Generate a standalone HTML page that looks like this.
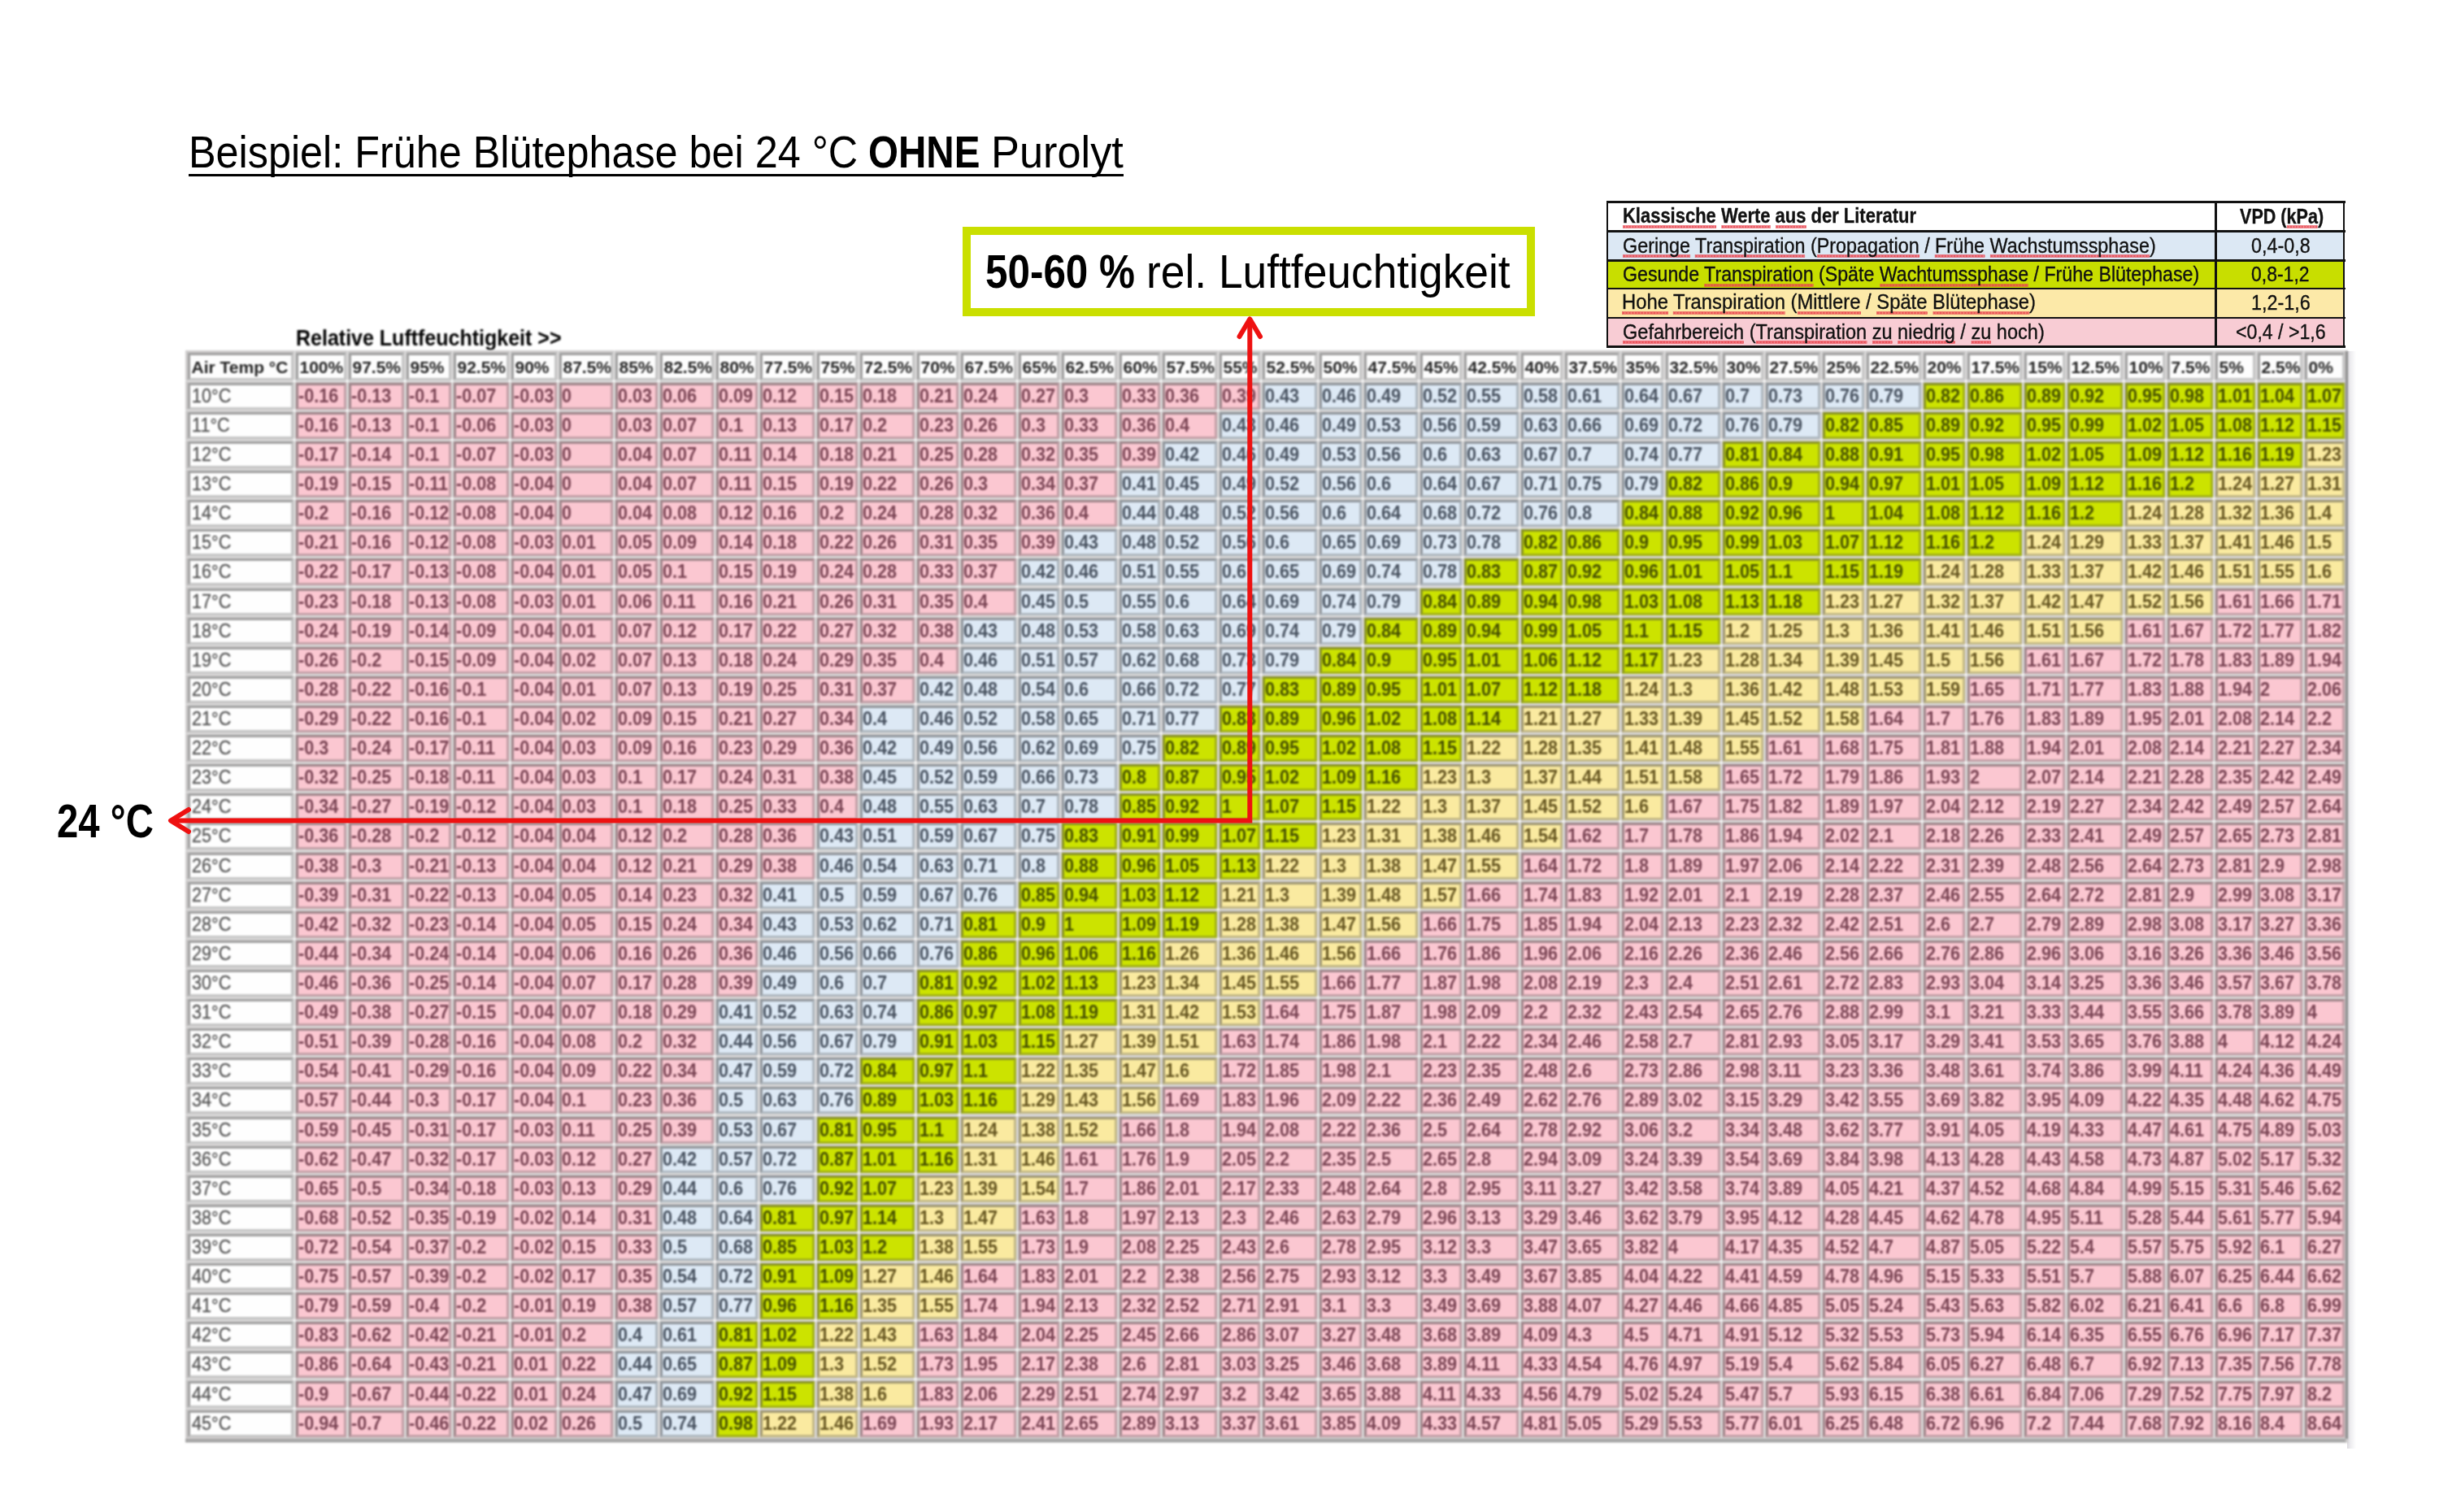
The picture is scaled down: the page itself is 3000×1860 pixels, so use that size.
<!DOCTYPE html>
<html><head><meta charset="utf-8">
<style>
html,body{margin:0;padding:0;background:#fff;}
body{width:3000px;height:1860px;position:relative;overflow:hidden;font-family:"Liberation Sans",sans-serif;}
.abs{position:absolute;white-space:nowrap;}
.t{line-height:1;color:#111;transform-origin:0 0;}
#tul{left:232px;top:213.5px;width:1150px;height:3.5px;background:#000;}
#gbox{left:1184px;top:278.6px;width:684px;height:90.5px;border:10px solid #cadf00;background:#fff;}
#tbl{position:absolute;left:228px;top:431px;width:2660px;height:1343.5px;background:#cfcdcd;filter:blur(1px);}
.c{position:absolute;box-sizing:border-box;border-style:solid;border-width:3.5px 3.5px 3.5px 3.5px;
   border-color:rgba(70,70,70,.5) rgba(70,70,70,.3) rgba(70,70,70,.3) rgba(70,70,70,.5);
   font-size:24px;line-height:26.5px;padding-left:0;white-space:nowrap;overflow:hidden;font-weight:bold;}
.c i{display:inline-block;font-style:normal;transform:scaleX(.9);transform-origin:0 0;margin-left:-0.5px;}
.h{background:#fdfdfd;color:#222;font-weight:bold;font-size:21px;line-height:30.9px;}
.h i{transform:none;margin-left:1.5px;}
.l i{margin-left:1.5px;}
.l{background:#fefefe;color:#555;font-weight:normal;-webkit-text-stroke:0.3px currentColor;}
.p{background:#fbc7d1;color:#7a4454;}
.b{background:#dde9f5;color:#485260;}
.g{background:#cce300;color:#465000;}
.y{background:#faeaa0;color:#665620;}
#cells{position:absolute;left:0;top:0;}
.lg{-webkit-text-stroke:0.35px currentColor;}
.wv{background-image:linear-gradient(45deg,transparent 30%,rgba(232,70,80,.7) 30%,rgba(232,70,80,.7) 65%,transparent 65%),linear-gradient(135deg,transparent 30%,rgba(232,70,80,.7) 30%,rgba(232,70,80,.7) 65%,transparent 65%);background-size:4px 4px;background-repeat:repeat-x;background-position:0 100%;padding-bottom:1.5px;}
</style></head><body>
<div id="tul" class="abs"></div>
<div id="gbox" class="abs"></div>
<div class="abs" style="left:1977px;top:248.6px;width:906px;height:35.7px;background:#ffffff"></div>
<div class="abs" style="left:1977px;top:284.3px;width:906px;height:36.4px;background:#dce8f4"></div>
<div class="abs" style="left:1977px;top:320.7px;width:906px;height:34.1px;background:#c8de00"></div>
<div class="abs" style="left:1977px;top:354.8px;width:906px;height:36.0px;background:#fce9a8"></div>
<div class="abs" style="left:1977px;top:390.8px;width:906px;height:35.7px;background:#f8ccd4"></div>
<div class="abs" style="left:1975.5px;top:247.30px;width:909px;height:2.6px;background:#111"></div>
<div class="abs" style="left:1975.5px;top:283.00px;width:909px;height:2.6px;background:#111"></div>
<div class="abs" style="left:1975.5px;top:319.40px;width:909px;height:2.6px;background:#111"></div>
<div class="abs" style="left:1975.5px;top:353.50px;width:909px;height:2.6px;background:#111"></div>
<div class="abs" style="left:1975.5px;top:389.50px;width:909px;height:2.6px;background:#111"></div>
<div class="abs" style="left:1975.5px;top:425.20px;width:909px;height:2.6px;background:#111"></div>
<div class="abs" style="left:1975.70px;top:247.3px;width:2.6px;height:180.5px;background:#111"></div>
<div class="abs" style="left:2724.00px;top:247.3px;width:2.6px;height:180.5px;background:#111"></div>
<div class="abs" style="left:2881.70px;top:247.3px;width:2.6px;height:180.5px;background:#111"></div>
<div class="abs t lg" style="left:1995.57px;top:253.13px;font-size:25.00px;font-weight:bold;transform:scaleX(0.8785);"><span class="wv">Klassische</span> <span class="wv">Werte</span> <span class="wv">aus</span> der Literatur</div>
<div class="abs t lg" style="left:1995.83px;top:289.83px;font-size:25.00px;transform:scaleX(0.9337);"><span class="wv">Geringe</span> <span class="wv">Transpiration</span> (<span class="wv">Propagation</span> / <span class="wv">Frühe</span> <span class="wv">Wachstumssphase</span>)</div>
<div class="abs t lg" style="left:1995.84px;top:325.33px;font-size:25.00px;transform:scaleX(0.9272);">Gesunde <span class="wv">Transpiration</span> (Späte <span class="wv">Wachtumssphase</span> / Frühe Blütephase)</div>
<div class="abs t lg" style="left:1995.10px;top:359.23px;font-size:25.00px;transform:scaleX(0.9513);"><span class="wv">Hohe</span> <span class="wv">Transpiration</span> (<span class="wv">Mittlere</span> / <span class="wv">Späte</span> <span class="wv">Blütephase</span>)</div>
<div class="abs t lg" style="left:1995.82px;top:395.63px;font-size:25.00px;transform:scaleX(0.9418);"><span class="wv">Gefahrbereich</span> (<span class="wv">Transpiration</span> <span class="wv">zu</span> <span class="wv">niedrig</span> / <span class="wv">zu</span> hoch)</div>
<div class="abs t lg" style="left:2754.59px;top:253.83px;font-size:25.00px;font-weight:bold;transform:scaleX(0.8626);">VPD (<span class="wv">kPa</span>)</div>
<div class="abs t lg" style="left:2769.07px;top:290.03px;font-size:25.00px;transform:scaleX(0.9333);">0,4-0,8</div>
<div class="abs t lg" style="left:2769.08px;top:325.33px;font-size:25.00px;transform:scaleX(0.9192);">0,8-1,2</div>
<div class="abs t lg" style="left:2768.84px;top:359.53px;font-size:25.00px;transform:scaleX(0.9362);">1,2-1,6</div>
<div class="abs t lg" style="left:2750.24px;top:395.93px;font-size:25.00px;transform:scaleX(0.9254);">&lt;0,4 / &gt;1,6</div>
<div class="abs t " style="left:363.87px;top:401.78px;font-size:27.90px;font-weight:bold;transform:scaleX(0.8964);filter:blur(1px);color:#000;">Relative Luftfeuchtigkeit &gt;&gt;</div>
<div class="abs t " style="left:70.24px;top:982.11px;font-size:57.50px;font-weight:bold;transform:scaleX(0.8227);color:#000;">24 °C</div>
<div class="abs t " style="left:231.97px;top:159.30px;font-size:56.10px;transform:scaleX(0.8973);color:#000;">Beispiel: Frühe Blütephase bei 24 °C</div>
<div class="abs t " style="left:1067.80px;top:159.30px;font-size:56.10px;font-weight:bold;transform:scaleX(0.8481);color:#000;">OHNE</div>
<div class="abs t " style="left:1218.81px;top:159.30px;font-size:56.10px;transform:scaleX(0.9327);color:#000;">Purolyt</div>
<div class="abs t " style="left:1212.32px;top:306.47px;font-size:57.56px;font-weight:bold;transform:scaleX(0.8583);color:#000;">50-60 %</div>
<div class="abs t " style="left:1409.73px;top:306.47px;font-size:57.56px;transform:scaleX(0.9267);color:#000;">rel. Luftfeuchtigkeit</div>
<div class="abs" style="left:2887px;top:432px;width:11px;height:1350px;background:linear-gradient(to right,#dcdadf,#eeedf0 40%,#fff)"></div>
<div id="tbl"><div id="cells" style="left:-228px;top:-431px">
<div class="abs" style="left:361.5px;top:431px;width:1px;height:1338px;background:#e4e4e4"></div>
<div class="abs" style="left:426.5px;top:431px;width:1px;height:1338px;background:#e4e4e4"></div>
<div class="abs" style="left:497.5px;top:431px;width:1px;height:1338px;background:#e4e4e4"></div>
<div class="abs" style="left:555.5px;top:431px;width:1px;height:1338px;background:#e4e4e4"></div>
<div class="abs" style="left:626.5px;top:431px;width:1px;height:1338px;background:#e4e4e4"></div>
<div class="abs" style="left:685.5px;top:431px;width:1px;height:1338px;background:#e4e4e4"></div>
<div class="abs" style="left:754.5px;top:431px;width:1px;height:1338px;background:#e4e4e4"></div>
<div class="abs" style="left:809.5px;top:431px;width:1px;height:1338px;background:#e4e4e4"></div>
<div class="abs" style="left:878.5px;top:431px;width:1px;height:1338px;background:#e4e4e4"></div>
<div class="abs" style="left:932.5px;top:431px;width:1px;height:1338px;background:#e4e4e4"></div>
<div class="abs" style="left:1002.5px;top:431px;width:1px;height:1338px;background:#e4e4e4"></div>
<div class="abs" style="left:1055.5px;top:431px;width:1px;height:1338px;background:#e4e4e4"></div>
<div class="abs" style="left:1125.5px;top:431px;width:1px;height:1338px;background:#e4e4e4"></div>
<div class="abs" style="left:1179.5px;top:431px;width:1px;height:1338px;background:#e4e4e4"></div>
<div class="abs" style="left:1250.5px;top:431px;width:1px;height:1338px;background:#e4e4e4"></div>
<div class="abs" style="left:1303.5px;top:431px;width:1px;height:1338px;background:#e4e4e4"></div>
<div class="abs" style="left:1374.5px;top:431px;width:1px;height:1338px;background:#e4e4e4"></div>
<div class="abs" style="left:1427.5px;top:431px;width:1px;height:1338px;background:#e4e4e4"></div>
<div class="abs" style="left:1497.5px;top:431px;width:1px;height:1338px;background:#e4e4e4"></div>
<div class="abs" style="left:1550.5px;top:431px;width:1px;height:1338px;background:#e4e4e4"></div>
<div class="abs" style="left:1620.5px;top:431px;width:1px;height:1338px;background:#e4e4e4"></div>
<div class="abs" style="left:1675.5px;top:431px;width:1px;height:1338px;background:#e4e4e4"></div>
<div class="abs" style="left:1744.5px;top:431px;width:1px;height:1338px;background:#e4e4e4"></div>
<div class="abs" style="left:1798.5px;top:431px;width:1px;height:1338px;background:#e4e4e4"></div>
<div class="abs" style="left:1868.5px;top:431px;width:1px;height:1338px;background:#e4e4e4"></div>
<div class="abs" style="left:1922.5px;top:431px;width:1px;height:1338px;background:#e4e4e4"></div>
<div class="abs" style="left:1992.5px;top:431px;width:1px;height:1338px;background:#e4e4e4"></div>
<div class="abs" style="left:2046.5px;top:431px;width:1px;height:1338px;background:#e4e4e4"></div>
<div class="abs" style="left:2116.5px;top:431px;width:1px;height:1338px;background:#e4e4e4"></div>
<div class="abs" style="left:2169.5px;top:431px;width:1px;height:1338px;background:#e4e4e4"></div>
<div class="abs" style="left:2239.5px;top:431px;width:1px;height:1338px;background:#e4e4e4"></div>
<div class="abs" style="left:2293.5px;top:431px;width:1px;height:1338px;background:#e4e4e4"></div>
<div class="abs" style="left:2363.5px;top:431px;width:1px;height:1338px;background:#e4e4e4"></div>
<div class="abs" style="left:2417.5px;top:431px;width:1px;height:1338px;background:#e4e4e4"></div>
<div class="abs" style="left:2487.5px;top:431px;width:1px;height:1338px;background:#e4e4e4"></div>
<div class="abs" style="left:2540.5px;top:431px;width:1px;height:1338px;background:#e4e4e4"></div>
<div class="abs" style="left:2611.5px;top:431px;width:1px;height:1338px;background:#e4e4e4"></div>
<div class="abs" style="left:2663.5px;top:431px;width:1px;height:1338px;background:#e4e4e4"></div>
<div class="abs" style="left:2722.5px;top:431px;width:1px;height:1338px;background:#e4e4e4"></div>
<div class="abs" style="left:2774.5px;top:431px;width:1px;height:1338px;background:#e4e4e4"></div>
<div class="abs" style="left:2832.5px;top:431px;width:1px;height:1338px;background:#e4e4e4"></div>
<div class="abs" style="left:228px;top:468.3px;width:2657px;height:1px;background:#e4e4e4"></div>
<div class="abs" style="left:228px;top:504.4px;width:2657px;height:1px;background:#e4e4e4"></div>
<div class="abs" style="left:228px;top:540.5px;width:2657px;height:1px;background:#e4e4e4"></div>
<div class="abs" style="left:228px;top:576.6px;width:2657px;height:1px;background:#e4e4e4"></div>
<div class="abs" style="left:228px;top:612.7px;width:2657px;height:1px;background:#e4e4e4"></div>
<div class="abs" style="left:228px;top:648.8px;width:2657px;height:1px;background:#e4e4e4"></div>
<div class="abs" style="left:228px;top:684.9px;width:2657px;height:1px;background:#e4e4e4"></div>
<div class="abs" style="left:228px;top:721.1px;width:2657px;height:1px;background:#e4e4e4"></div>
<div class="abs" style="left:228px;top:757.2px;width:2657px;height:1px;background:#e4e4e4"></div>
<div class="abs" style="left:228px;top:793.3px;width:2657px;height:1px;background:#e4e4e4"></div>
<div class="abs" style="left:228px;top:829.4px;width:2657px;height:1px;background:#e4e4e4"></div>
<div class="abs" style="left:228px;top:865.5px;width:2657px;height:1px;background:#e4e4e4"></div>
<div class="abs" style="left:228px;top:901.6px;width:2657px;height:1px;background:#e4e4e4"></div>
<div class="abs" style="left:228px;top:937.7px;width:2657px;height:1px;background:#e4e4e4"></div>
<div class="abs" style="left:228px;top:973.8px;width:2657px;height:1px;background:#e4e4e4"></div>
<div class="abs" style="left:228px;top:1009.9px;width:2657px;height:1px;background:#e4e4e4"></div>
<div class="abs" style="left:228px;top:1046.0px;width:2657px;height:1px;background:#e4e4e4"></div>
<div class="abs" style="left:228px;top:1082.1px;width:2657px;height:1px;background:#e4e4e4"></div>
<div class="abs" style="left:228px;top:1118.2px;width:2657px;height:1px;background:#e4e4e4"></div>
<div class="abs" style="left:228px;top:1154.4px;width:2657px;height:1px;background:#e4e4e4"></div>
<div class="abs" style="left:228px;top:1190.5px;width:2657px;height:1px;background:#e4e4e4"></div>
<div class="abs" style="left:228px;top:1226.6px;width:2657px;height:1px;background:#e4e4e4"></div>
<div class="abs" style="left:228px;top:1262.7px;width:2657px;height:1px;background:#e4e4e4"></div>
<div class="abs" style="left:228px;top:1298.8px;width:2657px;height:1px;background:#e4e4e4"></div>
<div class="abs" style="left:228px;top:1334.9px;width:2657px;height:1px;background:#e4e4e4"></div>
<div class="abs" style="left:228px;top:1371.0px;width:2657px;height:1px;background:#e4e4e4"></div>
<div class="abs" style="left:228px;top:1407.1px;width:2657px;height:1px;background:#e4e4e4"></div>
<div class="abs" style="left:228px;top:1443.2px;width:2657px;height:1px;background:#e4e4e4"></div>
<div class="abs" style="left:228px;top:1479.3px;width:2657px;height:1px;background:#e4e4e4"></div>
<div class="abs" style="left:228px;top:1515.4px;width:2657px;height:1px;background:#e4e4e4"></div>
<div class="abs" style="left:228px;top:1551.5px;width:2657px;height:1px;background:#e4e4e4"></div>
<div class="abs" style="left:228px;top:1587.6px;width:2657px;height:1px;background:#e4e4e4"></div>
<div class="abs" style="left:228px;top:1623.8px;width:2657px;height:1px;background:#e4e4e4"></div>
<div class="abs" style="left:228px;top:1659.9px;width:2657px;height:1px;background:#e4e4e4"></div>
<div class="abs" style="left:228px;top:1696.0px;width:2657px;height:1px;background:#e4e4e4"></div>
<div class="abs" style="left:228px;top:1732.1px;width:2657px;height:1px;background:#e4e4e4"></div>
<svg class="abs" style="left:0;top:0" width="3000" height="1860"><path fill="#fbfbfb" d="M360.5 467.3h3v3h-3zM360.5 503.4h3v3h-3zM360.5 539.5h3v3h-3zM360.5 575.6h3v3h-3zM360.5 611.7h3v3h-3zM360.5 647.8h3v3h-3zM360.5 683.9h3v3h-3zM360.5 720.1h3v3h-3zM360.5 756.2h3v3h-3zM360.5 792.3h3v3h-3zM360.5 828.4h3v3h-3zM360.5 864.5h3v3h-3zM360.5 900.6h3v3h-3zM360.5 936.7h3v3h-3zM360.5 972.8h3v3h-3zM360.5 1008.9h3v3h-3zM360.5 1045.0h3v3h-3zM360.5 1081.1h3v3h-3zM360.5 1117.2h3v3h-3zM360.5 1153.4h3v3h-3zM360.5 1189.5h3v3h-3zM360.5 1225.6h3v3h-3zM360.5 1261.7h3v3h-3zM360.5 1297.8h3v3h-3zM360.5 1333.9h3v3h-3zM360.5 1370.0h3v3h-3zM360.5 1406.1h3v3h-3zM360.5 1442.2h3v3h-3zM360.5 1478.3h3v3h-3zM360.5 1514.4h3v3h-3zM360.5 1550.5h3v3h-3zM360.5 1586.6h3v3h-3zM360.5 1622.8h3v3h-3zM360.5 1658.9h3v3h-3zM360.5 1695.0h3v3h-3zM360.5 1731.1h3v3h-3zM425.5 467.3h3v3h-3zM425.5 503.4h3v3h-3zM425.5 539.5h3v3h-3zM425.5 575.6h3v3h-3zM425.5 611.7h3v3h-3zM425.5 647.8h3v3h-3zM425.5 683.9h3v3h-3zM425.5 720.1h3v3h-3zM425.5 756.2h3v3h-3zM425.5 792.3h3v3h-3zM425.5 828.4h3v3h-3zM425.5 864.5h3v3h-3zM425.5 900.6h3v3h-3zM425.5 936.7h3v3h-3zM425.5 972.8h3v3h-3zM425.5 1008.9h3v3h-3zM425.5 1045.0h3v3h-3zM425.5 1081.1h3v3h-3zM425.5 1117.2h3v3h-3zM425.5 1153.4h3v3h-3zM425.5 1189.5h3v3h-3zM425.5 1225.6h3v3h-3zM425.5 1261.7h3v3h-3zM425.5 1297.8h3v3h-3zM425.5 1333.9h3v3h-3zM425.5 1370.0h3v3h-3zM425.5 1406.1h3v3h-3zM425.5 1442.2h3v3h-3zM425.5 1478.3h3v3h-3zM425.5 1514.4h3v3h-3zM425.5 1550.5h3v3h-3zM425.5 1586.6h3v3h-3zM425.5 1622.8h3v3h-3zM425.5 1658.9h3v3h-3zM425.5 1695.0h3v3h-3zM425.5 1731.1h3v3h-3zM496.5 467.3h3v3h-3zM496.5 503.4h3v3h-3zM496.5 539.5h3v3h-3zM496.5 575.6h3v3h-3zM496.5 611.7h3v3h-3zM496.5 647.8h3v3h-3zM496.5 683.9h3v3h-3zM496.5 720.1h3v3h-3zM496.5 756.2h3v3h-3zM496.5 792.3h3v3h-3zM496.5 828.4h3v3h-3zM496.5 864.5h3v3h-3zM496.5 900.6h3v3h-3zM496.5 936.7h3v3h-3zM496.5 972.8h3v3h-3zM496.5 1008.9h3v3h-3zM496.5 1045.0h3v3h-3zM496.5 1081.1h3v3h-3zM496.5 1117.2h3v3h-3zM496.5 1153.4h3v3h-3zM496.5 1189.5h3v3h-3zM496.5 1225.6h3v3h-3zM496.5 1261.7h3v3h-3zM496.5 1297.8h3v3h-3zM496.5 1333.9h3v3h-3zM496.5 1370.0h3v3h-3zM496.5 1406.1h3v3h-3zM496.5 1442.2h3v3h-3zM496.5 1478.3h3v3h-3zM496.5 1514.4h3v3h-3zM496.5 1550.5h3v3h-3zM496.5 1586.6h3v3h-3zM496.5 1622.8h3v3h-3zM496.5 1658.9h3v3h-3zM496.5 1695.0h3v3h-3zM496.5 1731.1h3v3h-3zM554.5 467.3h3v3h-3zM554.5 503.4h3v3h-3zM554.5 539.5h3v3h-3zM554.5 575.6h3v3h-3zM554.5 611.7h3v3h-3zM554.5 647.8h3v3h-3zM554.5 683.9h3v3h-3zM554.5 720.1h3v3h-3zM554.5 756.2h3v3h-3zM554.5 792.3h3v3h-3zM554.5 828.4h3v3h-3zM554.5 864.5h3v3h-3zM554.5 900.6h3v3h-3zM554.5 936.7h3v3h-3zM554.5 972.8h3v3h-3zM554.5 1008.9h3v3h-3zM554.5 1045.0h3v3h-3zM554.5 1081.1h3v3h-3zM554.5 1117.2h3v3h-3zM554.5 1153.4h3v3h-3zM554.5 1189.5h3v3h-3zM554.5 1225.6h3v3h-3zM554.5 1261.7h3v3h-3zM554.5 1297.8h3v3h-3zM554.5 1333.9h3v3h-3zM554.5 1370.0h3v3h-3zM554.5 1406.1h3v3h-3zM554.5 1442.2h3v3h-3zM554.5 1478.3h3v3h-3zM554.5 1514.4h3v3h-3zM554.5 1550.5h3v3h-3zM554.5 1586.6h3v3h-3zM554.5 1622.8h3v3h-3zM554.5 1658.9h3v3h-3zM554.5 1695.0h3v3h-3zM554.5 1731.1h3v3h-3zM625.5 467.3h3v3h-3zM625.5 503.4h3v3h-3zM625.5 539.5h3v3h-3zM625.5 575.6h3v3h-3zM625.5 611.7h3v3h-3zM625.5 647.8h3v3h-3zM625.5 683.9h3v3h-3zM625.5 720.1h3v3h-3zM625.5 756.2h3v3h-3zM625.5 792.3h3v3h-3zM625.5 828.4h3v3h-3zM625.5 864.5h3v3h-3zM625.5 900.6h3v3h-3zM625.5 936.7h3v3h-3zM625.5 972.8h3v3h-3zM625.5 1008.9h3v3h-3zM625.5 1045.0h3v3h-3zM625.5 1081.1h3v3h-3zM625.5 1117.2h3v3h-3zM625.5 1153.4h3v3h-3zM625.5 1189.5h3v3h-3zM625.5 1225.6h3v3h-3zM625.5 1261.7h3v3h-3zM625.5 1297.8h3v3h-3zM625.5 1333.9h3v3h-3zM625.5 1370.0h3v3h-3zM625.5 1406.1h3v3h-3zM625.5 1442.2h3v3h-3zM625.5 1478.3h3v3h-3zM625.5 1514.4h3v3h-3zM625.5 1550.5h3v3h-3zM625.5 1586.6h3v3h-3zM625.5 1622.8h3v3h-3zM625.5 1658.9h3v3h-3zM625.5 1695.0h3v3h-3zM625.5 1731.1h3v3h-3zM684.5 467.3h3v3h-3zM684.5 503.4h3v3h-3zM684.5 539.5h3v3h-3zM684.5 575.6h3v3h-3zM684.5 611.7h3v3h-3zM684.5 647.8h3v3h-3zM684.5 683.9h3v3h-3zM684.5 720.1h3v3h-3zM684.5 756.2h3v3h-3zM684.5 792.3h3v3h-3zM684.5 828.4h3v3h-3zM684.5 864.5h3v3h-3zM684.5 900.6h3v3h-3zM684.5 936.7h3v3h-3zM684.5 972.8h3v3h-3zM684.5 1008.9h3v3h-3zM684.5 1045.0h3v3h-3zM684.5 1081.1h3v3h-3zM684.5 1117.2h3v3h-3zM684.5 1153.4h3v3h-3zM684.5 1189.5h3v3h-3zM684.5 1225.6h3v3h-3zM684.5 1261.7h3v3h-3zM684.5 1297.8h3v3h-3zM684.5 1333.9h3v3h-3zM684.5 1370.0h3v3h-3zM684.5 1406.1h3v3h-3zM684.5 1442.2h3v3h-3zM684.5 1478.3h3v3h-3zM684.5 1514.4h3v3h-3zM684.5 1550.5h3v3h-3zM684.5 1586.6h3v3h-3zM684.5 1622.8h3v3h-3zM684.5 1658.9h3v3h-3zM684.5 1695.0h3v3h-3zM684.5 1731.1h3v3h-3zM753.5 467.3h3v3h-3zM753.5 503.4h3v3h-3zM753.5 539.5h3v3h-3zM753.5 575.6h3v3h-3zM753.5 611.7h3v3h-3zM753.5 647.8h3v3h-3zM753.5 683.9h3v3h-3zM753.5 720.1h3v3h-3zM753.5 756.2h3v3h-3zM753.5 792.3h3v3h-3zM753.5 828.4h3v3h-3zM753.5 864.5h3v3h-3zM753.5 900.6h3v3h-3zM753.5 936.7h3v3h-3zM753.5 972.8h3v3h-3zM753.5 1008.9h3v3h-3zM753.5 1045.0h3v3h-3zM753.5 1081.1h3v3h-3zM753.5 1117.2h3v3h-3zM753.5 1153.4h3v3h-3zM753.5 1189.5h3v3h-3zM753.5 1225.6h3v3h-3zM753.5 1261.7h3v3h-3zM753.5 1297.8h3v3h-3zM753.5 1333.9h3v3h-3zM753.5 1370.0h3v3h-3zM753.5 1406.1h3v3h-3zM753.5 1442.2h3v3h-3zM753.5 1478.3h3v3h-3zM753.5 1514.4h3v3h-3zM753.5 1550.5h3v3h-3zM753.5 1586.6h3v3h-3zM753.5 1622.8h3v3h-3zM753.5 1658.9h3v3h-3zM753.5 1695.0h3v3h-3zM753.5 1731.1h3v3h-3zM808.5 467.3h3v3h-3zM808.5 503.4h3v3h-3zM808.5 539.5h3v3h-3zM808.5 575.6h3v3h-3zM808.5 611.7h3v3h-3zM808.5 647.8h3v3h-3zM808.5 683.9h3v3h-3zM808.5 720.1h3v3h-3zM808.5 756.2h3v3h-3zM808.5 792.3h3v3h-3zM808.5 828.4h3v3h-3zM808.5 864.5h3v3h-3zM808.5 900.6h3v3h-3zM808.5 936.7h3v3h-3zM808.5 972.8h3v3h-3zM808.5 1008.9h3v3h-3zM808.5 1045.0h3v3h-3zM808.5 1081.1h3v3h-3zM808.5 1117.2h3v3h-3zM808.5 1153.4h3v3h-3zM808.5 1189.5h3v3h-3zM808.5 1225.6h3v3h-3zM808.5 1261.7h3v3h-3zM808.5 1297.8h3v3h-3zM808.5 1333.9h3v3h-3zM808.5 1370.0h3v3h-3zM808.5 1406.1h3v3h-3zM808.5 1442.2h3v3h-3zM808.5 1478.3h3v3h-3zM808.5 1514.4h3v3h-3zM808.5 1550.5h3v3h-3zM808.5 1586.6h3v3h-3zM808.5 1622.8h3v3h-3zM808.5 1658.9h3v3h-3zM808.5 1695.0h3v3h-3zM808.5 1731.1h3v3h-3zM877.5 467.3h3v3h-3zM877.5 503.4h3v3h-3zM877.5 539.5h3v3h-3zM877.5 575.6h3v3h-3zM877.5 611.7h3v3h-3zM877.5 647.8h3v3h-3zM877.5 683.9h3v3h-3zM877.5 720.1h3v3h-3zM877.5 756.2h3v3h-3zM877.5 792.3h3v3h-3zM877.5 828.4h3v3h-3zM877.5 864.5h3v3h-3zM877.5 900.6h3v3h-3zM877.5 936.7h3v3h-3zM877.5 972.8h3v3h-3zM877.5 1008.9h3v3h-3zM877.5 1045.0h3v3h-3zM877.5 1081.1h3v3h-3zM877.5 1117.2h3v3h-3zM877.5 1153.4h3v3h-3zM877.5 1189.5h3v3h-3zM877.5 1225.6h3v3h-3zM877.5 1261.7h3v3h-3zM877.5 1297.8h3v3h-3zM877.5 1333.9h3v3h-3zM877.5 1370.0h3v3h-3zM877.5 1406.1h3v3h-3zM877.5 1442.2h3v3h-3zM877.5 1478.3h3v3h-3zM877.5 1514.4h3v3h-3zM877.5 1550.5h3v3h-3zM877.5 1586.6h3v3h-3zM877.5 1622.8h3v3h-3zM877.5 1658.9h3v3h-3zM877.5 1695.0h3v3h-3zM877.5 1731.1h3v3h-3zM931.5 467.3h3v3h-3zM931.5 503.4h3v3h-3zM931.5 539.5h3v3h-3zM931.5 575.6h3v3h-3zM931.5 611.7h3v3h-3zM931.5 647.8h3v3h-3zM931.5 683.9h3v3h-3zM931.5 720.1h3v3h-3zM931.5 756.2h3v3h-3zM931.5 792.3h3v3h-3zM931.5 828.4h3v3h-3zM931.5 864.5h3v3h-3zM931.5 900.6h3v3h-3zM931.5 936.7h3v3h-3zM931.5 972.8h3v3h-3zM931.5 1008.9h3v3h-3zM931.5 1045.0h3v3h-3zM931.5 1081.1h3v3h-3zM931.5 1117.2h3v3h-3zM931.5 1153.4h3v3h-3zM931.5 1189.5h3v3h-3zM931.5 1225.6h3v3h-3zM931.5 1261.7h3v3h-3zM931.5 1297.8h3v3h-3zM931.5 1333.9h3v3h-3zM931.5 1370.0h3v3h-3zM931.5 1406.1h3v3h-3zM931.5 1442.2h3v3h-3zM931.5 1478.3h3v3h-3zM931.5 1514.4h3v3h-3zM931.5 1550.5h3v3h-3zM931.5 1586.6h3v3h-3zM931.5 1622.8h3v3h-3zM931.5 1658.9h3v3h-3zM931.5 1695.0h3v3h-3zM931.5 1731.1h3v3h-3zM1001.5 467.3h3v3h-3zM1001.5 503.4h3v3h-3zM1001.5 539.5h3v3h-3zM1001.5 575.6h3v3h-3zM1001.5 611.7h3v3h-3zM1001.5 647.8h3v3h-3zM1001.5 683.9h3v3h-3zM1001.5 720.1h3v3h-3zM1001.5 756.2h3v3h-3zM1001.5 792.3h3v3h-3zM1001.5 828.4h3v3h-3zM1001.5 864.5h3v3h-3zM1001.5 900.6h3v3h-3zM1001.5 936.7h3v3h-3zM1001.5 972.8h3v3h-3zM1001.5 1008.9h3v3h-3zM1001.5 1045.0h3v3h-3zM1001.5 1081.1h3v3h-3zM1001.5 1117.2h3v3h-3zM1001.5 1153.4h3v3h-3zM1001.5 1189.5h3v3h-3zM1001.5 1225.6h3v3h-3zM1001.5 1261.7h3v3h-3zM1001.5 1297.8h3v3h-3zM1001.5 1333.9h3v3h-3zM1001.5 1370.0h3v3h-3zM1001.5 1406.1h3v3h-3zM1001.5 1442.2h3v3h-3zM1001.5 1478.3h3v3h-3zM1001.5 1514.4h3v3h-3zM1001.5 1550.5h3v3h-3zM1001.5 1586.6h3v3h-3zM1001.5 1622.8h3v3h-3zM1001.5 1658.9h3v3h-3zM1001.5 1695.0h3v3h-3zM1001.5 1731.1h3v3h-3zM1054.5 467.3h3v3h-3zM1054.5 503.4h3v3h-3zM1054.5 539.5h3v3h-3zM1054.5 575.6h3v3h-3zM1054.5 611.7h3v3h-3zM1054.5 647.8h3v3h-3zM1054.5 683.9h3v3h-3zM1054.5 720.1h3v3h-3zM1054.5 756.2h3v3h-3zM1054.5 792.3h3v3h-3zM1054.5 828.4h3v3h-3zM1054.5 864.5h3v3h-3zM1054.5 900.6h3v3h-3zM1054.5 936.7h3v3h-3zM1054.5 972.8h3v3h-3zM1054.5 1008.9h3v3h-3zM1054.5 1045.0h3v3h-3zM1054.5 1081.1h3v3h-3zM1054.5 1117.2h3v3h-3zM1054.5 1153.4h3v3h-3zM1054.5 1189.5h3v3h-3zM1054.5 1225.6h3v3h-3zM1054.5 1261.7h3v3h-3zM1054.5 1297.8h3v3h-3zM1054.5 1333.9h3v3h-3zM1054.5 1370.0h3v3h-3zM1054.5 1406.1h3v3h-3zM1054.5 1442.2h3v3h-3zM1054.5 1478.3h3v3h-3zM1054.5 1514.4h3v3h-3zM1054.5 1550.5h3v3h-3zM1054.5 1586.6h3v3h-3zM1054.5 1622.8h3v3h-3zM1054.5 1658.9h3v3h-3zM1054.5 1695.0h3v3h-3zM1054.5 1731.1h3v3h-3zM1124.5 467.3h3v3h-3zM1124.5 503.4h3v3h-3zM1124.5 539.5h3v3h-3zM1124.5 575.6h3v3h-3zM1124.5 611.7h3v3h-3zM1124.5 647.8h3v3h-3zM1124.5 683.9h3v3h-3zM1124.5 720.1h3v3h-3zM1124.5 756.2h3v3h-3zM1124.5 792.3h3v3h-3zM1124.5 828.4h3v3h-3zM1124.5 864.5h3v3h-3zM1124.5 900.6h3v3h-3zM1124.5 936.7h3v3h-3zM1124.5 972.8h3v3h-3zM1124.5 1008.9h3v3h-3zM1124.5 1045.0h3v3h-3zM1124.5 1081.1h3v3h-3zM1124.5 1117.2h3v3h-3zM1124.5 1153.4h3v3h-3zM1124.5 1189.5h3v3h-3zM1124.5 1225.6h3v3h-3zM1124.5 1261.7h3v3h-3zM1124.5 1297.8h3v3h-3zM1124.5 1333.9h3v3h-3zM1124.5 1370.0h3v3h-3zM1124.5 1406.1h3v3h-3zM1124.5 1442.2h3v3h-3zM1124.5 1478.3h3v3h-3zM1124.5 1514.4h3v3h-3zM1124.5 1550.5h3v3h-3zM1124.5 1586.6h3v3h-3zM1124.5 1622.8h3v3h-3zM1124.5 1658.9h3v3h-3zM1124.5 1695.0h3v3h-3zM1124.5 1731.1h3v3h-3zM1178.5 467.3h3v3h-3zM1178.5 503.4h3v3h-3zM1178.5 539.5h3v3h-3zM1178.5 575.6h3v3h-3zM1178.5 611.7h3v3h-3zM1178.5 647.8h3v3h-3zM1178.5 683.9h3v3h-3zM1178.5 720.1h3v3h-3zM1178.5 756.2h3v3h-3zM1178.5 792.3h3v3h-3zM1178.5 828.4h3v3h-3zM1178.5 864.5h3v3h-3zM1178.5 900.6h3v3h-3zM1178.5 936.7h3v3h-3zM1178.5 972.8h3v3h-3zM1178.5 1008.9h3v3h-3zM1178.5 1045.0h3v3h-3zM1178.5 1081.1h3v3h-3zM1178.5 1117.2h3v3h-3zM1178.5 1153.4h3v3h-3zM1178.5 1189.5h3v3h-3zM1178.5 1225.6h3v3h-3zM1178.5 1261.7h3v3h-3zM1178.5 1297.8h3v3h-3zM1178.5 1333.9h3v3h-3zM1178.5 1370.0h3v3h-3zM1178.5 1406.1h3v3h-3zM1178.5 1442.2h3v3h-3zM1178.5 1478.3h3v3h-3zM1178.5 1514.4h3v3h-3zM1178.5 1550.5h3v3h-3zM1178.5 1586.6h3v3h-3zM1178.5 1622.8h3v3h-3zM1178.5 1658.9h3v3h-3zM1178.5 1695.0h3v3h-3zM1178.5 1731.1h3v3h-3zM1249.5 467.3h3v3h-3zM1249.5 503.4h3v3h-3zM1249.5 539.5h3v3h-3zM1249.5 575.6h3v3h-3zM1249.5 611.7h3v3h-3zM1249.5 647.8h3v3h-3zM1249.5 683.9h3v3h-3zM1249.5 720.1h3v3h-3zM1249.5 756.2h3v3h-3zM1249.5 792.3h3v3h-3zM1249.5 828.4h3v3h-3zM1249.5 864.5h3v3h-3zM1249.5 900.6h3v3h-3zM1249.5 936.7h3v3h-3zM1249.5 972.8h3v3h-3zM1249.5 1008.9h3v3h-3zM1249.5 1045.0h3v3h-3zM1249.5 1081.1h3v3h-3zM1249.5 1117.2h3v3h-3zM1249.5 1153.4h3v3h-3zM1249.5 1189.5h3v3h-3zM1249.5 1225.6h3v3h-3zM1249.5 1261.7h3v3h-3zM1249.5 1297.8h3v3h-3zM1249.5 1333.9h3v3h-3zM1249.5 1370.0h3v3h-3zM1249.5 1406.1h3v3h-3zM1249.5 1442.2h3v3h-3zM1249.5 1478.3h3v3h-3zM1249.5 1514.4h3v3h-3zM1249.5 1550.5h3v3h-3zM1249.5 1586.6h3v3h-3zM1249.5 1622.8h3v3h-3zM1249.5 1658.9h3v3h-3zM1249.5 1695.0h3v3h-3zM1249.5 1731.1h3v3h-3zM1302.5 467.3h3v3h-3zM1302.5 503.4h3v3h-3zM1302.5 539.5h3v3h-3zM1302.5 575.6h3v3h-3zM1302.5 611.7h3v3h-3zM1302.5 647.8h3v3h-3zM1302.5 683.9h3v3h-3zM1302.5 720.1h3v3h-3zM1302.5 756.2h3v3h-3zM1302.5 792.3h3v3h-3zM1302.5 828.4h3v3h-3zM1302.5 864.5h3v3h-3zM1302.5 900.6h3v3h-3zM1302.5 936.7h3v3h-3zM1302.5 972.8h3v3h-3zM1302.5 1008.9h3v3h-3zM1302.5 1045.0h3v3h-3zM1302.5 1081.1h3v3h-3zM1302.5 1117.2h3v3h-3zM1302.5 1153.4h3v3h-3zM1302.5 1189.5h3v3h-3zM1302.5 1225.6h3v3h-3zM1302.5 1261.7h3v3h-3zM1302.5 1297.8h3v3h-3zM1302.5 1333.9h3v3h-3zM1302.5 1370.0h3v3h-3zM1302.5 1406.1h3v3h-3zM1302.5 1442.2h3v3h-3zM1302.5 1478.3h3v3h-3zM1302.5 1514.4h3v3h-3zM1302.5 1550.5h3v3h-3zM1302.5 1586.6h3v3h-3zM1302.5 1622.8h3v3h-3zM1302.5 1658.9h3v3h-3zM1302.5 1695.0h3v3h-3zM1302.5 1731.1h3v3h-3zM1373.5 467.3h3v3h-3zM1373.5 503.4h3v3h-3zM1373.5 539.5h3v3h-3zM1373.5 575.6h3v3h-3zM1373.5 611.7h3v3h-3zM1373.5 647.8h3v3h-3zM1373.5 683.9h3v3h-3zM1373.5 720.1h3v3h-3zM1373.5 756.2h3v3h-3zM1373.5 792.3h3v3h-3zM1373.5 828.4h3v3h-3zM1373.5 864.5h3v3h-3zM1373.5 900.6h3v3h-3zM1373.5 936.7h3v3h-3zM1373.5 972.8h3v3h-3zM1373.5 1008.9h3v3h-3zM1373.5 1045.0h3v3h-3zM1373.5 1081.1h3v3h-3zM1373.5 1117.2h3v3h-3zM1373.5 1153.4h3v3h-3zM1373.5 1189.5h3v3h-3zM1373.5 1225.6h3v3h-3zM1373.5 1261.7h3v3h-3zM1373.5 1297.8h3v3h-3zM1373.5 1333.9h3v3h-3zM1373.5 1370.0h3v3h-3zM1373.5 1406.1h3v3h-3zM1373.5 1442.2h3v3h-3zM1373.5 1478.3h3v3h-3zM1373.5 1514.4h3v3h-3zM1373.5 1550.5h3v3h-3zM1373.5 1586.6h3v3h-3zM1373.5 1622.8h3v3h-3zM1373.5 1658.9h3v3h-3zM1373.5 1695.0h3v3h-3zM1373.5 1731.1h3v3h-3zM1426.5 467.3h3v3h-3zM1426.5 503.4h3v3h-3zM1426.5 539.5h3v3h-3zM1426.5 575.6h3v3h-3zM1426.5 611.7h3v3h-3zM1426.5 647.8h3v3h-3zM1426.5 683.9h3v3h-3zM1426.5 720.1h3v3h-3zM1426.5 756.2h3v3h-3zM1426.5 792.3h3v3h-3zM1426.5 828.4h3v3h-3zM1426.5 864.5h3v3h-3zM1426.5 900.6h3v3h-3zM1426.5 936.7h3v3h-3zM1426.5 972.8h3v3h-3zM1426.5 1008.9h3v3h-3zM1426.5 1045.0h3v3h-3zM1426.5 1081.1h3v3h-3zM1426.5 1117.2h3v3h-3zM1426.5 1153.4h3v3h-3zM1426.5 1189.5h3v3h-3zM1426.5 1225.6h3v3h-3zM1426.5 1261.7h3v3h-3zM1426.5 1297.8h3v3h-3zM1426.5 1333.9h3v3h-3zM1426.5 1370.0h3v3h-3zM1426.5 1406.1h3v3h-3zM1426.5 1442.2h3v3h-3zM1426.5 1478.3h3v3h-3zM1426.5 1514.4h3v3h-3zM1426.5 1550.5h3v3h-3zM1426.5 1586.6h3v3h-3zM1426.5 1622.8h3v3h-3zM1426.5 1658.9h3v3h-3zM1426.5 1695.0h3v3h-3zM1426.5 1731.1h3v3h-3zM1496.5 467.3h3v3h-3zM1496.5 503.4h3v3h-3zM1496.5 539.5h3v3h-3zM1496.5 575.6h3v3h-3zM1496.5 611.7h3v3h-3zM1496.5 647.8h3v3h-3zM1496.5 683.9h3v3h-3zM1496.5 720.1h3v3h-3zM1496.5 756.2h3v3h-3zM1496.5 792.3h3v3h-3zM1496.5 828.4h3v3h-3zM1496.5 864.5h3v3h-3zM1496.5 900.6h3v3h-3zM1496.5 936.7h3v3h-3zM1496.5 972.8h3v3h-3zM1496.5 1008.9h3v3h-3zM1496.5 1045.0h3v3h-3zM1496.5 1081.1h3v3h-3zM1496.5 1117.2h3v3h-3zM1496.5 1153.4h3v3h-3zM1496.5 1189.5h3v3h-3zM1496.5 1225.6h3v3h-3zM1496.5 1261.7h3v3h-3zM1496.5 1297.8h3v3h-3zM1496.5 1333.9h3v3h-3zM1496.5 1370.0h3v3h-3zM1496.5 1406.1h3v3h-3zM1496.5 1442.2h3v3h-3zM1496.5 1478.3h3v3h-3zM1496.5 1514.4h3v3h-3zM1496.5 1550.5h3v3h-3zM1496.5 1586.6h3v3h-3zM1496.5 1622.8h3v3h-3zM1496.5 1658.9h3v3h-3zM1496.5 1695.0h3v3h-3zM1496.5 1731.1h3v3h-3zM1549.5 467.3h3v3h-3zM1549.5 503.4h3v3h-3zM1549.5 539.5h3v3h-3zM1549.5 575.6h3v3h-3zM1549.5 611.7h3v3h-3zM1549.5 647.8h3v3h-3zM1549.5 683.9h3v3h-3zM1549.5 720.1h3v3h-3zM1549.5 756.2h3v3h-3zM1549.5 792.3h3v3h-3zM1549.5 828.4h3v3h-3zM1549.5 864.5h3v3h-3zM1549.5 900.6h3v3h-3zM1549.5 936.7h3v3h-3zM1549.5 972.8h3v3h-3zM1549.5 1008.9h3v3h-3zM1549.5 1045.0h3v3h-3zM1549.5 1081.1h3v3h-3zM1549.5 1117.2h3v3h-3zM1549.5 1153.4h3v3h-3zM1549.5 1189.5h3v3h-3zM1549.5 1225.6h3v3h-3zM1549.5 1261.7h3v3h-3zM1549.5 1297.8h3v3h-3zM1549.5 1333.9h3v3h-3zM1549.5 1370.0h3v3h-3zM1549.5 1406.1h3v3h-3zM1549.5 1442.2h3v3h-3zM1549.5 1478.3h3v3h-3zM1549.5 1514.4h3v3h-3zM1549.5 1550.5h3v3h-3zM1549.5 1586.6h3v3h-3zM1549.5 1622.8h3v3h-3zM1549.5 1658.9h3v3h-3zM1549.5 1695.0h3v3h-3zM1549.5 1731.1h3v3h-3zM1619.5 467.3h3v3h-3zM1619.5 503.4h3v3h-3zM1619.5 539.5h3v3h-3zM1619.5 575.6h3v3h-3zM1619.5 611.7h3v3h-3zM1619.5 647.8h3v3h-3zM1619.5 683.9h3v3h-3zM1619.5 720.1h3v3h-3zM1619.5 756.2h3v3h-3zM1619.5 792.3h3v3h-3zM1619.5 828.4h3v3h-3zM1619.5 864.5h3v3h-3zM1619.5 900.6h3v3h-3zM1619.5 936.7h3v3h-3zM1619.5 972.8h3v3h-3zM1619.5 1008.9h3v3h-3zM1619.5 1045.0h3v3h-3zM1619.5 1081.1h3v3h-3zM1619.5 1117.2h3v3h-3zM1619.5 1153.4h3v3h-3zM1619.5 1189.5h3v3h-3zM1619.5 1225.6h3v3h-3zM1619.5 1261.7h3v3h-3zM1619.5 1297.8h3v3h-3zM1619.5 1333.9h3v3h-3zM1619.5 1370.0h3v3h-3zM1619.5 1406.1h3v3h-3zM1619.5 1442.2h3v3h-3zM1619.5 1478.3h3v3h-3zM1619.5 1514.4h3v3h-3zM1619.5 1550.5h3v3h-3zM1619.5 1586.6h3v3h-3zM1619.5 1622.8h3v3h-3zM1619.5 1658.9h3v3h-3zM1619.5 1695.0h3v3h-3zM1619.5 1731.1h3v3h-3zM1674.5 467.3h3v3h-3zM1674.5 503.4h3v3h-3zM1674.5 539.5h3v3h-3zM1674.5 575.6h3v3h-3zM1674.5 611.7h3v3h-3zM1674.5 647.8h3v3h-3zM1674.5 683.9h3v3h-3zM1674.5 720.1h3v3h-3zM1674.5 756.2h3v3h-3zM1674.5 792.3h3v3h-3zM1674.5 828.4h3v3h-3zM1674.5 864.5h3v3h-3zM1674.5 900.6h3v3h-3zM1674.5 936.7h3v3h-3zM1674.5 972.8h3v3h-3zM1674.5 1008.9h3v3h-3zM1674.5 1045.0h3v3h-3zM1674.5 1081.1h3v3h-3zM1674.5 1117.2h3v3h-3zM1674.5 1153.4h3v3h-3zM1674.5 1189.5h3v3h-3zM1674.5 1225.6h3v3h-3zM1674.5 1261.7h3v3h-3zM1674.5 1297.8h3v3h-3zM1674.5 1333.9h3v3h-3zM1674.5 1370.0h3v3h-3zM1674.5 1406.1h3v3h-3zM1674.5 1442.2h3v3h-3zM1674.5 1478.3h3v3h-3zM1674.5 1514.4h3v3h-3zM1674.5 1550.5h3v3h-3zM1674.5 1586.6h3v3h-3zM1674.5 1622.8h3v3h-3zM1674.5 1658.9h3v3h-3zM1674.5 1695.0h3v3h-3zM1674.5 1731.1h3v3h-3zM1743.5 467.3h3v3h-3zM1743.5 503.4h3v3h-3zM1743.5 539.5h3v3h-3zM1743.5 575.6h3v3h-3zM1743.5 611.7h3v3h-3zM1743.5 647.8h3v3h-3zM1743.5 683.9h3v3h-3zM1743.5 720.1h3v3h-3zM1743.5 756.2h3v3h-3zM1743.5 792.3h3v3h-3zM1743.5 828.4h3v3h-3zM1743.5 864.5h3v3h-3zM1743.5 900.6h3v3h-3zM1743.5 936.7h3v3h-3zM1743.5 972.8h3v3h-3zM1743.5 1008.9h3v3h-3zM1743.5 1045.0h3v3h-3zM1743.5 1081.1h3v3h-3zM1743.5 1117.2h3v3h-3zM1743.5 1153.4h3v3h-3zM1743.5 1189.5h3v3h-3zM1743.5 1225.6h3v3h-3zM1743.5 1261.7h3v3h-3zM1743.5 1297.8h3v3h-3zM1743.5 1333.9h3v3h-3zM1743.5 1370.0h3v3h-3zM1743.5 1406.1h3v3h-3zM1743.5 1442.2h3v3h-3zM1743.5 1478.3h3v3h-3zM1743.5 1514.4h3v3h-3zM1743.5 1550.5h3v3h-3zM1743.5 1586.6h3v3h-3zM1743.5 1622.8h3v3h-3zM1743.5 1658.9h3v3h-3zM1743.5 1695.0h3v3h-3zM1743.5 1731.1h3v3h-3zM1797.5 467.3h3v3h-3zM1797.5 503.4h3v3h-3zM1797.5 539.5h3v3h-3zM1797.5 575.6h3v3h-3zM1797.5 611.7h3v3h-3zM1797.5 647.8h3v3h-3zM1797.5 683.9h3v3h-3zM1797.5 720.1h3v3h-3zM1797.5 756.2h3v3h-3zM1797.5 792.3h3v3h-3zM1797.5 828.4h3v3h-3zM1797.5 864.5h3v3h-3zM1797.5 900.6h3v3h-3zM1797.5 936.7h3v3h-3zM1797.5 972.8h3v3h-3zM1797.5 1008.9h3v3h-3zM1797.5 1045.0h3v3h-3zM1797.5 1081.1h3v3h-3zM1797.5 1117.2h3v3h-3zM1797.5 1153.4h3v3h-3zM1797.5 1189.5h3v3h-3zM1797.5 1225.6h3v3h-3zM1797.5 1261.7h3v3h-3zM1797.5 1297.8h3v3h-3zM1797.5 1333.9h3v3h-3zM1797.5 1370.0h3v3h-3zM1797.5 1406.1h3v3h-3zM1797.5 1442.2h3v3h-3zM1797.5 1478.3h3v3h-3zM1797.5 1514.4h3v3h-3zM1797.5 1550.5h3v3h-3zM1797.5 1586.6h3v3h-3zM1797.5 1622.8h3v3h-3zM1797.5 1658.9h3v3h-3zM1797.5 1695.0h3v3h-3zM1797.5 1731.1h3v3h-3zM1867.5 467.3h3v3h-3zM1867.5 503.4h3v3h-3zM1867.5 539.5h3v3h-3zM1867.5 575.6h3v3h-3zM1867.5 611.7h3v3h-3zM1867.5 647.8h3v3h-3zM1867.5 683.9h3v3h-3zM1867.5 720.1h3v3h-3zM1867.5 756.2h3v3h-3zM1867.5 792.3h3v3h-3zM1867.5 828.4h3v3h-3zM1867.5 864.5h3v3h-3zM1867.5 900.6h3v3h-3zM1867.5 936.7h3v3h-3zM1867.5 972.8h3v3h-3zM1867.5 1008.9h3v3h-3zM1867.5 1045.0h3v3h-3zM1867.5 1081.1h3v3h-3zM1867.5 1117.2h3v3h-3zM1867.5 1153.4h3v3h-3zM1867.5 1189.5h3v3h-3zM1867.5 1225.6h3v3h-3zM1867.5 1261.7h3v3h-3zM1867.5 1297.8h3v3h-3zM1867.5 1333.9h3v3h-3zM1867.5 1370.0h3v3h-3zM1867.5 1406.1h3v3h-3zM1867.5 1442.2h3v3h-3zM1867.5 1478.3h3v3h-3zM1867.5 1514.4h3v3h-3zM1867.5 1550.5h3v3h-3zM1867.5 1586.6h3v3h-3zM1867.5 1622.8h3v3h-3zM1867.5 1658.9h3v3h-3zM1867.5 1695.0h3v3h-3zM1867.5 1731.1h3v3h-3zM1921.5 467.3h3v3h-3zM1921.5 503.4h3v3h-3zM1921.5 539.5h3v3h-3zM1921.5 575.6h3v3h-3zM1921.5 611.7h3v3h-3zM1921.5 647.8h3v3h-3zM1921.5 683.9h3v3h-3zM1921.5 720.1h3v3h-3zM1921.5 756.2h3v3h-3zM1921.5 792.3h3v3h-3zM1921.5 828.4h3v3h-3zM1921.5 864.5h3v3h-3zM1921.5 900.6h3v3h-3zM1921.5 936.7h3v3h-3zM1921.5 972.8h3v3h-3zM1921.5 1008.9h3v3h-3zM1921.5 1045.0h3v3h-3zM1921.5 1081.1h3v3h-3zM1921.5 1117.2h3v3h-3zM1921.5 1153.4h3v3h-3zM1921.5 1189.5h3v3h-3zM1921.5 1225.6h3v3h-3zM1921.5 1261.7h3v3h-3zM1921.5 1297.8h3v3h-3zM1921.5 1333.9h3v3h-3zM1921.5 1370.0h3v3h-3zM1921.5 1406.1h3v3h-3zM1921.5 1442.2h3v3h-3zM1921.5 1478.3h3v3h-3zM1921.5 1514.4h3v3h-3zM1921.5 1550.5h3v3h-3zM1921.5 1586.6h3v3h-3zM1921.5 1622.8h3v3h-3zM1921.5 1658.9h3v3h-3zM1921.5 1695.0h3v3h-3zM1921.5 1731.1h3v3h-3zM1991.5 467.3h3v3h-3zM1991.5 503.4h3v3h-3zM1991.5 539.5h3v3h-3zM1991.5 575.6h3v3h-3zM1991.5 611.7h3v3h-3zM1991.5 647.8h3v3h-3zM1991.5 683.9h3v3h-3zM1991.5 720.1h3v3h-3zM1991.5 756.2h3v3h-3zM1991.5 792.3h3v3h-3zM1991.5 828.4h3v3h-3zM1991.5 864.5h3v3h-3zM1991.5 900.6h3v3h-3zM1991.5 936.7h3v3h-3zM1991.5 972.8h3v3h-3zM1991.5 1008.9h3v3h-3zM1991.5 1045.0h3v3h-3zM1991.5 1081.1h3v3h-3zM1991.5 1117.2h3v3h-3zM1991.5 1153.4h3v3h-3zM1991.5 1189.5h3v3h-3zM1991.5 1225.6h3v3h-3zM1991.5 1261.7h3v3h-3zM1991.5 1297.8h3v3h-3zM1991.5 1333.9h3v3h-3zM1991.5 1370.0h3v3h-3zM1991.5 1406.1h3v3h-3zM1991.5 1442.2h3v3h-3zM1991.5 1478.3h3v3h-3zM1991.5 1514.4h3v3h-3zM1991.5 1550.5h3v3h-3zM1991.5 1586.6h3v3h-3zM1991.5 1622.8h3v3h-3zM1991.5 1658.9h3v3h-3zM1991.5 1695.0h3v3h-3zM1991.5 1731.1h3v3h-3zM2045.5 467.3h3v3h-3zM2045.5 503.4h3v3h-3zM2045.5 539.5h3v3h-3zM2045.5 575.6h3v3h-3zM2045.5 611.7h3v3h-3zM2045.5 647.8h3v3h-3zM2045.5 683.9h3v3h-3zM2045.5 720.1h3v3h-3zM2045.5 756.2h3v3h-3zM2045.5 792.3h3v3h-3zM2045.5 828.4h3v3h-3zM2045.5 864.5h3v3h-3zM2045.5 900.6h3v3h-3zM2045.5 936.7h3v3h-3zM2045.5 972.8h3v3h-3zM2045.5 1008.9h3v3h-3zM2045.5 1045.0h3v3h-3zM2045.5 1081.1h3v3h-3zM2045.5 1117.2h3v3h-3zM2045.5 1153.4h3v3h-3zM2045.5 1189.5h3v3h-3zM2045.5 1225.6h3v3h-3zM2045.5 1261.7h3v3h-3zM2045.5 1297.8h3v3h-3zM2045.5 1333.9h3v3h-3zM2045.5 1370.0h3v3h-3zM2045.5 1406.1h3v3h-3zM2045.5 1442.2h3v3h-3zM2045.5 1478.3h3v3h-3zM2045.5 1514.4h3v3h-3zM2045.5 1550.5h3v3h-3zM2045.5 1586.6h3v3h-3zM2045.5 1622.8h3v3h-3zM2045.5 1658.9h3v3h-3zM2045.5 1695.0h3v3h-3zM2045.5 1731.1h3v3h-3zM2115.5 467.3h3v3h-3zM2115.5 503.4h3v3h-3zM2115.5 539.5h3v3h-3zM2115.5 575.6h3v3h-3zM2115.5 611.7h3v3h-3zM2115.5 647.8h3v3h-3zM2115.5 683.9h3v3h-3zM2115.5 720.1h3v3h-3zM2115.5 756.2h3v3h-3zM2115.5 792.3h3v3h-3zM2115.5 828.4h3v3h-3zM2115.5 864.5h3v3h-3zM2115.5 900.6h3v3h-3zM2115.5 936.7h3v3h-3zM2115.5 972.8h3v3h-3zM2115.5 1008.9h3v3h-3zM2115.5 1045.0h3v3h-3zM2115.5 1081.1h3v3h-3zM2115.5 1117.2h3v3h-3zM2115.5 1153.4h3v3h-3zM2115.5 1189.5h3v3h-3zM2115.5 1225.6h3v3h-3zM2115.5 1261.7h3v3h-3zM2115.5 1297.8h3v3h-3zM2115.5 1333.9h3v3h-3zM2115.5 1370.0h3v3h-3zM2115.5 1406.1h3v3h-3zM2115.5 1442.2h3v3h-3zM2115.5 1478.3h3v3h-3zM2115.5 1514.4h3v3h-3zM2115.5 1550.5h3v3h-3zM2115.5 1586.6h3v3h-3zM2115.5 1622.8h3v3h-3zM2115.5 1658.9h3v3h-3zM2115.5 1695.0h3v3h-3zM2115.5 1731.1h3v3h-3zM2168.5 467.3h3v3h-3zM2168.5 503.4h3v3h-3zM2168.5 539.5h3v3h-3zM2168.5 575.6h3v3h-3zM2168.5 611.7h3v3h-3zM2168.5 647.8h3v3h-3zM2168.5 683.9h3v3h-3zM2168.5 720.1h3v3h-3zM2168.5 756.2h3v3h-3zM2168.5 792.3h3v3h-3zM2168.5 828.4h3v3h-3zM2168.5 864.5h3v3h-3zM2168.5 900.6h3v3h-3zM2168.5 936.7h3v3h-3zM2168.5 972.8h3v3h-3zM2168.5 1008.9h3v3h-3zM2168.5 1045.0h3v3h-3zM2168.5 1081.1h3v3h-3zM2168.5 1117.2h3v3h-3zM2168.5 1153.4h3v3h-3zM2168.5 1189.5h3v3h-3zM2168.5 1225.6h3v3h-3zM2168.5 1261.7h3v3h-3zM2168.5 1297.8h3v3h-3zM2168.5 1333.9h3v3h-3zM2168.5 1370.0h3v3h-3zM2168.5 1406.1h3v3h-3zM2168.5 1442.2h3v3h-3zM2168.5 1478.3h3v3h-3zM2168.5 1514.4h3v3h-3zM2168.5 1550.5h3v3h-3zM2168.5 1586.6h3v3h-3zM2168.5 1622.8h3v3h-3zM2168.5 1658.9h3v3h-3zM2168.5 1695.0h3v3h-3zM2168.5 1731.1h3v3h-3zM2238.5 467.3h3v3h-3zM2238.5 503.4h3v3h-3zM2238.5 539.5h3v3h-3zM2238.5 575.6h3v3h-3zM2238.5 611.7h3v3h-3zM2238.5 647.8h3v3h-3zM2238.5 683.9h3v3h-3zM2238.5 720.1h3v3h-3zM2238.5 756.2h3v3h-3zM2238.5 792.3h3v3h-3zM2238.5 828.4h3v3h-3zM2238.5 864.5h3v3h-3zM2238.5 900.6h3v3h-3zM2238.5 936.7h3v3h-3zM2238.5 972.8h3v3h-3zM2238.5 1008.9h3v3h-3zM2238.5 1045.0h3v3h-3zM2238.5 1081.1h3v3h-3zM2238.5 1117.2h3v3h-3zM2238.5 1153.4h3v3h-3zM2238.5 1189.5h3v3h-3zM2238.5 1225.6h3v3h-3zM2238.5 1261.7h3v3h-3zM2238.5 1297.8h3v3h-3zM2238.5 1333.9h3v3h-3zM2238.5 1370.0h3v3h-3zM2238.5 1406.1h3v3h-3zM2238.5 1442.2h3v3h-3zM2238.5 1478.3h3v3h-3zM2238.5 1514.4h3v3h-3zM2238.5 1550.5h3v3h-3zM2238.5 1586.6h3v3h-3zM2238.5 1622.8h3v3h-3zM2238.5 1658.9h3v3h-3zM2238.5 1695.0h3v3h-3zM2238.5 1731.1h3v3h-3zM2292.5 467.3h3v3h-3zM2292.5 503.4h3v3h-3zM2292.5 539.5h3v3h-3zM2292.5 575.6h3v3h-3zM2292.5 611.7h3v3h-3zM2292.5 647.8h3v3h-3zM2292.5 683.9h3v3h-3zM2292.5 720.1h3v3h-3zM2292.5 756.2h3v3h-3zM2292.5 792.3h3v3h-3zM2292.5 828.4h3v3h-3zM2292.5 864.5h3v3h-3zM2292.5 900.6h3v3h-3zM2292.5 936.7h3v3h-3zM2292.5 972.8h3v3h-3zM2292.5 1008.9h3v3h-3zM2292.5 1045.0h3v3h-3zM2292.5 1081.1h3v3h-3zM2292.5 1117.2h3v3h-3zM2292.5 1153.4h3v3h-3zM2292.5 1189.5h3v3h-3zM2292.5 1225.6h3v3h-3zM2292.5 1261.7h3v3h-3zM2292.5 1297.8h3v3h-3zM2292.5 1333.9h3v3h-3zM2292.5 1370.0h3v3h-3zM2292.5 1406.1h3v3h-3zM2292.5 1442.2h3v3h-3zM2292.5 1478.3h3v3h-3zM2292.5 1514.4h3v3h-3zM2292.5 1550.5h3v3h-3zM2292.5 1586.6h3v3h-3zM2292.5 1622.8h3v3h-3zM2292.5 1658.9h3v3h-3zM2292.5 1695.0h3v3h-3zM2292.5 1731.1h3v3h-3zM2362.5 467.3h3v3h-3zM2362.5 503.4h3v3h-3zM2362.5 539.5h3v3h-3zM2362.5 575.6h3v3h-3zM2362.5 611.7h3v3h-3zM2362.5 647.8h3v3h-3zM2362.5 683.9h3v3h-3zM2362.5 720.1h3v3h-3zM2362.5 756.2h3v3h-3zM2362.5 792.3h3v3h-3zM2362.5 828.4h3v3h-3zM2362.5 864.5h3v3h-3zM2362.5 900.6h3v3h-3zM2362.5 936.7h3v3h-3zM2362.5 972.8h3v3h-3zM2362.5 1008.9h3v3h-3zM2362.5 1045.0h3v3h-3zM2362.5 1081.1h3v3h-3zM2362.5 1117.2h3v3h-3zM2362.5 1153.4h3v3h-3zM2362.5 1189.5h3v3h-3zM2362.5 1225.6h3v3h-3zM2362.5 1261.7h3v3h-3zM2362.5 1297.8h3v3h-3zM2362.5 1333.9h3v3h-3zM2362.5 1370.0h3v3h-3zM2362.5 1406.1h3v3h-3zM2362.5 1442.2h3v3h-3zM2362.5 1478.3h3v3h-3zM2362.5 1514.4h3v3h-3zM2362.5 1550.5h3v3h-3zM2362.5 1586.6h3v3h-3zM2362.5 1622.8h3v3h-3zM2362.5 1658.9h3v3h-3zM2362.5 1695.0h3v3h-3zM2362.5 1731.1h3v3h-3zM2416.5 467.3h3v3h-3zM2416.5 503.4h3v3h-3zM2416.5 539.5h3v3h-3zM2416.5 575.6h3v3h-3zM2416.5 611.7h3v3h-3zM2416.5 647.8h3v3h-3zM2416.5 683.9h3v3h-3zM2416.5 720.1h3v3h-3zM2416.5 756.2h3v3h-3zM2416.5 792.3h3v3h-3zM2416.5 828.4h3v3h-3zM2416.5 864.5h3v3h-3zM2416.5 900.6h3v3h-3zM2416.5 936.7h3v3h-3zM2416.5 972.8h3v3h-3zM2416.5 1008.9h3v3h-3zM2416.5 1045.0h3v3h-3zM2416.5 1081.1h3v3h-3zM2416.5 1117.2h3v3h-3zM2416.5 1153.4h3v3h-3zM2416.5 1189.5h3v3h-3zM2416.5 1225.6h3v3h-3zM2416.5 1261.7h3v3h-3zM2416.5 1297.8h3v3h-3zM2416.5 1333.9h3v3h-3zM2416.5 1370.0h3v3h-3zM2416.5 1406.1h3v3h-3zM2416.5 1442.2h3v3h-3zM2416.5 1478.3h3v3h-3zM2416.5 1514.4h3v3h-3zM2416.5 1550.5h3v3h-3zM2416.5 1586.6h3v3h-3zM2416.5 1622.8h3v3h-3zM2416.5 1658.9h3v3h-3zM2416.5 1695.0h3v3h-3zM2416.5 1731.1h3v3h-3zM2486.5 467.3h3v3h-3zM2486.5 503.4h3v3h-3zM2486.5 539.5h3v3h-3zM2486.5 575.6h3v3h-3zM2486.5 611.7h3v3h-3zM2486.5 647.8h3v3h-3zM2486.5 683.9h3v3h-3zM2486.5 720.1h3v3h-3zM2486.5 756.2h3v3h-3zM2486.5 792.3h3v3h-3zM2486.5 828.4h3v3h-3zM2486.5 864.5h3v3h-3zM2486.5 900.6h3v3h-3zM2486.5 936.7h3v3h-3zM2486.5 972.8h3v3h-3zM2486.5 1008.9h3v3h-3zM2486.5 1045.0h3v3h-3zM2486.5 1081.1h3v3h-3zM2486.5 1117.2h3v3h-3zM2486.5 1153.4h3v3h-3zM2486.5 1189.5h3v3h-3zM2486.5 1225.6h3v3h-3zM2486.5 1261.7h3v3h-3zM2486.5 1297.8h3v3h-3zM2486.5 1333.9h3v3h-3zM2486.5 1370.0h3v3h-3zM2486.5 1406.1h3v3h-3zM2486.5 1442.2h3v3h-3zM2486.5 1478.3h3v3h-3zM2486.5 1514.4h3v3h-3zM2486.5 1550.5h3v3h-3zM2486.5 1586.6h3v3h-3zM2486.5 1622.8h3v3h-3zM2486.5 1658.9h3v3h-3zM2486.5 1695.0h3v3h-3zM2486.5 1731.1h3v3h-3zM2539.5 467.3h3v3h-3zM2539.5 503.4h3v3h-3zM2539.5 539.5h3v3h-3zM2539.5 575.6h3v3h-3zM2539.5 611.7h3v3h-3zM2539.5 647.8h3v3h-3zM2539.5 683.9h3v3h-3zM2539.5 720.1h3v3h-3zM2539.5 756.2h3v3h-3zM2539.5 792.3h3v3h-3zM2539.5 828.4h3v3h-3zM2539.5 864.5h3v3h-3zM2539.5 900.6h3v3h-3zM2539.5 936.7h3v3h-3zM2539.5 972.8h3v3h-3zM2539.5 1008.9h3v3h-3zM2539.5 1045.0h3v3h-3zM2539.5 1081.1h3v3h-3zM2539.5 1117.2h3v3h-3zM2539.5 1153.4h3v3h-3zM2539.5 1189.5h3v3h-3zM2539.5 1225.6h3v3h-3zM2539.5 1261.7h3v3h-3zM2539.5 1297.8h3v3h-3zM2539.5 1333.9h3v3h-3zM2539.5 1370.0h3v3h-3zM2539.5 1406.1h3v3h-3zM2539.5 1442.2h3v3h-3zM2539.5 1478.3h3v3h-3zM2539.5 1514.4h3v3h-3zM2539.5 1550.5h3v3h-3zM2539.5 1586.6h3v3h-3zM2539.5 1622.8h3v3h-3zM2539.5 1658.9h3v3h-3zM2539.5 1695.0h3v3h-3zM2539.5 1731.1h3v3h-3zM2610.5 467.3h3v3h-3zM2610.5 503.4h3v3h-3zM2610.5 539.5h3v3h-3zM2610.5 575.6h3v3h-3zM2610.5 611.7h3v3h-3zM2610.5 647.8h3v3h-3zM2610.5 683.9h3v3h-3zM2610.5 720.1h3v3h-3zM2610.5 756.2h3v3h-3zM2610.5 792.3h3v3h-3zM2610.5 828.4h3v3h-3zM2610.5 864.5h3v3h-3zM2610.5 900.6h3v3h-3zM2610.5 936.7h3v3h-3zM2610.5 972.8h3v3h-3zM2610.5 1008.9h3v3h-3zM2610.5 1045.0h3v3h-3zM2610.5 1081.1h3v3h-3zM2610.5 1117.2h3v3h-3zM2610.5 1153.4h3v3h-3zM2610.5 1189.5h3v3h-3zM2610.5 1225.6h3v3h-3zM2610.5 1261.7h3v3h-3zM2610.5 1297.8h3v3h-3zM2610.5 1333.9h3v3h-3zM2610.5 1370.0h3v3h-3zM2610.5 1406.1h3v3h-3zM2610.5 1442.2h3v3h-3zM2610.5 1478.3h3v3h-3zM2610.5 1514.4h3v3h-3zM2610.5 1550.5h3v3h-3zM2610.5 1586.6h3v3h-3zM2610.5 1622.8h3v3h-3zM2610.5 1658.9h3v3h-3zM2610.5 1695.0h3v3h-3zM2610.5 1731.1h3v3h-3zM2662.5 467.3h3v3h-3zM2662.5 503.4h3v3h-3zM2662.5 539.5h3v3h-3zM2662.5 575.6h3v3h-3zM2662.5 611.7h3v3h-3zM2662.5 647.8h3v3h-3zM2662.5 683.9h3v3h-3zM2662.5 720.1h3v3h-3zM2662.5 756.2h3v3h-3zM2662.5 792.3h3v3h-3zM2662.5 828.4h3v3h-3zM2662.5 864.5h3v3h-3zM2662.5 900.6h3v3h-3zM2662.5 936.7h3v3h-3zM2662.5 972.8h3v3h-3zM2662.5 1008.9h3v3h-3zM2662.5 1045.0h3v3h-3zM2662.5 1081.1h3v3h-3zM2662.5 1117.2h3v3h-3zM2662.5 1153.4h3v3h-3zM2662.5 1189.5h3v3h-3zM2662.5 1225.6h3v3h-3zM2662.5 1261.7h3v3h-3zM2662.5 1297.8h3v3h-3zM2662.5 1333.9h3v3h-3zM2662.5 1370.0h3v3h-3zM2662.5 1406.1h3v3h-3zM2662.5 1442.2h3v3h-3zM2662.5 1478.3h3v3h-3zM2662.5 1514.4h3v3h-3zM2662.5 1550.5h3v3h-3zM2662.5 1586.6h3v3h-3zM2662.5 1622.8h3v3h-3zM2662.5 1658.9h3v3h-3zM2662.5 1695.0h3v3h-3zM2662.5 1731.1h3v3h-3zM2721.5 467.3h3v3h-3zM2721.5 503.4h3v3h-3zM2721.5 539.5h3v3h-3zM2721.5 575.6h3v3h-3zM2721.5 611.7h3v3h-3zM2721.5 647.8h3v3h-3zM2721.5 683.9h3v3h-3zM2721.5 720.1h3v3h-3zM2721.5 756.2h3v3h-3zM2721.5 792.3h3v3h-3zM2721.5 828.4h3v3h-3zM2721.5 864.5h3v3h-3zM2721.5 900.6h3v3h-3zM2721.5 936.7h3v3h-3zM2721.5 972.8h3v3h-3zM2721.5 1008.9h3v3h-3zM2721.5 1045.0h3v3h-3zM2721.5 1081.1h3v3h-3zM2721.5 1117.2h3v3h-3zM2721.5 1153.4h3v3h-3zM2721.5 1189.5h3v3h-3zM2721.5 1225.6h3v3h-3zM2721.5 1261.7h3v3h-3zM2721.5 1297.8h3v3h-3zM2721.5 1333.9h3v3h-3zM2721.5 1370.0h3v3h-3zM2721.5 1406.1h3v3h-3zM2721.5 1442.2h3v3h-3zM2721.5 1478.3h3v3h-3zM2721.5 1514.4h3v3h-3zM2721.5 1550.5h3v3h-3zM2721.5 1586.6h3v3h-3zM2721.5 1622.8h3v3h-3zM2721.5 1658.9h3v3h-3zM2721.5 1695.0h3v3h-3zM2721.5 1731.1h3v3h-3zM2773.5 467.3h3v3h-3zM2773.5 503.4h3v3h-3zM2773.5 539.5h3v3h-3zM2773.5 575.6h3v3h-3zM2773.5 611.7h3v3h-3zM2773.5 647.8h3v3h-3zM2773.5 683.9h3v3h-3zM2773.5 720.1h3v3h-3zM2773.5 756.2h3v3h-3zM2773.5 792.3h3v3h-3zM2773.5 828.4h3v3h-3zM2773.5 864.5h3v3h-3zM2773.5 900.6h3v3h-3zM2773.5 936.7h3v3h-3zM2773.5 972.8h3v3h-3zM2773.5 1008.9h3v3h-3zM2773.5 1045.0h3v3h-3zM2773.5 1081.1h3v3h-3zM2773.5 1117.2h3v3h-3zM2773.5 1153.4h3v3h-3zM2773.5 1189.5h3v3h-3zM2773.5 1225.6h3v3h-3zM2773.5 1261.7h3v3h-3zM2773.5 1297.8h3v3h-3zM2773.5 1333.9h3v3h-3zM2773.5 1370.0h3v3h-3zM2773.5 1406.1h3v3h-3zM2773.5 1442.2h3v3h-3zM2773.5 1478.3h3v3h-3zM2773.5 1514.4h3v3h-3zM2773.5 1550.5h3v3h-3zM2773.5 1586.6h3v3h-3zM2773.5 1622.8h3v3h-3zM2773.5 1658.9h3v3h-3zM2773.5 1695.0h3v3h-3zM2773.5 1731.1h3v3h-3zM2831.5 467.3h3v3h-3zM2831.5 503.4h3v3h-3zM2831.5 539.5h3v3h-3zM2831.5 575.6h3v3h-3zM2831.5 611.7h3v3h-3zM2831.5 647.8h3v3h-3zM2831.5 683.9h3v3h-3zM2831.5 720.1h3v3h-3zM2831.5 756.2h3v3h-3zM2831.5 792.3h3v3h-3zM2831.5 828.4h3v3h-3zM2831.5 864.5h3v3h-3zM2831.5 900.6h3v3h-3zM2831.5 936.7h3v3h-3zM2831.5 972.8h3v3h-3zM2831.5 1008.9h3v3h-3zM2831.5 1045.0h3v3h-3zM2831.5 1081.1h3v3h-3zM2831.5 1117.2h3v3h-3zM2831.5 1153.4h3v3h-3zM2831.5 1189.5h3v3h-3zM2831.5 1225.6h3v3h-3zM2831.5 1261.7h3v3h-3zM2831.5 1297.8h3v3h-3zM2831.5 1333.9h3v3h-3zM2831.5 1370.0h3v3h-3zM2831.5 1406.1h3v3h-3zM2831.5 1442.2h3v3h-3zM2831.5 1478.3h3v3h-3zM2831.5 1514.4h3v3h-3zM2831.5 1550.5h3v3h-3zM2831.5 1586.6h3v3h-3zM2831.5 1622.8h3v3h-3zM2831.5 1658.9h3v3h-3zM2831.5 1695.0h3v3h-3zM2831.5 1731.1h3v3h-3z"/></svg>
<div class="c h" style="left:231.0px;top:433.5px;width:130.0px;height:34.3px"><i>Air Temp °C</i></div>
<div class="c h" style="left:364.0px;top:433.5px;width:62.0px;height:34.3px"><i>100%</i></div>
<div class="c h" style="left:429.0px;top:433.5px;width:68.0px;height:34.3px"><i>97.5%</i></div>
<div class="c h" style="left:500.0px;top:433.5px;width:55.0px;height:34.3px"><i>95%</i></div>
<div class="c h" style="left:558.0px;top:433.5px;width:68.0px;height:34.3px"><i>92.5%</i></div>
<div class="c h" style="left:629.0px;top:433.5px;width:56.0px;height:34.3px"><i>90%</i></div>
<div class="c h" style="left:688.0px;top:433.5px;width:66.0px;height:34.3px"><i>87.5%</i></div>
<div class="c h" style="left:757.0px;top:433.5px;width:52.0px;height:34.3px"><i>85%</i></div>
<div class="c h" style="left:812.0px;top:433.5px;width:66.0px;height:34.3px"><i>82.5%</i></div>
<div class="c h" style="left:881.0px;top:433.5px;width:51.0px;height:34.3px"><i>80%</i></div>
<div class="c h" style="left:935.0px;top:433.5px;width:67.0px;height:34.3px"><i>77.5%</i></div>
<div class="c h" style="left:1005.0px;top:433.5px;width:50.0px;height:34.3px"><i>75%</i></div>
<div class="c h" style="left:1058.0px;top:433.5px;width:67.0px;height:34.3px"><i>72.5%</i></div>
<div class="c h" style="left:1128.0px;top:433.5px;width:51.0px;height:34.3px"><i>70%</i></div>
<div class="c h" style="left:1182.0px;top:433.5px;width:68.0px;height:34.3px"><i>67.5%</i></div>
<div class="c h" style="left:1253.0px;top:433.5px;width:50.0px;height:34.3px"><i>65%</i></div>
<div class="c h" style="left:1306.0px;top:433.5px;width:68.0px;height:34.3px"><i>62.5%</i></div>
<div class="c h" style="left:1377.0px;top:433.5px;width:50.0px;height:34.3px"><i>60%</i></div>
<div class="c h" style="left:1430.0px;top:433.5px;width:67.0px;height:34.3px"><i>57.5%</i></div>
<div class="c h" style="left:1500.0px;top:433.5px;width:50.0px;height:34.3px"><i>55%</i></div>
<div class="c h" style="left:1553.0px;top:433.5px;width:67.0px;height:34.3px"><i>52.5%</i></div>
<div class="c h" style="left:1623.0px;top:433.5px;width:52.0px;height:34.3px"><i>50%</i></div>
<div class="c h" style="left:1678.0px;top:433.5px;width:66.0px;height:34.3px"><i>47.5%</i></div>
<div class="c h" style="left:1747.0px;top:433.5px;width:51.0px;height:34.3px"><i>45%</i></div>
<div class="c h" style="left:1801.0px;top:433.5px;width:67.0px;height:34.3px"><i>42.5%</i></div>
<div class="c h" style="left:1871.0px;top:433.5px;width:51.0px;height:34.3px"><i>40%</i></div>
<div class="c h" style="left:1925.0px;top:433.5px;width:67.0px;height:34.3px"><i>37.5%</i></div>
<div class="c h" style="left:1995.0px;top:433.5px;width:51.0px;height:34.3px"><i>35%</i></div>
<div class="c h" style="left:2049.0px;top:433.5px;width:67.0px;height:34.3px"><i>32.5%</i></div>
<div class="c h" style="left:2119.0px;top:433.5px;width:50.0px;height:34.3px"><i>30%</i></div>
<div class="c h" style="left:2172.0px;top:433.5px;width:67.0px;height:34.3px"><i>27.5%</i></div>
<div class="c h" style="left:2242.0px;top:433.5px;width:51.0px;height:34.3px"><i>25%</i></div>
<div class="c h" style="left:2296.0px;top:433.5px;width:67.0px;height:34.3px"><i>22.5%</i></div>
<div class="c h" style="left:2366.0px;top:433.5px;width:51.0px;height:34.3px"><i>20%</i></div>
<div class="c h" style="left:2420.0px;top:433.5px;width:67.0px;height:34.3px"><i>17.5%</i></div>
<div class="c h" style="left:2490.0px;top:433.5px;width:50.0px;height:34.3px"><i>15%</i></div>
<div class="c h" style="left:2543.0px;top:433.5px;width:68.0px;height:34.3px"><i>12.5%</i></div>
<div class="c h" style="left:2614.0px;top:433.5px;width:49.0px;height:34.3px"><i>10%</i></div>
<div class="c h" style="left:2666.0px;top:433.5px;width:56.0px;height:34.3px"><i>7.5%</i></div>
<div class="c h" style="left:2725.0px;top:433.5px;width:49.0px;height:34.3px"><i>5%</i></div>
<div class="c h" style="left:2777.0px;top:433.5px;width:55.0px;height:34.3px"><i>2.5%</i></div>
<div class="c h" style="left:2835.0px;top:433.5px;width:49.0px;height:34.3px"><i>0%</i></div>
<div class="c l" style="left:231.0px;top:470.8px;width:130.0px;height:33.1px"><i>10°C</i></div>
<div class="c p" style="left:364.0px;top:470.8px;width:62.0px;height:33.1px"><i>-0.16</i></div>
<div class="c p" style="left:429.0px;top:470.8px;width:68.0px;height:33.1px"><i>-0.13</i></div>
<div class="c p" style="left:500.0px;top:470.8px;width:55.0px;height:33.1px"><i>-0.1</i></div>
<div class="c p" style="left:558.0px;top:470.8px;width:68.0px;height:33.1px"><i>-0.07</i></div>
<div class="c p" style="left:629.0px;top:470.8px;width:56.0px;height:33.1px"><i>-0.03</i></div>
<div class="c p" style="left:688.0px;top:470.8px;width:66.0px;height:33.1px"><i>0</i></div>
<div class="c p" style="left:757.0px;top:470.8px;width:52.0px;height:33.1px"><i>0.03</i></div>
<div class="c p" style="left:812.0px;top:470.8px;width:66.0px;height:33.1px"><i>0.06</i></div>
<div class="c p" style="left:881.0px;top:470.8px;width:51.0px;height:33.1px"><i>0.09</i></div>
<div class="c p" style="left:935.0px;top:470.8px;width:67.0px;height:33.1px"><i>0.12</i></div>
<div class="c p" style="left:1005.0px;top:470.8px;width:50.0px;height:33.1px"><i>0.15</i></div>
<div class="c p" style="left:1058.0px;top:470.8px;width:67.0px;height:33.1px"><i>0.18</i></div>
<div class="c p" style="left:1128.0px;top:470.8px;width:51.0px;height:33.1px"><i>0.21</i></div>
<div class="c p" style="left:1182.0px;top:470.8px;width:68.0px;height:33.1px"><i>0.24</i></div>
<div class="c p" style="left:1253.0px;top:470.8px;width:50.0px;height:33.1px"><i>0.27</i></div>
<div class="c p" style="left:1306.0px;top:470.8px;width:68.0px;height:33.1px"><i>0.3</i></div>
<div class="c p" style="left:1377.0px;top:470.8px;width:50.0px;height:33.1px"><i>0.33</i></div>
<div class="c p" style="left:1430.0px;top:470.8px;width:67.0px;height:33.1px"><i>0.36</i></div>
<div class="c p" style="left:1500.0px;top:470.8px;width:50.0px;height:33.1px"><i>0.39</i></div>
<div class="c b" style="left:1553.0px;top:470.8px;width:67.0px;height:33.1px"><i>0.43</i></div>
<div class="c b" style="left:1623.0px;top:470.8px;width:52.0px;height:33.1px"><i>0.46</i></div>
<div class="c b" style="left:1678.0px;top:470.8px;width:66.0px;height:33.1px"><i>0.49</i></div>
<div class="c b" style="left:1747.0px;top:470.8px;width:51.0px;height:33.1px"><i>0.52</i></div>
<div class="c b" style="left:1801.0px;top:470.8px;width:67.0px;height:33.1px"><i>0.55</i></div>
<div class="c b" style="left:1871.0px;top:470.8px;width:51.0px;height:33.1px"><i>0.58</i></div>
<div class="c b" style="left:1925.0px;top:470.8px;width:67.0px;height:33.1px"><i>0.61</i></div>
<div class="c b" style="left:1995.0px;top:470.8px;width:51.0px;height:33.1px"><i>0.64</i></div>
<div class="c b" style="left:2049.0px;top:470.8px;width:67.0px;height:33.1px"><i>0.67</i></div>
<div class="c b" style="left:2119.0px;top:470.8px;width:50.0px;height:33.1px"><i>0.7</i></div>
<div class="c b" style="left:2172.0px;top:470.8px;width:67.0px;height:33.1px"><i>0.73</i></div>
<div class="c b" style="left:2242.0px;top:470.8px;width:51.0px;height:33.1px"><i>0.76</i></div>
<div class="c b" style="left:2296.0px;top:470.8px;width:67.0px;height:33.1px"><i>0.79</i></div>
<div class="c g" style="left:2366.0px;top:470.8px;width:51.0px;height:33.1px"><i>0.82</i></div>
<div class="c g" style="left:2420.0px;top:470.8px;width:67.0px;height:33.1px"><i>0.86</i></div>
<div class="c g" style="left:2490.0px;top:470.8px;width:50.0px;height:33.1px"><i>0.89</i></div>
<div class="c g" style="left:2543.0px;top:470.8px;width:68.0px;height:33.1px"><i>0.92</i></div>
<div class="c g" style="left:2614.0px;top:470.8px;width:49.0px;height:33.1px"><i>0.95</i></div>
<div class="c g" style="left:2666.0px;top:470.8px;width:56.0px;height:33.1px"><i>0.98</i></div>
<div class="c g" style="left:2725.0px;top:470.8px;width:49.0px;height:33.1px"><i>1.01</i></div>
<div class="c g" style="left:2777.0px;top:470.8px;width:55.0px;height:33.1px"><i>1.04</i></div>
<div class="c g" style="left:2835.0px;top:470.8px;width:49.0px;height:33.1px"><i>1.07</i></div>
<div class="c l" style="left:231.0px;top:506.9px;width:130.0px;height:33.1px"><i>11°C</i></div>
<div class="c p" style="left:364.0px;top:506.9px;width:62.0px;height:33.1px"><i>-0.16</i></div>
<div class="c p" style="left:429.0px;top:506.9px;width:68.0px;height:33.1px"><i>-0.13</i></div>
<div class="c p" style="left:500.0px;top:506.9px;width:55.0px;height:33.1px"><i>-0.1</i></div>
<div class="c p" style="left:558.0px;top:506.9px;width:68.0px;height:33.1px"><i>-0.06</i></div>
<div class="c p" style="left:629.0px;top:506.9px;width:56.0px;height:33.1px"><i>-0.03</i></div>
<div class="c p" style="left:688.0px;top:506.9px;width:66.0px;height:33.1px"><i>0</i></div>
<div class="c p" style="left:757.0px;top:506.9px;width:52.0px;height:33.1px"><i>0.03</i></div>
<div class="c p" style="left:812.0px;top:506.9px;width:66.0px;height:33.1px"><i>0.07</i></div>
<div class="c p" style="left:881.0px;top:506.9px;width:51.0px;height:33.1px"><i>0.1</i></div>
<div class="c p" style="left:935.0px;top:506.9px;width:67.0px;height:33.1px"><i>0.13</i></div>
<div class="c p" style="left:1005.0px;top:506.9px;width:50.0px;height:33.1px"><i>0.17</i></div>
<div class="c p" style="left:1058.0px;top:506.9px;width:67.0px;height:33.1px"><i>0.2</i></div>
<div class="c p" style="left:1128.0px;top:506.9px;width:51.0px;height:33.1px"><i>0.23</i></div>
<div class="c p" style="left:1182.0px;top:506.9px;width:68.0px;height:33.1px"><i>0.26</i></div>
<div class="c p" style="left:1253.0px;top:506.9px;width:50.0px;height:33.1px"><i>0.3</i></div>
<div class="c p" style="left:1306.0px;top:506.9px;width:68.0px;height:33.1px"><i>0.33</i></div>
<div class="c p" style="left:1377.0px;top:506.9px;width:50.0px;height:33.1px"><i>0.36</i></div>
<div class="c p" style="left:1430.0px;top:506.9px;width:67.0px;height:33.1px"><i>0.4</i></div>
<div class="c b" style="left:1500.0px;top:506.9px;width:50.0px;height:33.1px"><i>0.43</i></div>
<div class="c b" style="left:1553.0px;top:506.9px;width:67.0px;height:33.1px"><i>0.46</i></div>
<div class="c b" style="left:1623.0px;top:506.9px;width:52.0px;height:33.1px"><i>0.49</i></div>
<div class="c b" style="left:1678.0px;top:506.9px;width:66.0px;height:33.1px"><i>0.53</i></div>
<div class="c b" style="left:1747.0px;top:506.9px;width:51.0px;height:33.1px"><i>0.56</i></div>
<div class="c b" style="left:1801.0px;top:506.9px;width:67.0px;height:33.1px"><i>0.59</i></div>
<div class="c b" style="left:1871.0px;top:506.9px;width:51.0px;height:33.1px"><i>0.63</i></div>
<div class="c b" style="left:1925.0px;top:506.9px;width:67.0px;height:33.1px"><i>0.66</i></div>
<div class="c b" style="left:1995.0px;top:506.9px;width:51.0px;height:33.1px"><i>0.69</i></div>
<div class="c b" style="left:2049.0px;top:506.9px;width:67.0px;height:33.1px"><i>0.72</i></div>
<div class="c b" style="left:2119.0px;top:506.9px;width:50.0px;height:33.1px"><i>0.76</i></div>
<div class="c b" style="left:2172.0px;top:506.9px;width:67.0px;height:33.1px"><i>0.79</i></div>
<div class="c g" style="left:2242.0px;top:506.9px;width:51.0px;height:33.1px"><i>0.82</i></div>
<div class="c g" style="left:2296.0px;top:506.9px;width:67.0px;height:33.1px"><i>0.85</i></div>
<div class="c g" style="left:2366.0px;top:506.9px;width:51.0px;height:33.1px"><i>0.89</i></div>
<div class="c g" style="left:2420.0px;top:506.9px;width:67.0px;height:33.1px"><i>0.92</i></div>
<div class="c g" style="left:2490.0px;top:506.9px;width:50.0px;height:33.1px"><i>0.95</i></div>
<div class="c g" style="left:2543.0px;top:506.9px;width:68.0px;height:33.1px"><i>0.99</i></div>
<div class="c g" style="left:2614.0px;top:506.9px;width:49.0px;height:33.1px"><i>1.02</i></div>
<div class="c g" style="left:2666.0px;top:506.9px;width:56.0px;height:33.1px"><i>1.05</i></div>
<div class="c g" style="left:2725.0px;top:506.9px;width:49.0px;height:33.1px"><i>1.08</i></div>
<div class="c g" style="left:2777.0px;top:506.9px;width:55.0px;height:33.1px"><i>1.12</i></div>
<div class="c g" style="left:2835.0px;top:506.9px;width:49.0px;height:33.1px"><i>1.15</i></div>
<div class="c l" style="left:231.0px;top:543.0px;width:130.0px;height:33.1px"><i>12°C</i></div>
<div class="c p" style="left:364.0px;top:543.0px;width:62.0px;height:33.1px"><i>-0.17</i></div>
<div class="c p" style="left:429.0px;top:543.0px;width:68.0px;height:33.1px"><i>-0.14</i></div>
<div class="c p" style="left:500.0px;top:543.0px;width:55.0px;height:33.1px"><i>-0.1</i></div>
<div class="c p" style="left:558.0px;top:543.0px;width:68.0px;height:33.1px"><i>-0.07</i></div>
<div class="c p" style="left:629.0px;top:543.0px;width:56.0px;height:33.1px"><i>-0.03</i></div>
<div class="c p" style="left:688.0px;top:543.0px;width:66.0px;height:33.1px"><i>0</i></div>
<div class="c p" style="left:757.0px;top:543.0px;width:52.0px;height:33.1px"><i>0.04</i></div>
<div class="c p" style="left:812.0px;top:543.0px;width:66.0px;height:33.1px"><i>0.07</i></div>
<div class="c p" style="left:881.0px;top:543.0px;width:51.0px;height:33.1px"><i>0.11</i></div>
<div class="c p" style="left:935.0px;top:543.0px;width:67.0px;height:33.1px"><i>0.14</i></div>
<div class="c p" style="left:1005.0px;top:543.0px;width:50.0px;height:33.1px"><i>0.18</i></div>
<div class="c p" style="left:1058.0px;top:543.0px;width:67.0px;height:33.1px"><i>0.21</i></div>
<div class="c p" style="left:1128.0px;top:543.0px;width:51.0px;height:33.1px"><i>0.25</i></div>
<div class="c p" style="left:1182.0px;top:543.0px;width:68.0px;height:33.1px"><i>0.28</i></div>
<div class="c p" style="left:1253.0px;top:543.0px;width:50.0px;height:33.1px"><i>0.32</i></div>
<div class="c p" style="left:1306.0px;top:543.0px;width:68.0px;height:33.1px"><i>0.35</i></div>
<div class="c p" style="left:1377.0px;top:543.0px;width:50.0px;height:33.1px"><i>0.39</i></div>
<div class="c b" style="left:1430.0px;top:543.0px;width:67.0px;height:33.1px"><i>0.42</i></div>
<div class="c b" style="left:1500.0px;top:543.0px;width:50.0px;height:33.1px"><i>0.46</i></div>
<div class="c b" style="left:1553.0px;top:543.0px;width:67.0px;height:33.1px"><i>0.49</i></div>
<div class="c b" style="left:1623.0px;top:543.0px;width:52.0px;height:33.1px"><i>0.53</i></div>
<div class="c b" style="left:1678.0px;top:543.0px;width:66.0px;height:33.1px"><i>0.56</i></div>
<div class="c b" style="left:1747.0px;top:543.0px;width:51.0px;height:33.1px"><i>0.6</i></div>
<div class="c b" style="left:1801.0px;top:543.0px;width:67.0px;height:33.1px"><i>0.63</i></div>
<div class="c b" style="left:1871.0px;top:543.0px;width:51.0px;height:33.1px"><i>0.67</i></div>
<div class="c b" style="left:1925.0px;top:543.0px;width:67.0px;height:33.1px"><i>0.7</i></div>
<div class="c b" style="left:1995.0px;top:543.0px;width:51.0px;height:33.1px"><i>0.74</i></div>
<div class="c b" style="left:2049.0px;top:543.0px;width:67.0px;height:33.1px"><i>0.77</i></div>
<div class="c g" style="left:2119.0px;top:543.0px;width:50.0px;height:33.1px"><i>0.81</i></div>
<div class="c g" style="left:2172.0px;top:543.0px;width:67.0px;height:33.1px"><i>0.84</i></div>
<div class="c g" style="left:2242.0px;top:543.0px;width:51.0px;height:33.1px"><i>0.88</i></div>
<div class="c g" style="left:2296.0px;top:543.0px;width:67.0px;height:33.1px"><i>0.91</i></div>
<div class="c g" style="left:2366.0px;top:543.0px;width:51.0px;height:33.1px"><i>0.95</i></div>
<div class="c g" style="left:2420.0px;top:543.0px;width:67.0px;height:33.1px"><i>0.98</i></div>
<div class="c g" style="left:2490.0px;top:543.0px;width:50.0px;height:33.1px"><i>1.02</i></div>
<div class="c g" style="left:2543.0px;top:543.0px;width:68.0px;height:33.1px"><i>1.05</i></div>
<div class="c g" style="left:2614.0px;top:543.0px;width:49.0px;height:33.1px"><i>1.09</i></div>
<div class="c g" style="left:2666.0px;top:543.0px;width:56.0px;height:33.1px"><i>1.12</i></div>
<div class="c g" style="left:2725.0px;top:543.0px;width:49.0px;height:33.1px"><i>1.16</i></div>
<div class="c g" style="left:2777.0px;top:543.0px;width:55.0px;height:33.1px"><i>1.19</i></div>
<div class="c y" style="left:2835.0px;top:543.0px;width:49.0px;height:33.1px"><i>1.23</i></div>
<div class="c l" style="left:231.0px;top:579.1px;width:130.0px;height:33.1px"><i>13°C</i></div>
<div class="c p" style="left:364.0px;top:579.1px;width:62.0px;height:33.1px"><i>-0.19</i></div>
<div class="c p" style="left:429.0px;top:579.1px;width:68.0px;height:33.1px"><i>-0.15</i></div>
<div class="c p" style="left:500.0px;top:579.1px;width:55.0px;height:33.1px"><i>-0.11</i></div>
<div class="c p" style="left:558.0px;top:579.1px;width:68.0px;height:33.1px"><i>-0.08</i></div>
<div class="c p" style="left:629.0px;top:579.1px;width:56.0px;height:33.1px"><i>-0.04</i></div>
<div class="c p" style="left:688.0px;top:579.1px;width:66.0px;height:33.1px"><i>0</i></div>
<div class="c p" style="left:757.0px;top:579.1px;width:52.0px;height:33.1px"><i>0.04</i></div>
<div class="c p" style="left:812.0px;top:579.1px;width:66.0px;height:33.1px"><i>0.07</i></div>
<div class="c p" style="left:881.0px;top:579.1px;width:51.0px;height:33.1px"><i>0.11</i></div>
<div class="c p" style="left:935.0px;top:579.1px;width:67.0px;height:33.1px"><i>0.15</i></div>
<div class="c p" style="left:1005.0px;top:579.1px;width:50.0px;height:33.1px"><i>0.19</i></div>
<div class="c p" style="left:1058.0px;top:579.1px;width:67.0px;height:33.1px"><i>0.22</i></div>
<div class="c p" style="left:1128.0px;top:579.1px;width:51.0px;height:33.1px"><i>0.26</i></div>
<div class="c p" style="left:1182.0px;top:579.1px;width:68.0px;height:33.1px"><i>0.3</i></div>
<div class="c p" style="left:1253.0px;top:579.1px;width:50.0px;height:33.1px"><i>0.34</i></div>
<div class="c p" style="left:1306.0px;top:579.1px;width:68.0px;height:33.1px"><i>0.37</i></div>
<div class="c b" style="left:1377.0px;top:579.1px;width:50.0px;height:33.1px"><i>0.41</i></div>
<div class="c b" style="left:1430.0px;top:579.1px;width:67.0px;height:33.1px"><i>0.45</i></div>
<div class="c b" style="left:1500.0px;top:579.1px;width:50.0px;height:33.1px"><i>0.49</i></div>
<div class="c b" style="left:1553.0px;top:579.1px;width:67.0px;height:33.1px"><i>0.52</i></div>
<div class="c b" style="left:1623.0px;top:579.1px;width:52.0px;height:33.1px"><i>0.56</i></div>
<div class="c b" style="left:1678.0px;top:579.1px;width:66.0px;height:33.1px"><i>0.6</i></div>
<div class="c b" style="left:1747.0px;top:579.1px;width:51.0px;height:33.1px"><i>0.64</i></div>
<div class="c b" style="left:1801.0px;top:579.1px;width:67.0px;height:33.1px"><i>0.67</i></div>
<div class="c b" style="left:1871.0px;top:579.1px;width:51.0px;height:33.1px"><i>0.71</i></div>
<div class="c b" style="left:1925.0px;top:579.1px;width:67.0px;height:33.1px"><i>0.75</i></div>
<div class="c b" style="left:1995.0px;top:579.1px;width:51.0px;height:33.1px"><i>0.79</i></div>
<div class="c g" style="left:2049.0px;top:579.1px;width:67.0px;height:33.1px"><i>0.82</i></div>
<div class="c g" style="left:2119.0px;top:579.1px;width:50.0px;height:33.1px"><i>0.86</i></div>
<div class="c g" style="left:2172.0px;top:579.1px;width:67.0px;height:33.1px"><i>0.9</i></div>
<div class="c g" style="left:2242.0px;top:579.1px;width:51.0px;height:33.1px"><i>0.94</i></div>
<div class="c g" style="left:2296.0px;top:579.1px;width:67.0px;height:33.1px"><i>0.97</i></div>
<div class="c g" style="left:2366.0px;top:579.1px;width:51.0px;height:33.1px"><i>1.01</i></div>
<div class="c g" style="left:2420.0px;top:579.1px;width:67.0px;height:33.1px"><i>1.05</i></div>
<div class="c g" style="left:2490.0px;top:579.1px;width:50.0px;height:33.1px"><i>1.09</i></div>
<div class="c g" style="left:2543.0px;top:579.1px;width:68.0px;height:33.1px"><i>1.12</i></div>
<div class="c g" style="left:2614.0px;top:579.1px;width:49.0px;height:33.1px"><i>1.16</i></div>
<div class="c g" style="left:2666.0px;top:579.1px;width:56.0px;height:33.1px"><i>1.2</i></div>
<div class="c y" style="left:2725.0px;top:579.1px;width:49.0px;height:33.1px"><i>1.24</i></div>
<div class="c y" style="left:2777.0px;top:579.1px;width:55.0px;height:33.1px"><i>1.27</i></div>
<div class="c y" style="left:2835.0px;top:579.1px;width:49.0px;height:33.1px"><i>1.31</i></div>
<div class="c l" style="left:231.0px;top:615.2px;width:130.0px;height:33.1px"><i>14°C</i></div>
<div class="c p" style="left:364.0px;top:615.2px;width:62.0px;height:33.1px"><i>-0.2</i></div>
<div class="c p" style="left:429.0px;top:615.2px;width:68.0px;height:33.1px"><i>-0.16</i></div>
<div class="c p" style="left:500.0px;top:615.2px;width:55.0px;height:33.1px"><i>-0.12</i></div>
<div class="c p" style="left:558.0px;top:615.2px;width:68.0px;height:33.1px"><i>-0.08</i></div>
<div class="c p" style="left:629.0px;top:615.2px;width:56.0px;height:33.1px"><i>-0.04</i></div>
<div class="c p" style="left:688.0px;top:615.2px;width:66.0px;height:33.1px"><i>0</i></div>
<div class="c p" style="left:757.0px;top:615.2px;width:52.0px;height:33.1px"><i>0.04</i></div>
<div class="c p" style="left:812.0px;top:615.2px;width:66.0px;height:33.1px"><i>0.08</i></div>
<div class="c p" style="left:881.0px;top:615.2px;width:51.0px;height:33.1px"><i>0.12</i></div>
<div class="c p" style="left:935.0px;top:615.2px;width:67.0px;height:33.1px"><i>0.16</i></div>
<div class="c p" style="left:1005.0px;top:615.2px;width:50.0px;height:33.1px"><i>0.2</i></div>
<div class="c p" style="left:1058.0px;top:615.2px;width:67.0px;height:33.1px"><i>0.24</i></div>
<div class="c p" style="left:1128.0px;top:615.2px;width:51.0px;height:33.1px"><i>0.28</i></div>
<div class="c p" style="left:1182.0px;top:615.2px;width:68.0px;height:33.1px"><i>0.32</i></div>
<div class="c p" style="left:1253.0px;top:615.2px;width:50.0px;height:33.1px"><i>0.36</i></div>
<div class="c p" style="left:1306.0px;top:615.2px;width:68.0px;height:33.1px"><i>0.4</i></div>
<div class="c b" style="left:1377.0px;top:615.2px;width:50.0px;height:33.1px"><i>0.44</i></div>
<div class="c b" style="left:1430.0px;top:615.2px;width:67.0px;height:33.1px"><i>0.48</i></div>
<div class="c b" style="left:1500.0px;top:615.2px;width:50.0px;height:33.1px"><i>0.52</i></div>
<div class="c b" style="left:1553.0px;top:615.2px;width:67.0px;height:33.1px"><i>0.56</i></div>
<div class="c b" style="left:1623.0px;top:615.2px;width:52.0px;height:33.1px"><i>0.6</i></div>
<div class="c b" style="left:1678.0px;top:615.2px;width:66.0px;height:33.1px"><i>0.64</i></div>
<div class="c b" style="left:1747.0px;top:615.2px;width:51.0px;height:33.1px"><i>0.68</i></div>
<div class="c b" style="left:1801.0px;top:615.2px;width:67.0px;height:33.1px"><i>0.72</i></div>
<div class="c b" style="left:1871.0px;top:615.2px;width:51.0px;height:33.1px"><i>0.76</i></div>
<div class="c b" style="left:1925.0px;top:615.2px;width:67.0px;height:33.1px"><i>0.8</i></div>
<div class="c g" style="left:1995.0px;top:615.2px;width:51.0px;height:33.1px"><i>0.84</i></div>
<div class="c g" style="left:2049.0px;top:615.2px;width:67.0px;height:33.1px"><i>0.88</i></div>
<div class="c g" style="left:2119.0px;top:615.2px;width:50.0px;height:33.1px"><i>0.92</i></div>
<div class="c g" style="left:2172.0px;top:615.2px;width:67.0px;height:33.1px"><i>0.96</i></div>
<div class="c g" style="left:2242.0px;top:615.2px;width:51.0px;height:33.1px"><i>1</i></div>
<div class="c g" style="left:2296.0px;top:615.2px;width:67.0px;height:33.1px"><i>1.04</i></div>
<div class="c g" style="left:2366.0px;top:615.2px;width:51.0px;height:33.1px"><i>1.08</i></div>
<div class="c g" style="left:2420.0px;top:615.2px;width:67.0px;height:33.1px"><i>1.12</i></div>
<div class="c g" style="left:2490.0px;top:615.2px;width:50.0px;height:33.1px"><i>1.16</i></div>
<div class="c g" style="left:2543.0px;top:615.2px;width:68.0px;height:33.1px"><i>1.2</i></div>
<div class="c y" style="left:2614.0px;top:615.2px;width:49.0px;height:33.1px"><i>1.24</i></div>
<div class="c y" style="left:2666.0px;top:615.2px;width:56.0px;height:33.1px"><i>1.28</i></div>
<div class="c y" style="left:2725.0px;top:615.2px;width:49.0px;height:33.1px"><i>1.32</i></div>
<div class="c y" style="left:2777.0px;top:615.2px;width:55.0px;height:33.1px"><i>1.36</i></div>
<div class="c y" style="left:2835.0px;top:615.2px;width:49.0px;height:33.1px"><i>1.4</i></div>
<div class="c l" style="left:231.0px;top:651.3px;width:130.0px;height:33.1px"><i>15°C</i></div>
<div class="c p" style="left:364.0px;top:651.3px;width:62.0px;height:33.1px"><i>-0.21</i></div>
<div class="c p" style="left:429.0px;top:651.3px;width:68.0px;height:33.1px"><i>-0.16</i></div>
<div class="c p" style="left:500.0px;top:651.3px;width:55.0px;height:33.1px"><i>-0.12</i></div>
<div class="c p" style="left:558.0px;top:651.3px;width:68.0px;height:33.1px"><i>-0.08</i></div>
<div class="c p" style="left:629.0px;top:651.3px;width:56.0px;height:33.1px"><i>-0.03</i></div>
<div class="c p" style="left:688.0px;top:651.3px;width:66.0px;height:33.1px"><i>0.01</i></div>
<div class="c p" style="left:757.0px;top:651.3px;width:52.0px;height:33.1px"><i>0.05</i></div>
<div class="c p" style="left:812.0px;top:651.3px;width:66.0px;height:33.1px"><i>0.09</i></div>
<div class="c p" style="left:881.0px;top:651.3px;width:51.0px;height:33.1px"><i>0.14</i></div>
<div class="c p" style="left:935.0px;top:651.3px;width:67.0px;height:33.1px"><i>0.18</i></div>
<div class="c p" style="left:1005.0px;top:651.3px;width:50.0px;height:33.1px"><i>0.22</i></div>
<div class="c p" style="left:1058.0px;top:651.3px;width:67.0px;height:33.1px"><i>0.26</i></div>
<div class="c p" style="left:1128.0px;top:651.3px;width:51.0px;height:33.1px"><i>0.31</i></div>
<div class="c p" style="left:1182.0px;top:651.3px;width:68.0px;height:33.1px"><i>0.35</i></div>
<div class="c p" style="left:1253.0px;top:651.3px;width:50.0px;height:33.1px"><i>0.39</i></div>
<div class="c b" style="left:1306.0px;top:651.3px;width:68.0px;height:33.1px"><i>0.43</i></div>
<div class="c b" style="left:1377.0px;top:651.3px;width:50.0px;height:33.1px"><i>0.48</i></div>
<div class="c b" style="left:1430.0px;top:651.3px;width:67.0px;height:33.1px"><i>0.52</i></div>
<div class="c b" style="left:1500.0px;top:651.3px;width:50.0px;height:33.1px"><i>0.56</i></div>
<div class="c b" style="left:1553.0px;top:651.3px;width:67.0px;height:33.1px"><i>0.6</i></div>
<div class="c b" style="left:1623.0px;top:651.3px;width:52.0px;height:33.1px"><i>0.65</i></div>
<div class="c b" style="left:1678.0px;top:651.3px;width:66.0px;height:33.1px"><i>0.69</i></div>
<div class="c b" style="left:1747.0px;top:651.3px;width:51.0px;height:33.1px"><i>0.73</i></div>
<div class="c b" style="left:1801.0px;top:651.3px;width:67.0px;height:33.1px"><i>0.78</i></div>
<div class="c g" style="left:1871.0px;top:651.3px;width:51.0px;height:33.1px"><i>0.82</i></div>
<div class="c g" style="left:1925.0px;top:651.3px;width:67.0px;height:33.1px"><i>0.86</i></div>
<div class="c g" style="left:1995.0px;top:651.3px;width:51.0px;height:33.1px"><i>0.9</i></div>
<div class="c g" style="left:2049.0px;top:651.3px;width:67.0px;height:33.1px"><i>0.95</i></div>
<div class="c g" style="left:2119.0px;top:651.3px;width:50.0px;height:33.1px"><i>0.99</i></div>
<div class="c g" style="left:2172.0px;top:651.3px;width:67.0px;height:33.1px"><i>1.03</i></div>
<div class="c g" style="left:2242.0px;top:651.3px;width:51.0px;height:33.1px"><i>1.07</i></div>
<div class="c g" style="left:2296.0px;top:651.3px;width:67.0px;height:33.1px"><i>1.12</i></div>
<div class="c g" style="left:2366.0px;top:651.3px;width:51.0px;height:33.1px"><i>1.16</i></div>
<div class="c g" style="left:2420.0px;top:651.3px;width:67.0px;height:33.1px"><i>1.2</i></div>
<div class="c y" style="left:2490.0px;top:651.3px;width:50.0px;height:33.1px"><i>1.24</i></div>
<div class="c y" style="left:2543.0px;top:651.3px;width:68.0px;height:33.1px"><i>1.29</i></div>
<div class="c y" style="left:2614.0px;top:651.3px;width:49.0px;height:33.1px"><i>1.33</i></div>
<div class="c y" style="left:2666.0px;top:651.3px;width:56.0px;height:33.1px"><i>1.37</i></div>
<div class="c y" style="left:2725.0px;top:651.3px;width:49.0px;height:33.1px"><i>1.41</i></div>
<div class="c y" style="left:2777.0px;top:651.3px;width:55.0px;height:33.1px"><i>1.46</i></div>
<div class="c y" style="left:2835.0px;top:651.3px;width:49.0px;height:33.1px"><i>1.5</i></div>
<div class="c l" style="left:231.0px;top:687.4px;width:130.0px;height:33.1px"><i>16°C</i></div>
<div class="c p" style="left:364.0px;top:687.4px;width:62.0px;height:33.1px"><i>-0.22</i></div>
<div class="c p" style="left:429.0px;top:687.4px;width:68.0px;height:33.1px"><i>-0.17</i></div>
<div class="c p" style="left:500.0px;top:687.4px;width:55.0px;height:33.1px"><i>-0.13</i></div>
<div class="c p" style="left:558.0px;top:687.4px;width:68.0px;height:33.1px"><i>-0.08</i></div>
<div class="c p" style="left:629.0px;top:687.4px;width:56.0px;height:33.1px"><i>-0.04</i></div>
<div class="c p" style="left:688.0px;top:687.4px;width:66.0px;height:33.1px"><i>0.01</i></div>
<div class="c p" style="left:757.0px;top:687.4px;width:52.0px;height:33.1px"><i>0.05</i></div>
<div class="c p" style="left:812.0px;top:687.4px;width:66.0px;height:33.1px"><i>0.1</i></div>
<div class="c p" style="left:881.0px;top:687.4px;width:51.0px;height:33.1px"><i>0.15</i></div>
<div class="c p" style="left:935.0px;top:687.4px;width:67.0px;height:33.1px"><i>0.19</i></div>
<div class="c p" style="left:1005.0px;top:687.4px;width:50.0px;height:33.1px"><i>0.24</i></div>
<div class="c p" style="left:1058.0px;top:687.4px;width:67.0px;height:33.1px"><i>0.28</i></div>
<div class="c p" style="left:1128.0px;top:687.4px;width:51.0px;height:33.1px"><i>0.33</i></div>
<div class="c p" style="left:1182.0px;top:687.4px;width:68.0px;height:33.1px"><i>0.37</i></div>
<div class="c b" style="left:1253.0px;top:687.4px;width:50.0px;height:33.1px"><i>0.42</i></div>
<div class="c b" style="left:1306.0px;top:687.4px;width:68.0px;height:33.1px"><i>0.46</i></div>
<div class="c b" style="left:1377.0px;top:687.4px;width:50.0px;height:33.1px"><i>0.51</i></div>
<div class="c b" style="left:1430.0px;top:687.4px;width:67.0px;height:33.1px"><i>0.55</i></div>
<div class="c b" style="left:1500.0px;top:687.4px;width:50.0px;height:33.1px"><i>0.6</i></div>
<div class="c b" style="left:1553.0px;top:687.4px;width:67.0px;height:33.1px"><i>0.65</i></div>
<div class="c b" style="left:1623.0px;top:687.4px;width:52.0px;height:33.1px"><i>0.69</i></div>
<div class="c b" style="left:1678.0px;top:687.4px;width:66.0px;height:33.1px"><i>0.74</i></div>
<div class="c b" style="left:1747.0px;top:687.4px;width:51.0px;height:33.1px"><i>0.78</i></div>
<div class="c g" style="left:1801.0px;top:687.4px;width:67.0px;height:33.1px"><i>0.83</i></div>
<div class="c g" style="left:1871.0px;top:687.4px;width:51.0px;height:33.1px"><i>0.87</i></div>
<div class="c g" style="left:1925.0px;top:687.4px;width:67.0px;height:33.1px"><i>0.92</i></div>
<div class="c g" style="left:1995.0px;top:687.4px;width:51.0px;height:33.1px"><i>0.96</i></div>
<div class="c g" style="left:2049.0px;top:687.4px;width:67.0px;height:33.1px"><i>1.01</i></div>
<div class="c g" style="left:2119.0px;top:687.4px;width:50.0px;height:33.1px"><i>1.05</i></div>
<div class="c g" style="left:2172.0px;top:687.4px;width:67.0px;height:33.1px"><i>1.1</i></div>
<div class="c g" style="left:2242.0px;top:687.4px;width:51.0px;height:33.1px"><i>1.15</i></div>
<div class="c g" style="left:2296.0px;top:687.4px;width:67.0px;height:33.1px"><i>1.19</i></div>
<div class="c y" style="left:2366.0px;top:687.4px;width:51.0px;height:33.1px"><i>1.24</i></div>
<div class="c y" style="left:2420.0px;top:687.4px;width:67.0px;height:33.1px"><i>1.28</i></div>
<div class="c y" style="left:2490.0px;top:687.4px;width:50.0px;height:33.1px"><i>1.33</i></div>
<div class="c y" style="left:2543.0px;top:687.4px;width:68.0px;height:33.1px"><i>1.37</i></div>
<div class="c y" style="left:2614.0px;top:687.4px;width:49.0px;height:33.1px"><i>1.42</i></div>
<div class="c y" style="left:2666.0px;top:687.4px;width:56.0px;height:33.1px"><i>1.46</i></div>
<div class="c y" style="left:2725.0px;top:687.4px;width:49.0px;height:33.1px"><i>1.51</i></div>
<div class="c y" style="left:2777.0px;top:687.4px;width:55.0px;height:33.1px"><i>1.55</i></div>
<div class="c y" style="left:2835.0px;top:687.4px;width:49.0px;height:33.1px"><i>1.6</i></div>
<div class="c l" style="left:231.0px;top:723.6px;width:130.0px;height:33.1px"><i>17°C</i></div>
<div class="c p" style="left:364.0px;top:723.6px;width:62.0px;height:33.1px"><i>-0.23</i></div>
<div class="c p" style="left:429.0px;top:723.6px;width:68.0px;height:33.1px"><i>-0.18</i></div>
<div class="c p" style="left:500.0px;top:723.6px;width:55.0px;height:33.1px"><i>-0.13</i></div>
<div class="c p" style="left:558.0px;top:723.6px;width:68.0px;height:33.1px"><i>-0.08</i></div>
<div class="c p" style="left:629.0px;top:723.6px;width:56.0px;height:33.1px"><i>-0.03</i></div>
<div class="c p" style="left:688.0px;top:723.6px;width:66.0px;height:33.1px"><i>0.01</i></div>
<div class="c p" style="left:757.0px;top:723.6px;width:52.0px;height:33.1px"><i>0.06</i></div>
<div class="c p" style="left:812.0px;top:723.6px;width:66.0px;height:33.1px"><i>0.11</i></div>
<div class="c p" style="left:881.0px;top:723.6px;width:51.0px;height:33.1px"><i>0.16</i></div>
<div class="c p" style="left:935.0px;top:723.6px;width:67.0px;height:33.1px"><i>0.21</i></div>
<div class="c p" style="left:1005.0px;top:723.6px;width:50.0px;height:33.1px"><i>0.26</i></div>
<div class="c p" style="left:1058.0px;top:723.6px;width:67.0px;height:33.1px"><i>0.31</i></div>
<div class="c p" style="left:1128.0px;top:723.6px;width:51.0px;height:33.1px"><i>0.35</i></div>
<div class="c p" style="left:1182.0px;top:723.6px;width:68.0px;height:33.1px"><i>0.4</i></div>
<div class="c b" style="left:1253.0px;top:723.6px;width:50.0px;height:33.1px"><i>0.45</i></div>
<div class="c b" style="left:1306.0px;top:723.6px;width:68.0px;height:33.1px"><i>0.5</i></div>
<div class="c b" style="left:1377.0px;top:723.6px;width:50.0px;height:33.1px"><i>0.55</i></div>
<div class="c b" style="left:1430.0px;top:723.6px;width:67.0px;height:33.1px"><i>0.6</i></div>
<div class="c b" style="left:1500.0px;top:723.6px;width:50.0px;height:33.1px"><i>0.64</i></div>
<div class="c b" style="left:1553.0px;top:723.6px;width:67.0px;height:33.1px"><i>0.69</i></div>
<div class="c b" style="left:1623.0px;top:723.6px;width:52.0px;height:33.1px"><i>0.74</i></div>
<div class="c b" style="left:1678.0px;top:723.6px;width:66.0px;height:33.1px"><i>0.79</i></div>
<div class="c g" style="left:1747.0px;top:723.6px;width:51.0px;height:33.1px"><i>0.84</i></div>
<div class="c g" style="left:1801.0px;top:723.6px;width:67.0px;height:33.1px"><i>0.89</i></div>
<div class="c g" style="left:1871.0px;top:723.6px;width:51.0px;height:33.1px"><i>0.94</i></div>
<div class="c g" style="left:1925.0px;top:723.6px;width:67.0px;height:33.1px"><i>0.98</i></div>
<div class="c g" style="left:1995.0px;top:723.6px;width:51.0px;height:33.1px"><i>1.03</i></div>
<div class="c g" style="left:2049.0px;top:723.6px;width:67.0px;height:33.1px"><i>1.08</i></div>
<div class="c g" style="left:2119.0px;top:723.6px;width:50.0px;height:33.1px"><i>1.13</i></div>
<div class="c g" style="left:2172.0px;top:723.6px;width:67.0px;height:33.1px"><i>1.18</i></div>
<div class="c y" style="left:2242.0px;top:723.6px;width:51.0px;height:33.1px"><i>1.23</i></div>
<div class="c y" style="left:2296.0px;top:723.6px;width:67.0px;height:33.1px"><i>1.27</i></div>
<div class="c y" style="left:2366.0px;top:723.6px;width:51.0px;height:33.1px"><i>1.32</i></div>
<div class="c y" style="left:2420.0px;top:723.6px;width:67.0px;height:33.1px"><i>1.37</i></div>
<div class="c y" style="left:2490.0px;top:723.6px;width:50.0px;height:33.1px"><i>1.42</i></div>
<div class="c y" style="left:2543.0px;top:723.6px;width:68.0px;height:33.1px"><i>1.47</i></div>
<div class="c y" style="left:2614.0px;top:723.6px;width:49.0px;height:33.1px"><i>1.52</i></div>
<div class="c y" style="left:2666.0px;top:723.6px;width:56.0px;height:33.1px"><i>1.56</i></div>
<div class="c p" style="left:2725.0px;top:723.6px;width:49.0px;height:33.1px"><i>1.61</i></div>
<div class="c p" style="left:2777.0px;top:723.6px;width:55.0px;height:33.1px"><i>1.66</i></div>
<div class="c p" style="left:2835.0px;top:723.6px;width:49.0px;height:33.1px"><i>1.71</i></div>
<div class="c l" style="left:231.0px;top:759.7px;width:130.0px;height:33.1px"><i>18°C</i></div>
<div class="c p" style="left:364.0px;top:759.7px;width:62.0px;height:33.1px"><i>-0.24</i></div>
<div class="c p" style="left:429.0px;top:759.7px;width:68.0px;height:33.1px"><i>-0.19</i></div>
<div class="c p" style="left:500.0px;top:759.7px;width:55.0px;height:33.1px"><i>-0.14</i></div>
<div class="c p" style="left:558.0px;top:759.7px;width:68.0px;height:33.1px"><i>-0.09</i></div>
<div class="c p" style="left:629.0px;top:759.7px;width:56.0px;height:33.1px"><i>-0.04</i></div>
<div class="c p" style="left:688.0px;top:759.7px;width:66.0px;height:33.1px"><i>0.01</i></div>
<div class="c p" style="left:757.0px;top:759.7px;width:52.0px;height:33.1px"><i>0.07</i></div>
<div class="c p" style="left:812.0px;top:759.7px;width:66.0px;height:33.1px"><i>0.12</i></div>
<div class="c p" style="left:881.0px;top:759.7px;width:51.0px;height:33.1px"><i>0.17</i></div>
<div class="c p" style="left:935.0px;top:759.7px;width:67.0px;height:33.1px"><i>0.22</i></div>
<div class="c p" style="left:1005.0px;top:759.7px;width:50.0px;height:33.1px"><i>0.27</i></div>
<div class="c p" style="left:1058.0px;top:759.7px;width:67.0px;height:33.1px"><i>0.32</i></div>
<div class="c p" style="left:1128.0px;top:759.7px;width:51.0px;height:33.1px"><i>0.38</i></div>
<div class="c b" style="left:1182.0px;top:759.7px;width:68.0px;height:33.1px"><i>0.43</i></div>
<div class="c b" style="left:1253.0px;top:759.7px;width:50.0px;height:33.1px"><i>0.48</i></div>
<div class="c b" style="left:1306.0px;top:759.7px;width:68.0px;height:33.1px"><i>0.53</i></div>
<div class="c b" style="left:1377.0px;top:759.7px;width:50.0px;height:33.1px"><i>0.58</i></div>
<div class="c b" style="left:1430.0px;top:759.7px;width:67.0px;height:33.1px"><i>0.63</i></div>
<div class="c b" style="left:1500.0px;top:759.7px;width:50.0px;height:33.1px"><i>0.69</i></div>
<div class="c b" style="left:1553.0px;top:759.7px;width:67.0px;height:33.1px"><i>0.74</i></div>
<div class="c b" style="left:1623.0px;top:759.7px;width:52.0px;height:33.1px"><i>0.79</i></div>
<div class="c g" style="left:1678.0px;top:759.7px;width:66.0px;height:33.1px"><i>0.84</i></div>
<div class="c g" style="left:1747.0px;top:759.7px;width:51.0px;height:33.1px"><i>0.89</i></div>
<div class="c g" style="left:1801.0px;top:759.7px;width:67.0px;height:33.1px"><i>0.94</i></div>
<div class="c g" style="left:1871.0px;top:759.7px;width:51.0px;height:33.1px"><i>0.99</i></div>
<div class="c g" style="left:1925.0px;top:759.7px;width:67.0px;height:33.1px"><i>1.05</i></div>
<div class="c g" style="left:1995.0px;top:759.7px;width:51.0px;height:33.1px"><i>1.1</i></div>
<div class="c g" style="left:2049.0px;top:759.7px;width:67.0px;height:33.1px"><i>1.15</i></div>
<div class="c y" style="left:2119.0px;top:759.7px;width:50.0px;height:33.1px"><i>1.2</i></div>
<div class="c y" style="left:2172.0px;top:759.7px;width:67.0px;height:33.1px"><i>1.25</i></div>
<div class="c y" style="left:2242.0px;top:759.7px;width:51.0px;height:33.1px"><i>1.3</i></div>
<div class="c y" style="left:2296.0px;top:759.7px;width:67.0px;height:33.1px"><i>1.36</i></div>
<div class="c y" style="left:2366.0px;top:759.7px;width:51.0px;height:33.1px"><i>1.41</i></div>
<div class="c y" style="left:2420.0px;top:759.7px;width:67.0px;height:33.1px"><i>1.46</i></div>
<div class="c y" style="left:2490.0px;top:759.7px;width:50.0px;height:33.1px"><i>1.51</i></div>
<div class="c y" style="left:2543.0px;top:759.7px;width:68.0px;height:33.1px"><i>1.56</i></div>
<div class="c p" style="left:2614.0px;top:759.7px;width:49.0px;height:33.1px"><i>1.61</i></div>
<div class="c p" style="left:2666.0px;top:759.7px;width:56.0px;height:33.1px"><i>1.67</i></div>
<div class="c p" style="left:2725.0px;top:759.7px;width:49.0px;height:33.1px"><i>1.72</i></div>
<div class="c p" style="left:2777.0px;top:759.7px;width:55.0px;height:33.1px"><i>1.77</i></div>
<div class="c p" style="left:2835.0px;top:759.7px;width:49.0px;height:33.1px"><i>1.82</i></div>
<div class="c l" style="left:231.0px;top:795.8px;width:130.0px;height:33.1px"><i>19°C</i></div>
<div class="c p" style="left:364.0px;top:795.8px;width:62.0px;height:33.1px"><i>-0.26</i></div>
<div class="c p" style="left:429.0px;top:795.8px;width:68.0px;height:33.1px"><i>-0.2</i></div>
<div class="c p" style="left:500.0px;top:795.8px;width:55.0px;height:33.1px"><i>-0.15</i></div>
<div class="c p" style="left:558.0px;top:795.8px;width:68.0px;height:33.1px"><i>-0.09</i></div>
<div class="c p" style="left:629.0px;top:795.8px;width:56.0px;height:33.1px"><i>-0.04</i></div>
<div class="c p" style="left:688.0px;top:795.8px;width:66.0px;height:33.1px"><i>0.02</i></div>
<div class="c p" style="left:757.0px;top:795.8px;width:52.0px;height:33.1px"><i>0.07</i></div>
<div class="c p" style="left:812.0px;top:795.8px;width:66.0px;height:33.1px"><i>0.13</i></div>
<div class="c p" style="left:881.0px;top:795.8px;width:51.0px;height:33.1px"><i>0.18</i></div>
<div class="c p" style="left:935.0px;top:795.8px;width:67.0px;height:33.1px"><i>0.24</i></div>
<div class="c p" style="left:1005.0px;top:795.8px;width:50.0px;height:33.1px"><i>0.29</i></div>
<div class="c p" style="left:1058.0px;top:795.8px;width:67.0px;height:33.1px"><i>0.35</i></div>
<div class="c p" style="left:1128.0px;top:795.8px;width:51.0px;height:33.1px"><i>0.4</i></div>
<div class="c b" style="left:1182.0px;top:795.8px;width:68.0px;height:33.1px"><i>0.46</i></div>
<div class="c b" style="left:1253.0px;top:795.8px;width:50.0px;height:33.1px"><i>0.51</i></div>
<div class="c b" style="left:1306.0px;top:795.8px;width:68.0px;height:33.1px"><i>0.57</i></div>
<div class="c b" style="left:1377.0px;top:795.8px;width:50.0px;height:33.1px"><i>0.62</i></div>
<div class="c b" style="left:1430.0px;top:795.8px;width:67.0px;height:33.1px"><i>0.68</i></div>
<div class="c b" style="left:1500.0px;top:795.8px;width:50.0px;height:33.1px"><i>0.73</i></div>
<div class="c b" style="left:1553.0px;top:795.8px;width:67.0px;height:33.1px"><i>0.79</i></div>
<div class="c g" style="left:1623.0px;top:795.8px;width:52.0px;height:33.1px"><i>0.84</i></div>
<div class="c g" style="left:1678.0px;top:795.8px;width:66.0px;height:33.1px"><i>0.9</i></div>
<div class="c g" style="left:1747.0px;top:795.8px;width:51.0px;height:33.1px"><i>0.95</i></div>
<div class="c g" style="left:1801.0px;top:795.8px;width:67.0px;height:33.1px"><i>1.01</i></div>
<div class="c g" style="left:1871.0px;top:795.8px;width:51.0px;height:33.1px"><i>1.06</i></div>
<div class="c g" style="left:1925.0px;top:795.8px;width:67.0px;height:33.1px"><i>1.12</i></div>
<div class="c g" style="left:1995.0px;top:795.8px;width:51.0px;height:33.1px"><i>1.17</i></div>
<div class="c y" style="left:2049.0px;top:795.8px;width:67.0px;height:33.1px"><i>1.23</i></div>
<div class="c y" style="left:2119.0px;top:795.8px;width:50.0px;height:33.1px"><i>1.28</i></div>
<div class="c y" style="left:2172.0px;top:795.8px;width:67.0px;height:33.1px"><i>1.34</i></div>
<div class="c y" style="left:2242.0px;top:795.8px;width:51.0px;height:33.1px"><i>1.39</i></div>
<div class="c y" style="left:2296.0px;top:795.8px;width:67.0px;height:33.1px"><i>1.45</i></div>
<div class="c y" style="left:2366.0px;top:795.8px;width:51.0px;height:33.1px"><i>1.5</i></div>
<div class="c y" style="left:2420.0px;top:795.8px;width:67.0px;height:33.1px"><i>1.56</i></div>
<div class="c p" style="left:2490.0px;top:795.8px;width:50.0px;height:33.1px"><i>1.61</i></div>
<div class="c p" style="left:2543.0px;top:795.8px;width:68.0px;height:33.1px"><i>1.67</i></div>
<div class="c p" style="left:2614.0px;top:795.8px;width:49.0px;height:33.1px"><i>1.72</i></div>
<div class="c p" style="left:2666.0px;top:795.8px;width:56.0px;height:33.1px"><i>1.78</i></div>
<div class="c p" style="left:2725.0px;top:795.8px;width:49.0px;height:33.1px"><i>1.83</i></div>
<div class="c p" style="left:2777.0px;top:795.8px;width:55.0px;height:33.1px"><i>1.89</i></div>
<div class="c p" style="left:2835.0px;top:795.8px;width:49.0px;height:33.1px"><i>1.94</i></div>
<div class="c l" style="left:231.0px;top:831.9px;width:130.0px;height:33.1px"><i>20°C</i></div>
<div class="c p" style="left:364.0px;top:831.9px;width:62.0px;height:33.1px"><i>-0.28</i></div>
<div class="c p" style="left:429.0px;top:831.9px;width:68.0px;height:33.1px"><i>-0.22</i></div>
<div class="c p" style="left:500.0px;top:831.9px;width:55.0px;height:33.1px"><i>-0.16</i></div>
<div class="c p" style="left:558.0px;top:831.9px;width:68.0px;height:33.1px"><i>-0.1</i></div>
<div class="c p" style="left:629.0px;top:831.9px;width:56.0px;height:33.1px"><i>-0.04</i></div>
<div class="c p" style="left:688.0px;top:831.9px;width:66.0px;height:33.1px"><i>0.01</i></div>
<div class="c p" style="left:757.0px;top:831.9px;width:52.0px;height:33.1px"><i>0.07</i></div>
<div class="c p" style="left:812.0px;top:831.9px;width:66.0px;height:33.1px"><i>0.13</i></div>
<div class="c p" style="left:881.0px;top:831.9px;width:51.0px;height:33.1px"><i>0.19</i></div>
<div class="c p" style="left:935.0px;top:831.9px;width:67.0px;height:33.1px"><i>0.25</i></div>
<div class="c p" style="left:1005.0px;top:831.9px;width:50.0px;height:33.1px"><i>0.31</i></div>
<div class="c p" style="left:1058.0px;top:831.9px;width:67.0px;height:33.1px"><i>0.37</i></div>
<div class="c b" style="left:1128.0px;top:831.9px;width:51.0px;height:33.1px"><i>0.42</i></div>
<div class="c b" style="left:1182.0px;top:831.9px;width:68.0px;height:33.1px"><i>0.48</i></div>
<div class="c b" style="left:1253.0px;top:831.9px;width:50.0px;height:33.1px"><i>0.54</i></div>
<div class="c b" style="left:1306.0px;top:831.9px;width:68.0px;height:33.1px"><i>0.6</i></div>
<div class="c b" style="left:1377.0px;top:831.9px;width:50.0px;height:33.1px"><i>0.66</i></div>
<div class="c b" style="left:1430.0px;top:831.9px;width:67.0px;height:33.1px"><i>0.72</i></div>
<div class="c b" style="left:1500.0px;top:831.9px;width:50.0px;height:33.1px"><i>0.77</i></div>
<div class="c g" style="left:1553.0px;top:831.9px;width:67.0px;height:33.1px"><i>0.83</i></div>
<div class="c g" style="left:1623.0px;top:831.9px;width:52.0px;height:33.1px"><i>0.89</i></div>
<div class="c g" style="left:1678.0px;top:831.9px;width:66.0px;height:33.1px"><i>0.95</i></div>
<div class="c g" style="left:1747.0px;top:831.9px;width:51.0px;height:33.1px"><i>1.01</i></div>
<div class="c g" style="left:1801.0px;top:831.9px;width:67.0px;height:33.1px"><i>1.07</i></div>
<div class="c g" style="left:1871.0px;top:831.9px;width:51.0px;height:33.1px"><i>1.12</i></div>
<div class="c g" style="left:1925.0px;top:831.9px;width:67.0px;height:33.1px"><i>1.18</i></div>
<div class="c y" style="left:1995.0px;top:831.9px;width:51.0px;height:33.1px"><i>1.24</i></div>
<div class="c y" style="left:2049.0px;top:831.9px;width:67.0px;height:33.1px"><i>1.3</i></div>
<div class="c y" style="left:2119.0px;top:831.9px;width:50.0px;height:33.1px"><i>1.36</i></div>
<div class="c y" style="left:2172.0px;top:831.9px;width:67.0px;height:33.1px"><i>1.42</i></div>
<div class="c y" style="left:2242.0px;top:831.9px;width:51.0px;height:33.1px"><i>1.48</i></div>
<div class="c y" style="left:2296.0px;top:831.9px;width:67.0px;height:33.1px"><i>1.53</i></div>
<div class="c y" style="left:2366.0px;top:831.9px;width:51.0px;height:33.1px"><i>1.59</i></div>
<div class="c p" style="left:2420.0px;top:831.9px;width:67.0px;height:33.1px"><i>1.65</i></div>
<div class="c p" style="left:2490.0px;top:831.9px;width:50.0px;height:33.1px"><i>1.71</i></div>
<div class="c p" style="left:2543.0px;top:831.9px;width:68.0px;height:33.1px"><i>1.77</i></div>
<div class="c p" style="left:2614.0px;top:831.9px;width:49.0px;height:33.1px"><i>1.83</i></div>
<div class="c p" style="left:2666.0px;top:831.9px;width:56.0px;height:33.1px"><i>1.88</i></div>
<div class="c p" style="left:2725.0px;top:831.9px;width:49.0px;height:33.1px"><i>1.94</i></div>
<div class="c p" style="left:2777.0px;top:831.9px;width:55.0px;height:33.1px"><i>2</i></div>
<div class="c p" style="left:2835.0px;top:831.9px;width:49.0px;height:33.1px"><i>2.06</i></div>
<div class="c l" style="left:231.0px;top:868.0px;width:130.0px;height:33.1px"><i>21°C</i></div>
<div class="c p" style="left:364.0px;top:868.0px;width:62.0px;height:33.1px"><i>-0.29</i></div>
<div class="c p" style="left:429.0px;top:868.0px;width:68.0px;height:33.1px"><i>-0.22</i></div>
<div class="c p" style="left:500.0px;top:868.0px;width:55.0px;height:33.1px"><i>-0.16</i></div>
<div class="c p" style="left:558.0px;top:868.0px;width:68.0px;height:33.1px"><i>-0.1</i></div>
<div class="c p" style="left:629.0px;top:868.0px;width:56.0px;height:33.1px"><i>-0.04</i></div>
<div class="c p" style="left:688.0px;top:868.0px;width:66.0px;height:33.1px"><i>0.02</i></div>
<div class="c p" style="left:757.0px;top:868.0px;width:52.0px;height:33.1px"><i>0.09</i></div>
<div class="c p" style="left:812.0px;top:868.0px;width:66.0px;height:33.1px"><i>0.15</i></div>
<div class="c p" style="left:881.0px;top:868.0px;width:51.0px;height:33.1px"><i>0.21</i></div>
<div class="c p" style="left:935.0px;top:868.0px;width:67.0px;height:33.1px"><i>0.27</i></div>
<div class="c p" style="left:1005.0px;top:868.0px;width:50.0px;height:33.1px"><i>0.34</i></div>
<div class="c b" style="left:1058.0px;top:868.0px;width:67.0px;height:33.1px"><i>0.4</i></div>
<div class="c b" style="left:1128.0px;top:868.0px;width:51.0px;height:33.1px"><i>0.46</i></div>
<div class="c b" style="left:1182.0px;top:868.0px;width:68.0px;height:33.1px"><i>0.52</i></div>
<div class="c b" style="left:1253.0px;top:868.0px;width:50.0px;height:33.1px"><i>0.58</i></div>
<div class="c b" style="left:1306.0px;top:868.0px;width:68.0px;height:33.1px"><i>0.65</i></div>
<div class="c b" style="left:1377.0px;top:868.0px;width:50.0px;height:33.1px"><i>0.71</i></div>
<div class="c b" style="left:1430.0px;top:868.0px;width:67.0px;height:33.1px"><i>0.77</i></div>
<div class="c g" style="left:1500.0px;top:868.0px;width:50.0px;height:33.1px"><i>0.83</i></div>
<div class="c g" style="left:1553.0px;top:868.0px;width:67.0px;height:33.1px"><i>0.89</i></div>
<div class="c g" style="left:1623.0px;top:868.0px;width:52.0px;height:33.1px"><i>0.96</i></div>
<div class="c g" style="left:1678.0px;top:868.0px;width:66.0px;height:33.1px"><i>1.02</i></div>
<div class="c g" style="left:1747.0px;top:868.0px;width:51.0px;height:33.1px"><i>1.08</i></div>
<div class="c g" style="left:1801.0px;top:868.0px;width:67.0px;height:33.1px"><i>1.14</i></div>
<div class="c y" style="left:1871.0px;top:868.0px;width:51.0px;height:33.1px"><i>1.21</i></div>
<div class="c y" style="left:1925.0px;top:868.0px;width:67.0px;height:33.1px"><i>1.27</i></div>
<div class="c y" style="left:1995.0px;top:868.0px;width:51.0px;height:33.1px"><i>1.33</i></div>
<div class="c y" style="left:2049.0px;top:868.0px;width:67.0px;height:33.1px"><i>1.39</i></div>
<div class="c y" style="left:2119.0px;top:868.0px;width:50.0px;height:33.1px"><i>1.45</i></div>
<div class="c y" style="left:2172.0px;top:868.0px;width:67.0px;height:33.1px"><i>1.52</i></div>
<div class="c y" style="left:2242.0px;top:868.0px;width:51.0px;height:33.1px"><i>1.58</i></div>
<div class="c p" style="left:2296.0px;top:868.0px;width:67.0px;height:33.1px"><i>1.64</i></div>
<div class="c p" style="left:2366.0px;top:868.0px;width:51.0px;height:33.1px"><i>1.7</i></div>
<div class="c p" style="left:2420.0px;top:868.0px;width:67.0px;height:33.1px"><i>1.76</i></div>
<div class="c p" style="left:2490.0px;top:868.0px;width:50.0px;height:33.1px"><i>1.83</i></div>
<div class="c p" style="left:2543.0px;top:868.0px;width:68.0px;height:33.1px"><i>1.89</i></div>
<div class="c p" style="left:2614.0px;top:868.0px;width:49.0px;height:33.1px"><i>1.95</i></div>
<div class="c p" style="left:2666.0px;top:868.0px;width:56.0px;height:33.1px"><i>2.01</i></div>
<div class="c p" style="left:2725.0px;top:868.0px;width:49.0px;height:33.1px"><i>2.08</i></div>
<div class="c p" style="left:2777.0px;top:868.0px;width:55.0px;height:33.1px"><i>2.14</i></div>
<div class="c p" style="left:2835.0px;top:868.0px;width:49.0px;height:33.1px"><i>2.2</i></div>
<div class="c l" style="left:231.0px;top:904.1px;width:130.0px;height:33.1px"><i>22°C</i></div>
<div class="c p" style="left:364.0px;top:904.1px;width:62.0px;height:33.1px"><i>-0.3</i></div>
<div class="c p" style="left:429.0px;top:904.1px;width:68.0px;height:33.1px"><i>-0.24</i></div>
<div class="c p" style="left:500.0px;top:904.1px;width:55.0px;height:33.1px"><i>-0.17</i></div>
<div class="c p" style="left:558.0px;top:904.1px;width:68.0px;height:33.1px"><i>-0.11</i></div>
<div class="c p" style="left:629.0px;top:904.1px;width:56.0px;height:33.1px"><i>-0.04</i></div>
<div class="c p" style="left:688.0px;top:904.1px;width:66.0px;height:33.1px"><i>0.03</i></div>
<div class="c p" style="left:757.0px;top:904.1px;width:52.0px;height:33.1px"><i>0.09</i></div>
<div class="c p" style="left:812.0px;top:904.1px;width:66.0px;height:33.1px"><i>0.16</i></div>
<div class="c p" style="left:881.0px;top:904.1px;width:51.0px;height:33.1px"><i>0.23</i></div>
<div class="c p" style="left:935.0px;top:904.1px;width:67.0px;height:33.1px"><i>0.29</i></div>
<div class="c p" style="left:1005.0px;top:904.1px;width:50.0px;height:33.1px"><i>0.36</i></div>
<div class="c b" style="left:1058.0px;top:904.1px;width:67.0px;height:33.1px"><i>0.42</i></div>
<div class="c b" style="left:1128.0px;top:904.1px;width:51.0px;height:33.1px"><i>0.49</i></div>
<div class="c b" style="left:1182.0px;top:904.1px;width:68.0px;height:33.1px"><i>0.56</i></div>
<div class="c b" style="left:1253.0px;top:904.1px;width:50.0px;height:33.1px"><i>0.62</i></div>
<div class="c b" style="left:1306.0px;top:904.1px;width:68.0px;height:33.1px"><i>0.69</i></div>
<div class="c b" style="left:1377.0px;top:904.1px;width:50.0px;height:33.1px"><i>0.75</i></div>
<div class="c g" style="left:1430.0px;top:904.1px;width:67.0px;height:33.1px"><i>0.82</i></div>
<div class="c g" style="left:1500.0px;top:904.1px;width:50.0px;height:33.1px"><i>0.89</i></div>
<div class="c g" style="left:1553.0px;top:904.1px;width:67.0px;height:33.1px"><i>0.95</i></div>
<div class="c g" style="left:1623.0px;top:904.1px;width:52.0px;height:33.1px"><i>1.02</i></div>
<div class="c g" style="left:1678.0px;top:904.1px;width:66.0px;height:33.1px"><i>1.08</i></div>
<div class="c g" style="left:1747.0px;top:904.1px;width:51.0px;height:33.1px"><i>1.15</i></div>
<div class="c y" style="left:1801.0px;top:904.1px;width:67.0px;height:33.1px"><i>1.22</i></div>
<div class="c y" style="left:1871.0px;top:904.1px;width:51.0px;height:33.1px"><i>1.28</i></div>
<div class="c y" style="left:1925.0px;top:904.1px;width:67.0px;height:33.1px"><i>1.35</i></div>
<div class="c y" style="left:1995.0px;top:904.1px;width:51.0px;height:33.1px"><i>1.41</i></div>
<div class="c y" style="left:2049.0px;top:904.1px;width:67.0px;height:33.1px"><i>1.48</i></div>
<div class="c y" style="left:2119.0px;top:904.1px;width:50.0px;height:33.1px"><i>1.55</i></div>
<div class="c p" style="left:2172.0px;top:904.1px;width:67.0px;height:33.1px"><i>1.61</i></div>
<div class="c p" style="left:2242.0px;top:904.1px;width:51.0px;height:33.1px"><i>1.68</i></div>
<div class="c p" style="left:2296.0px;top:904.1px;width:67.0px;height:33.1px"><i>1.75</i></div>
<div class="c p" style="left:2366.0px;top:904.1px;width:51.0px;height:33.1px"><i>1.81</i></div>
<div class="c p" style="left:2420.0px;top:904.1px;width:67.0px;height:33.1px"><i>1.88</i></div>
<div class="c p" style="left:2490.0px;top:904.1px;width:50.0px;height:33.1px"><i>1.94</i></div>
<div class="c p" style="left:2543.0px;top:904.1px;width:68.0px;height:33.1px"><i>2.01</i></div>
<div class="c p" style="left:2614.0px;top:904.1px;width:49.0px;height:33.1px"><i>2.08</i></div>
<div class="c p" style="left:2666.0px;top:904.1px;width:56.0px;height:33.1px"><i>2.14</i></div>
<div class="c p" style="left:2725.0px;top:904.1px;width:49.0px;height:33.1px"><i>2.21</i></div>
<div class="c p" style="left:2777.0px;top:904.1px;width:55.0px;height:33.1px"><i>2.27</i></div>
<div class="c p" style="left:2835.0px;top:904.1px;width:49.0px;height:33.1px"><i>2.34</i></div>
<div class="c l" style="left:231.0px;top:940.2px;width:130.0px;height:33.1px"><i>23°C</i></div>
<div class="c p" style="left:364.0px;top:940.2px;width:62.0px;height:33.1px"><i>-0.32</i></div>
<div class="c p" style="left:429.0px;top:940.2px;width:68.0px;height:33.1px"><i>-0.25</i></div>
<div class="c p" style="left:500.0px;top:940.2px;width:55.0px;height:33.1px"><i>-0.18</i></div>
<div class="c p" style="left:558.0px;top:940.2px;width:68.0px;height:33.1px"><i>-0.11</i></div>
<div class="c p" style="left:629.0px;top:940.2px;width:56.0px;height:33.1px"><i>-0.04</i></div>
<div class="c p" style="left:688.0px;top:940.2px;width:66.0px;height:33.1px"><i>0.03</i></div>
<div class="c p" style="left:757.0px;top:940.2px;width:52.0px;height:33.1px"><i>0.1</i></div>
<div class="c p" style="left:812.0px;top:940.2px;width:66.0px;height:33.1px"><i>0.17</i></div>
<div class="c p" style="left:881.0px;top:940.2px;width:51.0px;height:33.1px"><i>0.24</i></div>
<div class="c p" style="left:935.0px;top:940.2px;width:67.0px;height:33.1px"><i>0.31</i></div>
<div class="c p" style="left:1005.0px;top:940.2px;width:50.0px;height:33.1px"><i>0.38</i></div>
<div class="c b" style="left:1058.0px;top:940.2px;width:67.0px;height:33.1px"><i>0.45</i></div>
<div class="c b" style="left:1128.0px;top:940.2px;width:51.0px;height:33.1px"><i>0.52</i></div>
<div class="c b" style="left:1182.0px;top:940.2px;width:68.0px;height:33.1px"><i>0.59</i></div>
<div class="c b" style="left:1253.0px;top:940.2px;width:50.0px;height:33.1px"><i>0.66</i></div>
<div class="c b" style="left:1306.0px;top:940.2px;width:68.0px;height:33.1px"><i>0.73</i></div>
<div class="c g" style="left:1377.0px;top:940.2px;width:50.0px;height:33.1px"><i>0.8</i></div>
<div class="c g" style="left:1430.0px;top:940.2px;width:67.0px;height:33.1px"><i>0.87</i></div>
<div class="c g" style="left:1500.0px;top:940.2px;width:50.0px;height:33.1px"><i>0.95</i></div>
<div class="c g" style="left:1553.0px;top:940.2px;width:67.0px;height:33.1px"><i>1.02</i></div>
<div class="c g" style="left:1623.0px;top:940.2px;width:52.0px;height:33.1px"><i>1.09</i></div>
<div class="c g" style="left:1678.0px;top:940.2px;width:66.0px;height:33.1px"><i>1.16</i></div>
<div class="c y" style="left:1747.0px;top:940.2px;width:51.0px;height:33.1px"><i>1.23</i></div>
<div class="c y" style="left:1801.0px;top:940.2px;width:67.0px;height:33.1px"><i>1.3</i></div>
<div class="c y" style="left:1871.0px;top:940.2px;width:51.0px;height:33.1px"><i>1.37</i></div>
<div class="c y" style="left:1925.0px;top:940.2px;width:67.0px;height:33.1px"><i>1.44</i></div>
<div class="c y" style="left:1995.0px;top:940.2px;width:51.0px;height:33.1px"><i>1.51</i></div>
<div class="c y" style="left:2049.0px;top:940.2px;width:67.0px;height:33.1px"><i>1.58</i></div>
<div class="c p" style="left:2119.0px;top:940.2px;width:50.0px;height:33.1px"><i>1.65</i></div>
<div class="c p" style="left:2172.0px;top:940.2px;width:67.0px;height:33.1px"><i>1.72</i></div>
<div class="c p" style="left:2242.0px;top:940.2px;width:51.0px;height:33.1px"><i>1.79</i></div>
<div class="c p" style="left:2296.0px;top:940.2px;width:67.0px;height:33.1px"><i>1.86</i></div>
<div class="c p" style="left:2366.0px;top:940.2px;width:51.0px;height:33.1px"><i>1.93</i></div>
<div class="c p" style="left:2420.0px;top:940.2px;width:67.0px;height:33.1px"><i>2</i></div>
<div class="c p" style="left:2490.0px;top:940.2px;width:50.0px;height:33.1px"><i>2.07</i></div>
<div class="c p" style="left:2543.0px;top:940.2px;width:68.0px;height:33.1px"><i>2.14</i></div>
<div class="c p" style="left:2614.0px;top:940.2px;width:49.0px;height:33.1px"><i>2.21</i></div>
<div class="c p" style="left:2666.0px;top:940.2px;width:56.0px;height:33.1px"><i>2.28</i></div>
<div class="c p" style="left:2725.0px;top:940.2px;width:49.0px;height:33.1px"><i>2.35</i></div>
<div class="c p" style="left:2777.0px;top:940.2px;width:55.0px;height:33.1px"><i>2.42</i></div>
<div class="c p" style="left:2835.0px;top:940.2px;width:49.0px;height:33.1px"><i>2.49</i></div>
<div class="c l" style="left:231.0px;top:976.3px;width:130.0px;height:33.1px"><i>24°C</i></div>
<div class="c p" style="left:364.0px;top:976.3px;width:62.0px;height:33.1px"><i>-0.34</i></div>
<div class="c p" style="left:429.0px;top:976.3px;width:68.0px;height:33.1px"><i>-0.27</i></div>
<div class="c p" style="left:500.0px;top:976.3px;width:55.0px;height:33.1px"><i>-0.19</i></div>
<div class="c p" style="left:558.0px;top:976.3px;width:68.0px;height:33.1px"><i>-0.12</i></div>
<div class="c p" style="left:629.0px;top:976.3px;width:56.0px;height:33.1px"><i>-0.04</i></div>
<div class="c p" style="left:688.0px;top:976.3px;width:66.0px;height:33.1px"><i>0.03</i></div>
<div class="c p" style="left:757.0px;top:976.3px;width:52.0px;height:33.1px"><i>0.1</i></div>
<div class="c p" style="left:812.0px;top:976.3px;width:66.0px;height:33.1px"><i>0.18</i></div>
<div class="c p" style="left:881.0px;top:976.3px;width:51.0px;height:33.1px"><i>0.25</i></div>
<div class="c p" style="left:935.0px;top:976.3px;width:67.0px;height:33.1px"><i>0.33</i></div>
<div class="c p" style="left:1005.0px;top:976.3px;width:50.0px;height:33.1px"><i>0.4</i></div>
<div class="c b" style="left:1058.0px;top:976.3px;width:67.0px;height:33.1px"><i>0.48</i></div>
<div class="c b" style="left:1128.0px;top:976.3px;width:51.0px;height:33.1px"><i>0.55</i></div>
<div class="c b" style="left:1182.0px;top:976.3px;width:68.0px;height:33.1px"><i>0.63</i></div>
<div class="c b" style="left:1253.0px;top:976.3px;width:50.0px;height:33.1px"><i>0.7</i></div>
<div class="c b" style="left:1306.0px;top:976.3px;width:68.0px;height:33.1px"><i>0.78</i></div>
<div class="c g" style="left:1377.0px;top:976.3px;width:50.0px;height:33.1px"><i>0.85</i></div>
<div class="c g" style="left:1430.0px;top:976.3px;width:67.0px;height:33.1px"><i>0.92</i></div>
<div class="c g" style="left:1500.0px;top:976.3px;width:50.0px;height:33.1px"><i>1</i></div>
<div class="c g" style="left:1553.0px;top:976.3px;width:67.0px;height:33.1px"><i>1.07</i></div>
<div class="c g" style="left:1623.0px;top:976.3px;width:52.0px;height:33.1px"><i>1.15</i></div>
<div class="c y" style="left:1678.0px;top:976.3px;width:66.0px;height:33.1px"><i>1.22</i></div>
<div class="c y" style="left:1747.0px;top:976.3px;width:51.0px;height:33.1px"><i>1.3</i></div>
<div class="c y" style="left:1801.0px;top:976.3px;width:67.0px;height:33.1px"><i>1.37</i></div>
<div class="c y" style="left:1871.0px;top:976.3px;width:51.0px;height:33.1px"><i>1.45</i></div>
<div class="c y" style="left:1925.0px;top:976.3px;width:67.0px;height:33.1px"><i>1.52</i></div>
<div class="c y" style="left:1995.0px;top:976.3px;width:51.0px;height:33.1px"><i>1.6</i></div>
<div class="c p" style="left:2049.0px;top:976.3px;width:67.0px;height:33.1px"><i>1.67</i></div>
<div class="c p" style="left:2119.0px;top:976.3px;width:50.0px;height:33.1px"><i>1.75</i></div>
<div class="c p" style="left:2172.0px;top:976.3px;width:67.0px;height:33.1px"><i>1.82</i></div>
<div class="c p" style="left:2242.0px;top:976.3px;width:51.0px;height:33.1px"><i>1.89</i></div>
<div class="c p" style="left:2296.0px;top:976.3px;width:67.0px;height:33.1px"><i>1.97</i></div>
<div class="c p" style="left:2366.0px;top:976.3px;width:51.0px;height:33.1px"><i>2.04</i></div>
<div class="c p" style="left:2420.0px;top:976.3px;width:67.0px;height:33.1px"><i>2.12</i></div>
<div class="c p" style="left:2490.0px;top:976.3px;width:50.0px;height:33.1px"><i>2.19</i></div>
<div class="c p" style="left:2543.0px;top:976.3px;width:68.0px;height:33.1px"><i>2.27</i></div>
<div class="c p" style="left:2614.0px;top:976.3px;width:49.0px;height:33.1px"><i>2.34</i></div>
<div class="c p" style="left:2666.0px;top:976.3px;width:56.0px;height:33.1px"><i>2.42</i></div>
<div class="c p" style="left:2725.0px;top:976.3px;width:49.0px;height:33.1px"><i>2.49</i></div>
<div class="c p" style="left:2777.0px;top:976.3px;width:55.0px;height:33.1px"><i>2.57</i></div>
<div class="c p" style="left:2835.0px;top:976.3px;width:49.0px;height:33.1px"><i>2.64</i></div>
<div class="c l" style="left:231.0px;top:1012.4px;width:130.0px;height:33.1px"><i>25°C</i></div>
<div class="c p" style="left:364.0px;top:1012.4px;width:62.0px;height:33.1px"><i>-0.36</i></div>
<div class="c p" style="left:429.0px;top:1012.4px;width:68.0px;height:33.1px"><i>-0.28</i></div>
<div class="c p" style="left:500.0px;top:1012.4px;width:55.0px;height:33.1px"><i>-0.2</i></div>
<div class="c p" style="left:558.0px;top:1012.4px;width:68.0px;height:33.1px"><i>-0.12</i></div>
<div class="c p" style="left:629.0px;top:1012.4px;width:56.0px;height:33.1px"><i>-0.04</i></div>
<div class="c p" style="left:688.0px;top:1012.4px;width:66.0px;height:33.1px"><i>0.04</i></div>
<div class="c p" style="left:757.0px;top:1012.4px;width:52.0px;height:33.1px"><i>0.12</i></div>
<div class="c p" style="left:812.0px;top:1012.4px;width:66.0px;height:33.1px"><i>0.2</i></div>
<div class="c p" style="left:881.0px;top:1012.4px;width:51.0px;height:33.1px"><i>0.28</i></div>
<div class="c p" style="left:935.0px;top:1012.4px;width:67.0px;height:33.1px"><i>0.36</i></div>
<div class="c b" style="left:1005.0px;top:1012.4px;width:50.0px;height:33.1px"><i>0.43</i></div>
<div class="c b" style="left:1058.0px;top:1012.4px;width:67.0px;height:33.1px"><i>0.51</i></div>
<div class="c b" style="left:1128.0px;top:1012.4px;width:51.0px;height:33.1px"><i>0.59</i></div>
<div class="c b" style="left:1182.0px;top:1012.4px;width:68.0px;height:33.1px"><i>0.67</i></div>
<div class="c b" style="left:1253.0px;top:1012.4px;width:50.0px;height:33.1px"><i>0.75</i></div>
<div class="c g" style="left:1306.0px;top:1012.4px;width:68.0px;height:33.1px"><i>0.83</i></div>
<div class="c g" style="left:1377.0px;top:1012.4px;width:50.0px;height:33.1px"><i>0.91</i></div>
<div class="c g" style="left:1430.0px;top:1012.4px;width:67.0px;height:33.1px"><i>0.99</i></div>
<div class="c g" style="left:1500.0px;top:1012.4px;width:50.0px;height:33.1px"><i>1.07</i></div>
<div class="c g" style="left:1553.0px;top:1012.4px;width:67.0px;height:33.1px"><i>1.15</i></div>
<div class="c y" style="left:1623.0px;top:1012.4px;width:52.0px;height:33.1px"><i>1.23</i></div>
<div class="c y" style="left:1678.0px;top:1012.4px;width:66.0px;height:33.1px"><i>1.31</i></div>
<div class="c y" style="left:1747.0px;top:1012.4px;width:51.0px;height:33.1px"><i>1.38</i></div>
<div class="c y" style="left:1801.0px;top:1012.4px;width:67.0px;height:33.1px"><i>1.46</i></div>
<div class="c y" style="left:1871.0px;top:1012.4px;width:51.0px;height:33.1px"><i>1.54</i></div>
<div class="c p" style="left:1925.0px;top:1012.4px;width:67.0px;height:33.1px"><i>1.62</i></div>
<div class="c p" style="left:1995.0px;top:1012.4px;width:51.0px;height:33.1px"><i>1.7</i></div>
<div class="c p" style="left:2049.0px;top:1012.4px;width:67.0px;height:33.1px"><i>1.78</i></div>
<div class="c p" style="left:2119.0px;top:1012.4px;width:50.0px;height:33.1px"><i>1.86</i></div>
<div class="c p" style="left:2172.0px;top:1012.4px;width:67.0px;height:33.1px"><i>1.94</i></div>
<div class="c p" style="left:2242.0px;top:1012.4px;width:51.0px;height:33.1px"><i>2.02</i></div>
<div class="c p" style="left:2296.0px;top:1012.4px;width:67.0px;height:33.1px"><i>2.1</i></div>
<div class="c p" style="left:2366.0px;top:1012.4px;width:51.0px;height:33.1px"><i>2.18</i></div>
<div class="c p" style="left:2420.0px;top:1012.4px;width:67.0px;height:33.1px"><i>2.26</i></div>
<div class="c p" style="left:2490.0px;top:1012.4px;width:50.0px;height:33.1px"><i>2.33</i></div>
<div class="c p" style="left:2543.0px;top:1012.4px;width:68.0px;height:33.1px"><i>2.41</i></div>
<div class="c p" style="left:2614.0px;top:1012.4px;width:49.0px;height:33.1px"><i>2.49</i></div>
<div class="c p" style="left:2666.0px;top:1012.4px;width:56.0px;height:33.1px"><i>2.57</i></div>
<div class="c p" style="left:2725.0px;top:1012.4px;width:49.0px;height:33.1px"><i>2.65</i></div>
<div class="c p" style="left:2777.0px;top:1012.4px;width:55.0px;height:33.1px"><i>2.73</i></div>
<div class="c p" style="left:2835.0px;top:1012.4px;width:49.0px;height:33.1px"><i>2.81</i></div>
<div class="c l" style="left:231.0px;top:1048.5px;width:130.0px;height:33.1px"><i>26°C</i></div>
<div class="c p" style="left:364.0px;top:1048.5px;width:62.0px;height:33.1px"><i>-0.38</i></div>
<div class="c p" style="left:429.0px;top:1048.5px;width:68.0px;height:33.1px"><i>-0.3</i></div>
<div class="c p" style="left:500.0px;top:1048.5px;width:55.0px;height:33.1px"><i>-0.21</i></div>
<div class="c p" style="left:558.0px;top:1048.5px;width:68.0px;height:33.1px"><i>-0.13</i></div>
<div class="c p" style="left:629.0px;top:1048.5px;width:56.0px;height:33.1px"><i>-0.04</i></div>
<div class="c p" style="left:688.0px;top:1048.5px;width:66.0px;height:33.1px"><i>0.04</i></div>
<div class="c p" style="left:757.0px;top:1048.5px;width:52.0px;height:33.1px"><i>0.12</i></div>
<div class="c p" style="left:812.0px;top:1048.5px;width:66.0px;height:33.1px"><i>0.21</i></div>
<div class="c p" style="left:881.0px;top:1048.5px;width:51.0px;height:33.1px"><i>0.29</i></div>
<div class="c p" style="left:935.0px;top:1048.5px;width:67.0px;height:33.1px"><i>0.38</i></div>
<div class="c b" style="left:1005.0px;top:1048.5px;width:50.0px;height:33.1px"><i>0.46</i></div>
<div class="c b" style="left:1058.0px;top:1048.5px;width:67.0px;height:33.1px"><i>0.54</i></div>
<div class="c b" style="left:1128.0px;top:1048.5px;width:51.0px;height:33.1px"><i>0.63</i></div>
<div class="c b" style="left:1182.0px;top:1048.5px;width:68.0px;height:33.1px"><i>0.71</i></div>
<div class="c b" style="left:1253.0px;top:1048.5px;width:50.0px;height:33.1px"><i>0.8</i></div>
<div class="c g" style="left:1306.0px;top:1048.5px;width:68.0px;height:33.1px"><i>0.88</i></div>
<div class="c g" style="left:1377.0px;top:1048.5px;width:50.0px;height:33.1px"><i>0.96</i></div>
<div class="c g" style="left:1430.0px;top:1048.5px;width:67.0px;height:33.1px"><i>1.05</i></div>
<div class="c g" style="left:1500.0px;top:1048.5px;width:50.0px;height:33.1px"><i>1.13</i></div>
<div class="c y" style="left:1553.0px;top:1048.5px;width:67.0px;height:33.1px"><i>1.22</i></div>
<div class="c y" style="left:1623.0px;top:1048.5px;width:52.0px;height:33.1px"><i>1.3</i></div>
<div class="c y" style="left:1678.0px;top:1048.5px;width:66.0px;height:33.1px"><i>1.38</i></div>
<div class="c y" style="left:1747.0px;top:1048.5px;width:51.0px;height:33.1px"><i>1.47</i></div>
<div class="c y" style="left:1801.0px;top:1048.5px;width:67.0px;height:33.1px"><i>1.55</i></div>
<div class="c p" style="left:1871.0px;top:1048.5px;width:51.0px;height:33.1px"><i>1.64</i></div>
<div class="c p" style="left:1925.0px;top:1048.5px;width:67.0px;height:33.1px"><i>1.72</i></div>
<div class="c p" style="left:1995.0px;top:1048.5px;width:51.0px;height:33.1px"><i>1.8</i></div>
<div class="c p" style="left:2049.0px;top:1048.5px;width:67.0px;height:33.1px"><i>1.89</i></div>
<div class="c p" style="left:2119.0px;top:1048.5px;width:50.0px;height:33.1px"><i>1.97</i></div>
<div class="c p" style="left:2172.0px;top:1048.5px;width:67.0px;height:33.1px"><i>2.06</i></div>
<div class="c p" style="left:2242.0px;top:1048.5px;width:51.0px;height:33.1px"><i>2.14</i></div>
<div class="c p" style="left:2296.0px;top:1048.5px;width:67.0px;height:33.1px"><i>2.22</i></div>
<div class="c p" style="left:2366.0px;top:1048.5px;width:51.0px;height:33.1px"><i>2.31</i></div>
<div class="c p" style="left:2420.0px;top:1048.5px;width:67.0px;height:33.1px"><i>2.39</i></div>
<div class="c p" style="left:2490.0px;top:1048.5px;width:50.0px;height:33.1px"><i>2.48</i></div>
<div class="c p" style="left:2543.0px;top:1048.5px;width:68.0px;height:33.1px"><i>2.56</i></div>
<div class="c p" style="left:2614.0px;top:1048.5px;width:49.0px;height:33.1px"><i>2.64</i></div>
<div class="c p" style="left:2666.0px;top:1048.5px;width:56.0px;height:33.1px"><i>2.73</i></div>
<div class="c p" style="left:2725.0px;top:1048.5px;width:49.0px;height:33.1px"><i>2.81</i></div>
<div class="c p" style="left:2777.0px;top:1048.5px;width:55.0px;height:33.1px"><i>2.9</i></div>
<div class="c p" style="left:2835.0px;top:1048.5px;width:49.0px;height:33.1px"><i>2.98</i></div>
<div class="c l" style="left:231.0px;top:1084.6px;width:130.0px;height:33.1px"><i>27°C</i></div>
<div class="c p" style="left:364.0px;top:1084.6px;width:62.0px;height:33.1px"><i>-0.39</i></div>
<div class="c p" style="left:429.0px;top:1084.6px;width:68.0px;height:33.1px"><i>-0.31</i></div>
<div class="c p" style="left:500.0px;top:1084.6px;width:55.0px;height:33.1px"><i>-0.22</i></div>
<div class="c p" style="left:558.0px;top:1084.6px;width:68.0px;height:33.1px"><i>-0.13</i></div>
<div class="c p" style="left:629.0px;top:1084.6px;width:56.0px;height:33.1px"><i>-0.04</i></div>
<div class="c p" style="left:688.0px;top:1084.6px;width:66.0px;height:33.1px"><i>0.05</i></div>
<div class="c p" style="left:757.0px;top:1084.6px;width:52.0px;height:33.1px"><i>0.14</i></div>
<div class="c p" style="left:812.0px;top:1084.6px;width:66.0px;height:33.1px"><i>0.23</i></div>
<div class="c p" style="left:881.0px;top:1084.6px;width:51.0px;height:33.1px"><i>0.32</i></div>
<div class="c b" style="left:935.0px;top:1084.6px;width:67.0px;height:33.1px"><i>0.41</i></div>
<div class="c b" style="left:1005.0px;top:1084.6px;width:50.0px;height:33.1px"><i>0.5</i></div>
<div class="c b" style="left:1058.0px;top:1084.6px;width:67.0px;height:33.1px"><i>0.59</i></div>
<div class="c b" style="left:1128.0px;top:1084.6px;width:51.0px;height:33.1px"><i>0.67</i></div>
<div class="c b" style="left:1182.0px;top:1084.6px;width:68.0px;height:33.1px"><i>0.76</i></div>
<div class="c g" style="left:1253.0px;top:1084.6px;width:50.0px;height:33.1px"><i>0.85</i></div>
<div class="c g" style="left:1306.0px;top:1084.6px;width:68.0px;height:33.1px"><i>0.94</i></div>
<div class="c g" style="left:1377.0px;top:1084.6px;width:50.0px;height:33.1px"><i>1.03</i></div>
<div class="c g" style="left:1430.0px;top:1084.6px;width:67.0px;height:33.1px"><i>1.12</i></div>
<div class="c y" style="left:1500.0px;top:1084.6px;width:50.0px;height:33.1px"><i>1.21</i></div>
<div class="c y" style="left:1553.0px;top:1084.6px;width:67.0px;height:33.1px"><i>1.3</i></div>
<div class="c y" style="left:1623.0px;top:1084.6px;width:52.0px;height:33.1px"><i>1.39</i></div>
<div class="c y" style="left:1678.0px;top:1084.6px;width:66.0px;height:33.1px"><i>1.48</i></div>
<div class="c y" style="left:1747.0px;top:1084.6px;width:51.0px;height:33.1px"><i>1.57</i></div>
<div class="c p" style="left:1801.0px;top:1084.6px;width:67.0px;height:33.1px"><i>1.66</i></div>
<div class="c p" style="left:1871.0px;top:1084.6px;width:51.0px;height:33.1px"><i>1.74</i></div>
<div class="c p" style="left:1925.0px;top:1084.6px;width:67.0px;height:33.1px"><i>1.83</i></div>
<div class="c p" style="left:1995.0px;top:1084.6px;width:51.0px;height:33.1px"><i>1.92</i></div>
<div class="c p" style="left:2049.0px;top:1084.6px;width:67.0px;height:33.1px"><i>2.01</i></div>
<div class="c p" style="left:2119.0px;top:1084.6px;width:50.0px;height:33.1px"><i>2.1</i></div>
<div class="c p" style="left:2172.0px;top:1084.6px;width:67.0px;height:33.1px"><i>2.19</i></div>
<div class="c p" style="left:2242.0px;top:1084.6px;width:51.0px;height:33.1px"><i>2.28</i></div>
<div class="c p" style="left:2296.0px;top:1084.6px;width:67.0px;height:33.1px"><i>2.37</i></div>
<div class="c p" style="left:2366.0px;top:1084.6px;width:51.0px;height:33.1px"><i>2.46</i></div>
<div class="c p" style="left:2420.0px;top:1084.6px;width:67.0px;height:33.1px"><i>2.55</i></div>
<div class="c p" style="left:2490.0px;top:1084.6px;width:50.0px;height:33.1px"><i>2.64</i></div>
<div class="c p" style="left:2543.0px;top:1084.6px;width:68.0px;height:33.1px"><i>2.72</i></div>
<div class="c p" style="left:2614.0px;top:1084.6px;width:49.0px;height:33.1px"><i>2.81</i></div>
<div class="c p" style="left:2666.0px;top:1084.6px;width:56.0px;height:33.1px"><i>2.9</i></div>
<div class="c p" style="left:2725.0px;top:1084.6px;width:49.0px;height:33.1px"><i>2.99</i></div>
<div class="c p" style="left:2777.0px;top:1084.6px;width:55.0px;height:33.1px"><i>3.08</i></div>
<div class="c p" style="left:2835.0px;top:1084.6px;width:49.0px;height:33.1px"><i>3.17</i></div>
<div class="c l" style="left:231.0px;top:1120.7px;width:130.0px;height:33.1px"><i>28°C</i></div>
<div class="c p" style="left:364.0px;top:1120.7px;width:62.0px;height:33.1px"><i>-0.42</i></div>
<div class="c p" style="left:429.0px;top:1120.7px;width:68.0px;height:33.1px"><i>-0.32</i></div>
<div class="c p" style="left:500.0px;top:1120.7px;width:55.0px;height:33.1px"><i>-0.23</i></div>
<div class="c p" style="left:558.0px;top:1120.7px;width:68.0px;height:33.1px"><i>-0.14</i></div>
<div class="c p" style="left:629.0px;top:1120.7px;width:56.0px;height:33.1px"><i>-0.04</i></div>
<div class="c p" style="left:688.0px;top:1120.7px;width:66.0px;height:33.1px"><i>0.05</i></div>
<div class="c p" style="left:757.0px;top:1120.7px;width:52.0px;height:33.1px"><i>0.15</i></div>
<div class="c p" style="left:812.0px;top:1120.7px;width:66.0px;height:33.1px"><i>0.24</i></div>
<div class="c p" style="left:881.0px;top:1120.7px;width:51.0px;height:33.1px"><i>0.34</i></div>
<div class="c b" style="left:935.0px;top:1120.7px;width:67.0px;height:33.1px"><i>0.43</i></div>
<div class="c b" style="left:1005.0px;top:1120.7px;width:50.0px;height:33.1px"><i>0.53</i></div>
<div class="c b" style="left:1058.0px;top:1120.7px;width:67.0px;height:33.1px"><i>0.62</i></div>
<div class="c b" style="left:1128.0px;top:1120.7px;width:51.0px;height:33.1px"><i>0.71</i></div>
<div class="c g" style="left:1182.0px;top:1120.7px;width:68.0px;height:33.1px"><i>0.81</i></div>
<div class="c g" style="left:1253.0px;top:1120.7px;width:50.0px;height:33.1px"><i>0.9</i></div>
<div class="c g" style="left:1306.0px;top:1120.7px;width:68.0px;height:33.1px"><i>1</i></div>
<div class="c g" style="left:1377.0px;top:1120.7px;width:50.0px;height:33.1px"><i>1.09</i></div>
<div class="c g" style="left:1430.0px;top:1120.7px;width:67.0px;height:33.1px"><i>1.19</i></div>
<div class="c y" style="left:1500.0px;top:1120.7px;width:50.0px;height:33.1px"><i>1.28</i></div>
<div class="c y" style="left:1553.0px;top:1120.7px;width:67.0px;height:33.1px"><i>1.38</i></div>
<div class="c y" style="left:1623.0px;top:1120.7px;width:52.0px;height:33.1px"><i>1.47</i></div>
<div class="c y" style="left:1678.0px;top:1120.7px;width:66.0px;height:33.1px"><i>1.56</i></div>
<div class="c p" style="left:1747.0px;top:1120.7px;width:51.0px;height:33.1px"><i>1.66</i></div>
<div class="c p" style="left:1801.0px;top:1120.7px;width:67.0px;height:33.1px"><i>1.75</i></div>
<div class="c p" style="left:1871.0px;top:1120.7px;width:51.0px;height:33.1px"><i>1.85</i></div>
<div class="c p" style="left:1925.0px;top:1120.7px;width:67.0px;height:33.1px"><i>1.94</i></div>
<div class="c p" style="left:1995.0px;top:1120.7px;width:51.0px;height:33.1px"><i>2.04</i></div>
<div class="c p" style="left:2049.0px;top:1120.7px;width:67.0px;height:33.1px"><i>2.13</i></div>
<div class="c p" style="left:2119.0px;top:1120.7px;width:50.0px;height:33.1px"><i>2.23</i></div>
<div class="c p" style="left:2172.0px;top:1120.7px;width:67.0px;height:33.1px"><i>2.32</i></div>
<div class="c p" style="left:2242.0px;top:1120.7px;width:51.0px;height:33.1px"><i>2.42</i></div>
<div class="c p" style="left:2296.0px;top:1120.7px;width:67.0px;height:33.1px"><i>2.51</i></div>
<div class="c p" style="left:2366.0px;top:1120.7px;width:51.0px;height:33.1px"><i>2.6</i></div>
<div class="c p" style="left:2420.0px;top:1120.7px;width:67.0px;height:33.1px"><i>2.7</i></div>
<div class="c p" style="left:2490.0px;top:1120.7px;width:50.0px;height:33.1px"><i>2.79</i></div>
<div class="c p" style="left:2543.0px;top:1120.7px;width:68.0px;height:33.1px"><i>2.89</i></div>
<div class="c p" style="left:2614.0px;top:1120.7px;width:49.0px;height:33.1px"><i>2.98</i></div>
<div class="c p" style="left:2666.0px;top:1120.7px;width:56.0px;height:33.1px"><i>3.08</i></div>
<div class="c p" style="left:2725.0px;top:1120.7px;width:49.0px;height:33.1px"><i>3.17</i></div>
<div class="c p" style="left:2777.0px;top:1120.7px;width:55.0px;height:33.1px"><i>3.27</i></div>
<div class="c p" style="left:2835.0px;top:1120.7px;width:49.0px;height:33.1px"><i>3.36</i></div>
<div class="c l" style="left:231.0px;top:1156.9px;width:130.0px;height:33.1px"><i>29°C</i></div>
<div class="c p" style="left:364.0px;top:1156.9px;width:62.0px;height:33.1px"><i>-0.44</i></div>
<div class="c p" style="left:429.0px;top:1156.9px;width:68.0px;height:33.1px"><i>-0.34</i></div>
<div class="c p" style="left:500.0px;top:1156.9px;width:55.0px;height:33.1px"><i>-0.24</i></div>
<div class="c p" style="left:558.0px;top:1156.9px;width:68.0px;height:33.1px"><i>-0.14</i></div>
<div class="c p" style="left:629.0px;top:1156.9px;width:56.0px;height:33.1px"><i>-0.04</i></div>
<div class="c p" style="left:688.0px;top:1156.9px;width:66.0px;height:33.1px"><i>0.06</i></div>
<div class="c p" style="left:757.0px;top:1156.9px;width:52.0px;height:33.1px"><i>0.16</i></div>
<div class="c p" style="left:812.0px;top:1156.9px;width:66.0px;height:33.1px"><i>0.26</i></div>
<div class="c p" style="left:881.0px;top:1156.9px;width:51.0px;height:33.1px"><i>0.36</i></div>
<div class="c b" style="left:935.0px;top:1156.9px;width:67.0px;height:33.1px"><i>0.46</i></div>
<div class="c b" style="left:1005.0px;top:1156.9px;width:50.0px;height:33.1px"><i>0.56</i></div>
<div class="c b" style="left:1058.0px;top:1156.9px;width:67.0px;height:33.1px"><i>0.66</i></div>
<div class="c b" style="left:1128.0px;top:1156.9px;width:51.0px;height:33.1px"><i>0.76</i></div>
<div class="c g" style="left:1182.0px;top:1156.9px;width:68.0px;height:33.1px"><i>0.86</i></div>
<div class="c g" style="left:1253.0px;top:1156.9px;width:50.0px;height:33.1px"><i>0.96</i></div>
<div class="c g" style="left:1306.0px;top:1156.9px;width:68.0px;height:33.1px"><i>1.06</i></div>
<div class="c g" style="left:1377.0px;top:1156.9px;width:50.0px;height:33.1px"><i>1.16</i></div>
<div class="c y" style="left:1430.0px;top:1156.9px;width:67.0px;height:33.1px"><i>1.26</i></div>
<div class="c y" style="left:1500.0px;top:1156.9px;width:50.0px;height:33.1px"><i>1.36</i></div>
<div class="c y" style="left:1553.0px;top:1156.9px;width:67.0px;height:33.1px"><i>1.46</i></div>
<div class="c y" style="left:1623.0px;top:1156.9px;width:52.0px;height:33.1px"><i>1.56</i></div>
<div class="c p" style="left:1678.0px;top:1156.9px;width:66.0px;height:33.1px"><i>1.66</i></div>
<div class="c p" style="left:1747.0px;top:1156.9px;width:51.0px;height:33.1px"><i>1.76</i></div>
<div class="c p" style="left:1801.0px;top:1156.9px;width:67.0px;height:33.1px"><i>1.86</i></div>
<div class="c p" style="left:1871.0px;top:1156.9px;width:51.0px;height:33.1px"><i>1.96</i></div>
<div class="c p" style="left:1925.0px;top:1156.9px;width:67.0px;height:33.1px"><i>2.06</i></div>
<div class="c p" style="left:1995.0px;top:1156.9px;width:51.0px;height:33.1px"><i>2.16</i></div>
<div class="c p" style="left:2049.0px;top:1156.9px;width:67.0px;height:33.1px"><i>2.26</i></div>
<div class="c p" style="left:2119.0px;top:1156.9px;width:50.0px;height:33.1px"><i>2.36</i></div>
<div class="c p" style="left:2172.0px;top:1156.9px;width:67.0px;height:33.1px"><i>2.46</i></div>
<div class="c p" style="left:2242.0px;top:1156.9px;width:51.0px;height:33.1px"><i>2.56</i></div>
<div class="c p" style="left:2296.0px;top:1156.9px;width:67.0px;height:33.1px"><i>2.66</i></div>
<div class="c p" style="left:2366.0px;top:1156.9px;width:51.0px;height:33.1px"><i>2.76</i></div>
<div class="c p" style="left:2420.0px;top:1156.9px;width:67.0px;height:33.1px"><i>2.86</i></div>
<div class="c p" style="left:2490.0px;top:1156.9px;width:50.0px;height:33.1px"><i>2.96</i></div>
<div class="c p" style="left:2543.0px;top:1156.9px;width:68.0px;height:33.1px"><i>3.06</i></div>
<div class="c p" style="left:2614.0px;top:1156.9px;width:49.0px;height:33.1px"><i>3.16</i></div>
<div class="c p" style="left:2666.0px;top:1156.9px;width:56.0px;height:33.1px"><i>3.26</i></div>
<div class="c p" style="left:2725.0px;top:1156.9px;width:49.0px;height:33.1px"><i>3.36</i></div>
<div class="c p" style="left:2777.0px;top:1156.9px;width:55.0px;height:33.1px"><i>3.46</i></div>
<div class="c p" style="left:2835.0px;top:1156.9px;width:49.0px;height:33.1px"><i>3.56</i></div>
<div class="c l" style="left:231.0px;top:1193.0px;width:130.0px;height:33.1px"><i>30°C</i></div>
<div class="c p" style="left:364.0px;top:1193.0px;width:62.0px;height:33.1px"><i>-0.46</i></div>
<div class="c p" style="left:429.0px;top:1193.0px;width:68.0px;height:33.1px"><i>-0.36</i></div>
<div class="c p" style="left:500.0px;top:1193.0px;width:55.0px;height:33.1px"><i>-0.25</i></div>
<div class="c p" style="left:558.0px;top:1193.0px;width:68.0px;height:33.1px"><i>-0.14</i></div>
<div class="c p" style="left:629.0px;top:1193.0px;width:56.0px;height:33.1px"><i>-0.04</i></div>
<div class="c p" style="left:688.0px;top:1193.0px;width:66.0px;height:33.1px"><i>0.07</i></div>
<div class="c p" style="left:757.0px;top:1193.0px;width:52.0px;height:33.1px"><i>0.17</i></div>
<div class="c p" style="left:812.0px;top:1193.0px;width:66.0px;height:33.1px"><i>0.28</i></div>
<div class="c p" style="left:881.0px;top:1193.0px;width:51.0px;height:33.1px"><i>0.39</i></div>
<div class="c b" style="left:935.0px;top:1193.0px;width:67.0px;height:33.1px"><i>0.49</i></div>
<div class="c b" style="left:1005.0px;top:1193.0px;width:50.0px;height:33.1px"><i>0.6</i></div>
<div class="c b" style="left:1058.0px;top:1193.0px;width:67.0px;height:33.1px"><i>0.7</i></div>
<div class="c g" style="left:1128.0px;top:1193.0px;width:51.0px;height:33.1px"><i>0.81</i></div>
<div class="c g" style="left:1182.0px;top:1193.0px;width:68.0px;height:33.1px"><i>0.92</i></div>
<div class="c g" style="left:1253.0px;top:1193.0px;width:50.0px;height:33.1px"><i>1.02</i></div>
<div class="c g" style="left:1306.0px;top:1193.0px;width:68.0px;height:33.1px"><i>1.13</i></div>
<div class="c y" style="left:1377.0px;top:1193.0px;width:50.0px;height:33.1px"><i>1.23</i></div>
<div class="c y" style="left:1430.0px;top:1193.0px;width:67.0px;height:33.1px"><i>1.34</i></div>
<div class="c y" style="left:1500.0px;top:1193.0px;width:50.0px;height:33.1px"><i>1.45</i></div>
<div class="c y" style="left:1553.0px;top:1193.0px;width:67.0px;height:33.1px"><i>1.55</i></div>
<div class="c p" style="left:1623.0px;top:1193.0px;width:52.0px;height:33.1px"><i>1.66</i></div>
<div class="c p" style="left:1678.0px;top:1193.0px;width:66.0px;height:33.1px"><i>1.77</i></div>
<div class="c p" style="left:1747.0px;top:1193.0px;width:51.0px;height:33.1px"><i>1.87</i></div>
<div class="c p" style="left:1801.0px;top:1193.0px;width:67.0px;height:33.1px"><i>1.98</i></div>
<div class="c p" style="left:1871.0px;top:1193.0px;width:51.0px;height:33.1px"><i>2.08</i></div>
<div class="c p" style="left:1925.0px;top:1193.0px;width:67.0px;height:33.1px"><i>2.19</i></div>
<div class="c p" style="left:1995.0px;top:1193.0px;width:51.0px;height:33.1px"><i>2.3</i></div>
<div class="c p" style="left:2049.0px;top:1193.0px;width:67.0px;height:33.1px"><i>2.4</i></div>
<div class="c p" style="left:2119.0px;top:1193.0px;width:50.0px;height:33.1px"><i>2.51</i></div>
<div class="c p" style="left:2172.0px;top:1193.0px;width:67.0px;height:33.1px"><i>2.61</i></div>
<div class="c p" style="left:2242.0px;top:1193.0px;width:51.0px;height:33.1px"><i>2.72</i></div>
<div class="c p" style="left:2296.0px;top:1193.0px;width:67.0px;height:33.1px"><i>2.83</i></div>
<div class="c p" style="left:2366.0px;top:1193.0px;width:51.0px;height:33.1px"><i>2.93</i></div>
<div class="c p" style="left:2420.0px;top:1193.0px;width:67.0px;height:33.1px"><i>3.04</i></div>
<div class="c p" style="left:2490.0px;top:1193.0px;width:50.0px;height:33.1px"><i>3.14</i></div>
<div class="c p" style="left:2543.0px;top:1193.0px;width:68.0px;height:33.1px"><i>3.25</i></div>
<div class="c p" style="left:2614.0px;top:1193.0px;width:49.0px;height:33.1px"><i>3.36</i></div>
<div class="c p" style="left:2666.0px;top:1193.0px;width:56.0px;height:33.1px"><i>3.46</i></div>
<div class="c p" style="left:2725.0px;top:1193.0px;width:49.0px;height:33.1px"><i>3.57</i></div>
<div class="c p" style="left:2777.0px;top:1193.0px;width:55.0px;height:33.1px"><i>3.67</i></div>
<div class="c p" style="left:2835.0px;top:1193.0px;width:49.0px;height:33.1px"><i>3.78</i></div>
<div class="c l" style="left:231.0px;top:1229.1px;width:130.0px;height:33.1px"><i>31°C</i></div>
<div class="c p" style="left:364.0px;top:1229.1px;width:62.0px;height:33.1px"><i>-0.49</i></div>
<div class="c p" style="left:429.0px;top:1229.1px;width:68.0px;height:33.1px"><i>-0.38</i></div>
<div class="c p" style="left:500.0px;top:1229.1px;width:55.0px;height:33.1px"><i>-0.27</i></div>
<div class="c p" style="left:558.0px;top:1229.1px;width:68.0px;height:33.1px"><i>-0.15</i></div>
<div class="c p" style="left:629.0px;top:1229.1px;width:56.0px;height:33.1px"><i>-0.04</i></div>
<div class="c p" style="left:688.0px;top:1229.1px;width:66.0px;height:33.1px"><i>0.07</i></div>
<div class="c p" style="left:757.0px;top:1229.1px;width:52.0px;height:33.1px"><i>0.18</i></div>
<div class="c p" style="left:812.0px;top:1229.1px;width:66.0px;height:33.1px"><i>0.29</i></div>
<div class="c b" style="left:881.0px;top:1229.1px;width:51.0px;height:33.1px"><i>0.41</i></div>
<div class="c b" style="left:935.0px;top:1229.1px;width:67.0px;height:33.1px"><i>0.52</i></div>
<div class="c b" style="left:1005.0px;top:1229.1px;width:50.0px;height:33.1px"><i>0.63</i></div>
<div class="c b" style="left:1058.0px;top:1229.1px;width:67.0px;height:33.1px"><i>0.74</i></div>
<div class="c g" style="left:1128.0px;top:1229.1px;width:51.0px;height:33.1px"><i>0.86</i></div>
<div class="c g" style="left:1182.0px;top:1229.1px;width:68.0px;height:33.1px"><i>0.97</i></div>
<div class="c g" style="left:1253.0px;top:1229.1px;width:50.0px;height:33.1px"><i>1.08</i></div>
<div class="c g" style="left:1306.0px;top:1229.1px;width:68.0px;height:33.1px"><i>1.19</i></div>
<div class="c y" style="left:1377.0px;top:1229.1px;width:50.0px;height:33.1px"><i>1.31</i></div>
<div class="c y" style="left:1430.0px;top:1229.1px;width:67.0px;height:33.1px"><i>1.42</i></div>
<div class="c y" style="left:1500.0px;top:1229.1px;width:50.0px;height:33.1px"><i>1.53</i></div>
<div class="c p" style="left:1553.0px;top:1229.1px;width:67.0px;height:33.1px"><i>1.64</i></div>
<div class="c p" style="left:1623.0px;top:1229.1px;width:52.0px;height:33.1px"><i>1.75</i></div>
<div class="c p" style="left:1678.0px;top:1229.1px;width:66.0px;height:33.1px"><i>1.87</i></div>
<div class="c p" style="left:1747.0px;top:1229.1px;width:51.0px;height:33.1px"><i>1.98</i></div>
<div class="c p" style="left:1801.0px;top:1229.1px;width:67.0px;height:33.1px"><i>2.09</i></div>
<div class="c p" style="left:1871.0px;top:1229.1px;width:51.0px;height:33.1px"><i>2.2</i></div>
<div class="c p" style="left:1925.0px;top:1229.1px;width:67.0px;height:33.1px"><i>2.32</i></div>
<div class="c p" style="left:1995.0px;top:1229.1px;width:51.0px;height:33.1px"><i>2.43</i></div>
<div class="c p" style="left:2049.0px;top:1229.1px;width:67.0px;height:33.1px"><i>2.54</i></div>
<div class="c p" style="left:2119.0px;top:1229.1px;width:50.0px;height:33.1px"><i>2.65</i></div>
<div class="c p" style="left:2172.0px;top:1229.1px;width:67.0px;height:33.1px"><i>2.76</i></div>
<div class="c p" style="left:2242.0px;top:1229.1px;width:51.0px;height:33.1px"><i>2.88</i></div>
<div class="c p" style="left:2296.0px;top:1229.1px;width:67.0px;height:33.1px"><i>2.99</i></div>
<div class="c p" style="left:2366.0px;top:1229.1px;width:51.0px;height:33.1px"><i>3.1</i></div>
<div class="c p" style="left:2420.0px;top:1229.1px;width:67.0px;height:33.1px"><i>3.21</i></div>
<div class="c p" style="left:2490.0px;top:1229.1px;width:50.0px;height:33.1px"><i>3.33</i></div>
<div class="c p" style="left:2543.0px;top:1229.1px;width:68.0px;height:33.1px"><i>3.44</i></div>
<div class="c p" style="left:2614.0px;top:1229.1px;width:49.0px;height:33.1px"><i>3.55</i></div>
<div class="c p" style="left:2666.0px;top:1229.1px;width:56.0px;height:33.1px"><i>3.66</i></div>
<div class="c p" style="left:2725.0px;top:1229.1px;width:49.0px;height:33.1px"><i>3.78</i></div>
<div class="c p" style="left:2777.0px;top:1229.1px;width:55.0px;height:33.1px"><i>3.89</i></div>
<div class="c p" style="left:2835.0px;top:1229.1px;width:49.0px;height:33.1px"><i>4</i></div>
<div class="c l" style="left:231.0px;top:1265.2px;width:130.0px;height:33.1px"><i>32°C</i></div>
<div class="c p" style="left:364.0px;top:1265.2px;width:62.0px;height:33.1px"><i>-0.51</i></div>
<div class="c p" style="left:429.0px;top:1265.2px;width:68.0px;height:33.1px"><i>-0.39</i></div>
<div class="c p" style="left:500.0px;top:1265.2px;width:55.0px;height:33.1px"><i>-0.28</i></div>
<div class="c p" style="left:558.0px;top:1265.2px;width:68.0px;height:33.1px"><i>-0.16</i></div>
<div class="c p" style="left:629.0px;top:1265.2px;width:56.0px;height:33.1px"><i>-0.04</i></div>
<div class="c p" style="left:688.0px;top:1265.2px;width:66.0px;height:33.1px"><i>0.08</i></div>
<div class="c p" style="left:757.0px;top:1265.2px;width:52.0px;height:33.1px"><i>0.2</i></div>
<div class="c p" style="left:812.0px;top:1265.2px;width:66.0px;height:33.1px"><i>0.32</i></div>
<div class="c b" style="left:881.0px;top:1265.2px;width:51.0px;height:33.1px"><i>0.44</i></div>
<div class="c b" style="left:935.0px;top:1265.2px;width:67.0px;height:33.1px"><i>0.56</i></div>
<div class="c b" style="left:1005.0px;top:1265.2px;width:50.0px;height:33.1px"><i>0.67</i></div>
<div class="c b" style="left:1058.0px;top:1265.2px;width:67.0px;height:33.1px"><i>0.79</i></div>
<div class="c g" style="left:1128.0px;top:1265.2px;width:51.0px;height:33.1px"><i>0.91</i></div>
<div class="c g" style="left:1182.0px;top:1265.2px;width:68.0px;height:33.1px"><i>1.03</i></div>
<div class="c g" style="left:1253.0px;top:1265.2px;width:50.0px;height:33.1px"><i>1.15</i></div>
<div class="c y" style="left:1306.0px;top:1265.2px;width:68.0px;height:33.1px"><i>1.27</i></div>
<div class="c y" style="left:1377.0px;top:1265.2px;width:50.0px;height:33.1px"><i>1.39</i></div>
<div class="c y" style="left:1430.0px;top:1265.2px;width:67.0px;height:33.1px"><i>1.51</i></div>
<div class="c p" style="left:1500.0px;top:1265.2px;width:50.0px;height:33.1px"><i>1.63</i></div>
<div class="c p" style="left:1553.0px;top:1265.2px;width:67.0px;height:33.1px"><i>1.74</i></div>
<div class="c p" style="left:1623.0px;top:1265.2px;width:52.0px;height:33.1px"><i>1.86</i></div>
<div class="c p" style="left:1678.0px;top:1265.2px;width:66.0px;height:33.1px"><i>1.98</i></div>
<div class="c p" style="left:1747.0px;top:1265.2px;width:51.0px;height:33.1px"><i>2.1</i></div>
<div class="c p" style="left:1801.0px;top:1265.2px;width:67.0px;height:33.1px"><i>2.22</i></div>
<div class="c p" style="left:1871.0px;top:1265.2px;width:51.0px;height:33.1px"><i>2.34</i></div>
<div class="c p" style="left:1925.0px;top:1265.2px;width:67.0px;height:33.1px"><i>2.46</i></div>
<div class="c p" style="left:1995.0px;top:1265.2px;width:51.0px;height:33.1px"><i>2.58</i></div>
<div class="c p" style="left:2049.0px;top:1265.2px;width:67.0px;height:33.1px"><i>2.7</i></div>
<div class="c p" style="left:2119.0px;top:1265.2px;width:50.0px;height:33.1px"><i>2.81</i></div>
<div class="c p" style="left:2172.0px;top:1265.2px;width:67.0px;height:33.1px"><i>2.93</i></div>
<div class="c p" style="left:2242.0px;top:1265.2px;width:51.0px;height:33.1px"><i>3.05</i></div>
<div class="c p" style="left:2296.0px;top:1265.2px;width:67.0px;height:33.1px"><i>3.17</i></div>
<div class="c p" style="left:2366.0px;top:1265.2px;width:51.0px;height:33.1px"><i>3.29</i></div>
<div class="c p" style="left:2420.0px;top:1265.2px;width:67.0px;height:33.1px"><i>3.41</i></div>
<div class="c p" style="left:2490.0px;top:1265.2px;width:50.0px;height:33.1px"><i>3.53</i></div>
<div class="c p" style="left:2543.0px;top:1265.2px;width:68.0px;height:33.1px"><i>3.65</i></div>
<div class="c p" style="left:2614.0px;top:1265.2px;width:49.0px;height:33.1px"><i>3.76</i></div>
<div class="c p" style="left:2666.0px;top:1265.2px;width:56.0px;height:33.1px"><i>3.88</i></div>
<div class="c p" style="left:2725.0px;top:1265.2px;width:49.0px;height:33.1px"><i>4</i></div>
<div class="c p" style="left:2777.0px;top:1265.2px;width:55.0px;height:33.1px"><i>4.12</i></div>
<div class="c p" style="left:2835.0px;top:1265.2px;width:49.0px;height:33.1px"><i>4.24</i></div>
<div class="c l" style="left:231.0px;top:1301.3px;width:130.0px;height:33.1px"><i>33°C</i></div>
<div class="c p" style="left:364.0px;top:1301.3px;width:62.0px;height:33.1px"><i>-0.54</i></div>
<div class="c p" style="left:429.0px;top:1301.3px;width:68.0px;height:33.1px"><i>-0.41</i></div>
<div class="c p" style="left:500.0px;top:1301.3px;width:55.0px;height:33.1px"><i>-0.29</i></div>
<div class="c p" style="left:558.0px;top:1301.3px;width:68.0px;height:33.1px"><i>-0.16</i></div>
<div class="c p" style="left:629.0px;top:1301.3px;width:56.0px;height:33.1px"><i>-0.04</i></div>
<div class="c p" style="left:688.0px;top:1301.3px;width:66.0px;height:33.1px"><i>0.09</i></div>
<div class="c p" style="left:757.0px;top:1301.3px;width:52.0px;height:33.1px"><i>0.22</i></div>
<div class="c p" style="left:812.0px;top:1301.3px;width:66.0px;height:33.1px"><i>0.34</i></div>
<div class="c b" style="left:881.0px;top:1301.3px;width:51.0px;height:33.1px"><i>0.47</i></div>
<div class="c b" style="left:935.0px;top:1301.3px;width:67.0px;height:33.1px"><i>0.59</i></div>
<div class="c b" style="left:1005.0px;top:1301.3px;width:50.0px;height:33.1px"><i>0.72</i></div>
<div class="c g" style="left:1058.0px;top:1301.3px;width:67.0px;height:33.1px"><i>0.84</i></div>
<div class="c g" style="left:1128.0px;top:1301.3px;width:51.0px;height:33.1px"><i>0.97</i></div>
<div class="c g" style="left:1182.0px;top:1301.3px;width:68.0px;height:33.1px"><i>1.1</i></div>
<div class="c y" style="left:1253.0px;top:1301.3px;width:50.0px;height:33.1px"><i>1.22</i></div>
<div class="c y" style="left:1306.0px;top:1301.3px;width:68.0px;height:33.1px"><i>1.35</i></div>
<div class="c y" style="left:1377.0px;top:1301.3px;width:50.0px;height:33.1px"><i>1.47</i></div>
<div class="c y" style="left:1430.0px;top:1301.3px;width:67.0px;height:33.1px"><i>1.6</i></div>
<div class="c p" style="left:1500.0px;top:1301.3px;width:50.0px;height:33.1px"><i>1.72</i></div>
<div class="c p" style="left:1553.0px;top:1301.3px;width:67.0px;height:33.1px"><i>1.85</i></div>
<div class="c p" style="left:1623.0px;top:1301.3px;width:52.0px;height:33.1px"><i>1.98</i></div>
<div class="c p" style="left:1678.0px;top:1301.3px;width:66.0px;height:33.1px"><i>2.1</i></div>
<div class="c p" style="left:1747.0px;top:1301.3px;width:51.0px;height:33.1px"><i>2.23</i></div>
<div class="c p" style="left:1801.0px;top:1301.3px;width:67.0px;height:33.1px"><i>2.35</i></div>
<div class="c p" style="left:1871.0px;top:1301.3px;width:51.0px;height:33.1px"><i>2.48</i></div>
<div class="c p" style="left:1925.0px;top:1301.3px;width:67.0px;height:33.1px"><i>2.6</i></div>
<div class="c p" style="left:1995.0px;top:1301.3px;width:51.0px;height:33.1px"><i>2.73</i></div>
<div class="c p" style="left:2049.0px;top:1301.3px;width:67.0px;height:33.1px"><i>2.86</i></div>
<div class="c p" style="left:2119.0px;top:1301.3px;width:50.0px;height:33.1px"><i>2.98</i></div>
<div class="c p" style="left:2172.0px;top:1301.3px;width:67.0px;height:33.1px"><i>3.11</i></div>
<div class="c p" style="left:2242.0px;top:1301.3px;width:51.0px;height:33.1px"><i>3.23</i></div>
<div class="c p" style="left:2296.0px;top:1301.3px;width:67.0px;height:33.1px"><i>3.36</i></div>
<div class="c p" style="left:2366.0px;top:1301.3px;width:51.0px;height:33.1px"><i>3.48</i></div>
<div class="c p" style="left:2420.0px;top:1301.3px;width:67.0px;height:33.1px"><i>3.61</i></div>
<div class="c p" style="left:2490.0px;top:1301.3px;width:50.0px;height:33.1px"><i>3.74</i></div>
<div class="c p" style="left:2543.0px;top:1301.3px;width:68.0px;height:33.1px"><i>3.86</i></div>
<div class="c p" style="left:2614.0px;top:1301.3px;width:49.0px;height:33.1px"><i>3.99</i></div>
<div class="c p" style="left:2666.0px;top:1301.3px;width:56.0px;height:33.1px"><i>4.11</i></div>
<div class="c p" style="left:2725.0px;top:1301.3px;width:49.0px;height:33.1px"><i>4.24</i></div>
<div class="c p" style="left:2777.0px;top:1301.3px;width:55.0px;height:33.1px"><i>4.36</i></div>
<div class="c p" style="left:2835.0px;top:1301.3px;width:49.0px;height:33.1px"><i>4.49</i></div>
<div class="c l" style="left:231.0px;top:1337.4px;width:130.0px;height:33.1px"><i>34°C</i></div>
<div class="c p" style="left:364.0px;top:1337.4px;width:62.0px;height:33.1px"><i>-0.57</i></div>
<div class="c p" style="left:429.0px;top:1337.4px;width:68.0px;height:33.1px"><i>-0.44</i></div>
<div class="c p" style="left:500.0px;top:1337.4px;width:55.0px;height:33.1px"><i>-0.3</i></div>
<div class="c p" style="left:558.0px;top:1337.4px;width:68.0px;height:33.1px"><i>-0.17</i></div>
<div class="c p" style="left:629.0px;top:1337.4px;width:56.0px;height:33.1px"><i>-0.04</i></div>
<div class="c p" style="left:688.0px;top:1337.4px;width:66.0px;height:33.1px"><i>0.1</i></div>
<div class="c p" style="left:757.0px;top:1337.4px;width:52.0px;height:33.1px"><i>0.23</i></div>
<div class="c p" style="left:812.0px;top:1337.4px;width:66.0px;height:33.1px"><i>0.36</i></div>
<div class="c b" style="left:881.0px;top:1337.4px;width:51.0px;height:33.1px"><i>0.5</i></div>
<div class="c b" style="left:935.0px;top:1337.4px;width:67.0px;height:33.1px"><i>0.63</i></div>
<div class="c b" style="left:1005.0px;top:1337.4px;width:50.0px;height:33.1px"><i>0.76</i></div>
<div class="c g" style="left:1058.0px;top:1337.4px;width:67.0px;height:33.1px"><i>0.89</i></div>
<div class="c g" style="left:1128.0px;top:1337.4px;width:51.0px;height:33.1px"><i>1.03</i></div>
<div class="c g" style="left:1182.0px;top:1337.4px;width:68.0px;height:33.1px"><i>1.16</i></div>
<div class="c y" style="left:1253.0px;top:1337.4px;width:50.0px;height:33.1px"><i>1.29</i></div>
<div class="c y" style="left:1306.0px;top:1337.4px;width:68.0px;height:33.1px"><i>1.43</i></div>
<div class="c y" style="left:1377.0px;top:1337.4px;width:50.0px;height:33.1px"><i>1.56</i></div>
<div class="c p" style="left:1430.0px;top:1337.4px;width:67.0px;height:33.1px"><i>1.69</i></div>
<div class="c p" style="left:1500.0px;top:1337.4px;width:50.0px;height:33.1px"><i>1.83</i></div>
<div class="c p" style="left:1553.0px;top:1337.4px;width:67.0px;height:33.1px"><i>1.96</i></div>
<div class="c p" style="left:1623.0px;top:1337.4px;width:52.0px;height:33.1px"><i>2.09</i></div>
<div class="c p" style="left:1678.0px;top:1337.4px;width:66.0px;height:33.1px"><i>2.22</i></div>
<div class="c p" style="left:1747.0px;top:1337.4px;width:51.0px;height:33.1px"><i>2.36</i></div>
<div class="c p" style="left:1801.0px;top:1337.4px;width:67.0px;height:33.1px"><i>2.49</i></div>
<div class="c p" style="left:1871.0px;top:1337.4px;width:51.0px;height:33.1px"><i>2.62</i></div>
<div class="c p" style="left:1925.0px;top:1337.4px;width:67.0px;height:33.1px"><i>2.76</i></div>
<div class="c p" style="left:1995.0px;top:1337.4px;width:51.0px;height:33.1px"><i>2.89</i></div>
<div class="c p" style="left:2049.0px;top:1337.4px;width:67.0px;height:33.1px"><i>3.02</i></div>
<div class="c p" style="left:2119.0px;top:1337.4px;width:50.0px;height:33.1px"><i>3.15</i></div>
<div class="c p" style="left:2172.0px;top:1337.4px;width:67.0px;height:33.1px"><i>3.29</i></div>
<div class="c p" style="left:2242.0px;top:1337.4px;width:51.0px;height:33.1px"><i>3.42</i></div>
<div class="c p" style="left:2296.0px;top:1337.4px;width:67.0px;height:33.1px"><i>3.55</i></div>
<div class="c p" style="left:2366.0px;top:1337.4px;width:51.0px;height:33.1px"><i>3.69</i></div>
<div class="c p" style="left:2420.0px;top:1337.4px;width:67.0px;height:33.1px"><i>3.82</i></div>
<div class="c p" style="left:2490.0px;top:1337.4px;width:50.0px;height:33.1px"><i>3.95</i></div>
<div class="c p" style="left:2543.0px;top:1337.4px;width:68.0px;height:33.1px"><i>4.09</i></div>
<div class="c p" style="left:2614.0px;top:1337.4px;width:49.0px;height:33.1px"><i>4.22</i></div>
<div class="c p" style="left:2666.0px;top:1337.4px;width:56.0px;height:33.1px"><i>4.35</i></div>
<div class="c p" style="left:2725.0px;top:1337.4px;width:49.0px;height:33.1px"><i>4.48</i></div>
<div class="c p" style="left:2777.0px;top:1337.4px;width:55.0px;height:33.1px"><i>4.62</i></div>
<div class="c p" style="left:2835.0px;top:1337.4px;width:49.0px;height:33.1px"><i>4.75</i></div>
<div class="c l" style="left:231.0px;top:1373.5px;width:130.0px;height:33.1px"><i>35°C</i></div>
<div class="c p" style="left:364.0px;top:1373.5px;width:62.0px;height:33.1px"><i>-0.59</i></div>
<div class="c p" style="left:429.0px;top:1373.5px;width:68.0px;height:33.1px"><i>-0.45</i></div>
<div class="c p" style="left:500.0px;top:1373.5px;width:55.0px;height:33.1px"><i>-0.31</i></div>
<div class="c p" style="left:558.0px;top:1373.5px;width:68.0px;height:33.1px"><i>-0.17</i></div>
<div class="c p" style="left:629.0px;top:1373.5px;width:56.0px;height:33.1px"><i>-0.03</i></div>
<div class="c p" style="left:688.0px;top:1373.5px;width:66.0px;height:33.1px"><i>0.11</i></div>
<div class="c p" style="left:757.0px;top:1373.5px;width:52.0px;height:33.1px"><i>0.25</i></div>
<div class="c p" style="left:812.0px;top:1373.5px;width:66.0px;height:33.1px"><i>0.39</i></div>
<div class="c b" style="left:881.0px;top:1373.5px;width:51.0px;height:33.1px"><i>0.53</i></div>
<div class="c b" style="left:935.0px;top:1373.5px;width:67.0px;height:33.1px"><i>0.67</i></div>
<div class="c g" style="left:1005.0px;top:1373.5px;width:50.0px;height:33.1px"><i>0.81</i></div>
<div class="c g" style="left:1058.0px;top:1373.5px;width:67.0px;height:33.1px"><i>0.95</i></div>
<div class="c g" style="left:1128.0px;top:1373.5px;width:51.0px;height:33.1px"><i>1.1</i></div>
<div class="c y" style="left:1182.0px;top:1373.5px;width:68.0px;height:33.1px"><i>1.24</i></div>
<div class="c y" style="left:1253.0px;top:1373.5px;width:50.0px;height:33.1px"><i>1.38</i></div>
<div class="c y" style="left:1306.0px;top:1373.5px;width:68.0px;height:33.1px"><i>1.52</i></div>
<div class="c p" style="left:1377.0px;top:1373.5px;width:50.0px;height:33.1px"><i>1.66</i></div>
<div class="c p" style="left:1430.0px;top:1373.5px;width:67.0px;height:33.1px"><i>1.8</i></div>
<div class="c p" style="left:1500.0px;top:1373.5px;width:50.0px;height:33.1px"><i>1.94</i></div>
<div class="c p" style="left:1553.0px;top:1373.5px;width:67.0px;height:33.1px"><i>2.08</i></div>
<div class="c p" style="left:1623.0px;top:1373.5px;width:52.0px;height:33.1px"><i>2.22</i></div>
<div class="c p" style="left:1678.0px;top:1373.5px;width:66.0px;height:33.1px"><i>2.36</i></div>
<div class="c p" style="left:1747.0px;top:1373.5px;width:51.0px;height:33.1px"><i>2.5</i></div>
<div class="c p" style="left:1801.0px;top:1373.5px;width:67.0px;height:33.1px"><i>2.64</i></div>
<div class="c p" style="left:1871.0px;top:1373.5px;width:51.0px;height:33.1px"><i>2.78</i></div>
<div class="c p" style="left:1925.0px;top:1373.5px;width:67.0px;height:33.1px"><i>2.92</i></div>
<div class="c p" style="left:1995.0px;top:1373.5px;width:51.0px;height:33.1px"><i>3.06</i></div>
<div class="c p" style="left:2049.0px;top:1373.5px;width:67.0px;height:33.1px"><i>3.2</i></div>
<div class="c p" style="left:2119.0px;top:1373.5px;width:50.0px;height:33.1px"><i>3.34</i></div>
<div class="c p" style="left:2172.0px;top:1373.5px;width:67.0px;height:33.1px"><i>3.48</i></div>
<div class="c p" style="left:2242.0px;top:1373.5px;width:51.0px;height:33.1px"><i>3.62</i></div>
<div class="c p" style="left:2296.0px;top:1373.5px;width:67.0px;height:33.1px"><i>3.77</i></div>
<div class="c p" style="left:2366.0px;top:1373.5px;width:51.0px;height:33.1px"><i>3.91</i></div>
<div class="c p" style="left:2420.0px;top:1373.5px;width:67.0px;height:33.1px"><i>4.05</i></div>
<div class="c p" style="left:2490.0px;top:1373.5px;width:50.0px;height:33.1px"><i>4.19</i></div>
<div class="c p" style="left:2543.0px;top:1373.5px;width:68.0px;height:33.1px"><i>4.33</i></div>
<div class="c p" style="left:2614.0px;top:1373.5px;width:49.0px;height:33.1px"><i>4.47</i></div>
<div class="c p" style="left:2666.0px;top:1373.5px;width:56.0px;height:33.1px"><i>4.61</i></div>
<div class="c p" style="left:2725.0px;top:1373.5px;width:49.0px;height:33.1px"><i>4.75</i></div>
<div class="c p" style="left:2777.0px;top:1373.5px;width:55.0px;height:33.1px"><i>4.89</i></div>
<div class="c p" style="left:2835.0px;top:1373.5px;width:49.0px;height:33.1px"><i>5.03</i></div>
<div class="c l" style="left:231.0px;top:1409.6px;width:130.0px;height:33.1px"><i>36°C</i></div>
<div class="c p" style="left:364.0px;top:1409.6px;width:62.0px;height:33.1px"><i>-0.62</i></div>
<div class="c p" style="left:429.0px;top:1409.6px;width:68.0px;height:33.1px"><i>-0.47</i></div>
<div class="c p" style="left:500.0px;top:1409.6px;width:55.0px;height:33.1px"><i>-0.32</i></div>
<div class="c p" style="left:558.0px;top:1409.6px;width:68.0px;height:33.1px"><i>-0.17</i></div>
<div class="c p" style="left:629.0px;top:1409.6px;width:56.0px;height:33.1px"><i>-0.03</i></div>
<div class="c p" style="left:688.0px;top:1409.6px;width:66.0px;height:33.1px"><i>0.12</i></div>
<div class="c p" style="left:757.0px;top:1409.6px;width:52.0px;height:33.1px"><i>0.27</i></div>
<div class="c b" style="left:812.0px;top:1409.6px;width:66.0px;height:33.1px"><i>0.42</i></div>
<div class="c b" style="left:881.0px;top:1409.6px;width:51.0px;height:33.1px"><i>0.57</i></div>
<div class="c b" style="left:935.0px;top:1409.6px;width:67.0px;height:33.1px"><i>0.72</i></div>
<div class="c g" style="left:1005.0px;top:1409.6px;width:50.0px;height:33.1px"><i>0.87</i></div>
<div class="c g" style="left:1058.0px;top:1409.6px;width:67.0px;height:33.1px"><i>1.01</i></div>
<div class="c g" style="left:1128.0px;top:1409.6px;width:51.0px;height:33.1px"><i>1.16</i></div>
<div class="c y" style="left:1182.0px;top:1409.6px;width:68.0px;height:33.1px"><i>1.31</i></div>
<div class="c y" style="left:1253.0px;top:1409.6px;width:50.0px;height:33.1px"><i>1.46</i></div>
<div class="c p" style="left:1306.0px;top:1409.6px;width:68.0px;height:33.1px"><i>1.61</i></div>
<div class="c p" style="left:1377.0px;top:1409.6px;width:50.0px;height:33.1px"><i>1.76</i></div>
<div class="c p" style="left:1430.0px;top:1409.6px;width:67.0px;height:33.1px"><i>1.9</i></div>
<div class="c p" style="left:1500.0px;top:1409.6px;width:50.0px;height:33.1px"><i>2.05</i></div>
<div class="c p" style="left:1553.0px;top:1409.6px;width:67.0px;height:33.1px"><i>2.2</i></div>
<div class="c p" style="left:1623.0px;top:1409.6px;width:52.0px;height:33.1px"><i>2.35</i></div>
<div class="c p" style="left:1678.0px;top:1409.6px;width:66.0px;height:33.1px"><i>2.5</i></div>
<div class="c p" style="left:1747.0px;top:1409.6px;width:51.0px;height:33.1px"><i>2.65</i></div>
<div class="c p" style="left:1801.0px;top:1409.6px;width:67.0px;height:33.1px"><i>2.8</i></div>
<div class="c p" style="left:1871.0px;top:1409.6px;width:51.0px;height:33.1px"><i>2.94</i></div>
<div class="c p" style="left:1925.0px;top:1409.6px;width:67.0px;height:33.1px"><i>3.09</i></div>
<div class="c p" style="left:1995.0px;top:1409.6px;width:51.0px;height:33.1px"><i>3.24</i></div>
<div class="c p" style="left:2049.0px;top:1409.6px;width:67.0px;height:33.1px"><i>3.39</i></div>
<div class="c p" style="left:2119.0px;top:1409.6px;width:50.0px;height:33.1px"><i>3.54</i></div>
<div class="c p" style="left:2172.0px;top:1409.6px;width:67.0px;height:33.1px"><i>3.69</i></div>
<div class="c p" style="left:2242.0px;top:1409.6px;width:51.0px;height:33.1px"><i>3.84</i></div>
<div class="c p" style="left:2296.0px;top:1409.6px;width:67.0px;height:33.1px"><i>3.98</i></div>
<div class="c p" style="left:2366.0px;top:1409.6px;width:51.0px;height:33.1px"><i>4.13</i></div>
<div class="c p" style="left:2420.0px;top:1409.6px;width:67.0px;height:33.1px"><i>4.28</i></div>
<div class="c p" style="left:2490.0px;top:1409.6px;width:50.0px;height:33.1px"><i>4.43</i></div>
<div class="c p" style="left:2543.0px;top:1409.6px;width:68.0px;height:33.1px"><i>4.58</i></div>
<div class="c p" style="left:2614.0px;top:1409.6px;width:49.0px;height:33.1px"><i>4.73</i></div>
<div class="c p" style="left:2666.0px;top:1409.6px;width:56.0px;height:33.1px"><i>4.87</i></div>
<div class="c p" style="left:2725.0px;top:1409.6px;width:49.0px;height:33.1px"><i>5.02</i></div>
<div class="c p" style="left:2777.0px;top:1409.6px;width:55.0px;height:33.1px"><i>5.17</i></div>
<div class="c p" style="left:2835.0px;top:1409.6px;width:49.0px;height:33.1px"><i>5.32</i></div>
<div class="c l" style="left:231.0px;top:1445.7px;width:130.0px;height:33.1px"><i>37°C</i></div>
<div class="c p" style="left:364.0px;top:1445.7px;width:62.0px;height:33.1px"><i>-0.65</i></div>
<div class="c p" style="left:429.0px;top:1445.7px;width:68.0px;height:33.1px"><i>-0.5</i></div>
<div class="c p" style="left:500.0px;top:1445.7px;width:55.0px;height:33.1px"><i>-0.34</i></div>
<div class="c p" style="left:558.0px;top:1445.7px;width:68.0px;height:33.1px"><i>-0.18</i></div>
<div class="c p" style="left:629.0px;top:1445.7px;width:56.0px;height:33.1px"><i>-0.03</i></div>
<div class="c p" style="left:688.0px;top:1445.7px;width:66.0px;height:33.1px"><i>0.13</i></div>
<div class="c p" style="left:757.0px;top:1445.7px;width:52.0px;height:33.1px"><i>0.29</i></div>
<div class="c b" style="left:812.0px;top:1445.7px;width:66.0px;height:33.1px"><i>0.44</i></div>
<div class="c b" style="left:881.0px;top:1445.7px;width:51.0px;height:33.1px"><i>0.6</i></div>
<div class="c b" style="left:935.0px;top:1445.7px;width:67.0px;height:33.1px"><i>0.76</i></div>
<div class="c g" style="left:1005.0px;top:1445.7px;width:50.0px;height:33.1px"><i>0.92</i></div>
<div class="c g" style="left:1058.0px;top:1445.7px;width:67.0px;height:33.1px"><i>1.07</i></div>
<div class="c y" style="left:1128.0px;top:1445.7px;width:51.0px;height:33.1px"><i>1.23</i></div>
<div class="c y" style="left:1182.0px;top:1445.7px;width:68.0px;height:33.1px"><i>1.39</i></div>
<div class="c y" style="left:1253.0px;top:1445.7px;width:50.0px;height:33.1px"><i>1.54</i></div>
<div class="c p" style="left:1306.0px;top:1445.7px;width:68.0px;height:33.1px"><i>1.7</i></div>
<div class="c p" style="left:1377.0px;top:1445.7px;width:50.0px;height:33.1px"><i>1.86</i></div>
<div class="c p" style="left:1430.0px;top:1445.7px;width:67.0px;height:33.1px"><i>2.01</i></div>
<div class="c p" style="left:1500.0px;top:1445.7px;width:50.0px;height:33.1px"><i>2.17</i></div>
<div class="c p" style="left:1553.0px;top:1445.7px;width:67.0px;height:33.1px"><i>2.33</i></div>
<div class="c p" style="left:1623.0px;top:1445.7px;width:52.0px;height:33.1px"><i>2.48</i></div>
<div class="c p" style="left:1678.0px;top:1445.7px;width:66.0px;height:33.1px"><i>2.64</i></div>
<div class="c p" style="left:1747.0px;top:1445.7px;width:51.0px;height:33.1px"><i>2.8</i></div>
<div class="c p" style="left:1801.0px;top:1445.7px;width:67.0px;height:33.1px"><i>2.95</i></div>
<div class="c p" style="left:1871.0px;top:1445.7px;width:51.0px;height:33.1px"><i>3.11</i></div>
<div class="c p" style="left:1925.0px;top:1445.7px;width:67.0px;height:33.1px"><i>3.27</i></div>
<div class="c p" style="left:1995.0px;top:1445.7px;width:51.0px;height:33.1px"><i>3.42</i></div>
<div class="c p" style="left:2049.0px;top:1445.7px;width:67.0px;height:33.1px"><i>3.58</i></div>
<div class="c p" style="left:2119.0px;top:1445.7px;width:50.0px;height:33.1px"><i>3.74</i></div>
<div class="c p" style="left:2172.0px;top:1445.7px;width:67.0px;height:33.1px"><i>3.89</i></div>
<div class="c p" style="left:2242.0px;top:1445.7px;width:51.0px;height:33.1px"><i>4.05</i></div>
<div class="c p" style="left:2296.0px;top:1445.7px;width:67.0px;height:33.1px"><i>4.21</i></div>
<div class="c p" style="left:2366.0px;top:1445.7px;width:51.0px;height:33.1px"><i>4.37</i></div>
<div class="c p" style="left:2420.0px;top:1445.7px;width:67.0px;height:33.1px"><i>4.52</i></div>
<div class="c p" style="left:2490.0px;top:1445.7px;width:50.0px;height:33.1px"><i>4.68</i></div>
<div class="c p" style="left:2543.0px;top:1445.7px;width:68.0px;height:33.1px"><i>4.84</i></div>
<div class="c p" style="left:2614.0px;top:1445.7px;width:49.0px;height:33.1px"><i>4.99</i></div>
<div class="c p" style="left:2666.0px;top:1445.7px;width:56.0px;height:33.1px"><i>5.15</i></div>
<div class="c p" style="left:2725.0px;top:1445.7px;width:49.0px;height:33.1px"><i>5.31</i></div>
<div class="c p" style="left:2777.0px;top:1445.7px;width:55.0px;height:33.1px"><i>5.46</i></div>
<div class="c p" style="left:2835.0px;top:1445.7px;width:49.0px;height:33.1px"><i>5.62</i></div>
<div class="c l" style="left:231.0px;top:1481.8px;width:130.0px;height:33.1px"><i>38°C</i></div>
<div class="c p" style="left:364.0px;top:1481.8px;width:62.0px;height:33.1px"><i>-0.68</i></div>
<div class="c p" style="left:429.0px;top:1481.8px;width:68.0px;height:33.1px"><i>-0.52</i></div>
<div class="c p" style="left:500.0px;top:1481.8px;width:55.0px;height:33.1px"><i>-0.35</i></div>
<div class="c p" style="left:558.0px;top:1481.8px;width:68.0px;height:33.1px"><i>-0.19</i></div>
<div class="c p" style="left:629.0px;top:1481.8px;width:56.0px;height:33.1px"><i>-0.02</i></div>
<div class="c p" style="left:688.0px;top:1481.8px;width:66.0px;height:33.1px"><i>0.14</i></div>
<div class="c p" style="left:757.0px;top:1481.8px;width:52.0px;height:33.1px"><i>0.31</i></div>
<div class="c b" style="left:812.0px;top:1481.8px;width:66.0px;height:33.1px"><i>0.48</i></div>
<div class="c b" style="left:881.0px;top:1481.8px;width:51.0px;height:33.1px"><i>0.64</i></div>
<div class="c g" style="left:935.0px;top:1481.8px;width:67.0px;height:33.1px"><i>0.81</i></div>
<div class="c g" style="left:1005.0px;top:1481.8px;width:50.0px;height:33.1px"><i>0.97</i></div>
<div class="c g" style="left:1058.0px;top:1481.8px;width:67.0px;height:33.1px"><i>1.14</i></div>
<div class="c y" style="left:1128.0px;top:1481.8px;width:51.0px;height:33.1px"><i>1.3</i></div>
<div class="c y" style="left:1182.0px;top:1481.8px;width:68.0px;height:33.1px"><i>1.47</i></div>
<div class="c p" style="left:1253.0px;top:1481.8px;width:50.0px;height:33.1px"><i>1.63</i></div>
<div class="c p" style="left:1306.0px;top:1481.8px;width:68.0px;height:33.1px"><i>1.8</i></div>
<div class="c p" style="left:1377.0px;top:1481.8px;width:50.0px;height:33.1px"><i>1.97</i></div>
<div class="c p" style="left:1430.0px;top:1481.8px;width:67.0px;height:33.1px"><i>2.13</i></div>
<div class="c p" style="left:1500.0px;top:1481.8px;width:50.0px;height:33.1px"><i>2.3</i></div>
<div class="c p" style="left:1553.0px;top:1481.8px;width:67.0px;height:33.1px"><i>2.46</i></div>
<div class="c p" style="left:1623.0px;top:1481.8px;width:52.0px;height:33.1px"><i>2.63</i></div>
<div class="c p" style="left:1678.0px;top:1481.8px;width:66.0px;height:33.1px"><i>2.79</i></div>
<div class="c p" style="left:1747.0px;top:1481.8px;width:51.0px;height:33.1px"><i>2.96</i></div>
<div class="c p" style="left:1801.0px;top:1481.8px;width:67.0px;height:33.1px"><i>3.13</i></div>
<div class="c p" style="left:1871.0px;top:1481.8px;width:51.0px;height:33.1px"><i>3.29</i></div>
<div class="c p" style="left:1925.0px;top:1481.8px;width:67.0px;height:33.1px"><i>3.46</i></div>
<div class="c p" style="left:1995.0px;top:1481.8px;width:51.0px;height:33.1px"><i>3.62</i></div>
<div class="c p" style="left:2049.0px;top:1481.8px;width:67.0px;height:33.1px"><i>3.79</i></div>
<div class="c p" style="left:2119.0px;top:1481.8px;width:50.0px;height:33.1px"><i>3.95</i></div>
<div class="c p" style="left:2172.0px;top:1481.8px;width:67.0px;height:33.1px"><i>4.12</i></div>
<div class="c p" style="left:2242.0px;top:1481.8px;width:51.0px;height:33.1px"><i>4.28</i></div>
<div class="c p" style="left:2296.0px;top:1481.8px;width:67.0px;height:33.1px"><i>4.45</i></div>
<div class="c p" style="left:2366.0px;top:1481.8px;width:51.0px;height:33.1px"><i>4.62</i></div>
<div class="c p" style="left:2420.0px;top:1481.8px;width:67.0px;height:33.1px"><i>4.78</i></div>
<div class="c p" style="left:2490.0px;top:1481.8px;width:50.0px;height:33.1px"><i>4.95</i></div>
<div class="c p" style="left:2543.0px;top:1481.8px;width:68.0px;height:33.1px"><i>5.11</i></div>
<div class="c p" style="left:2614.0px;top:1481.8px;width:49.0px;height:33.1px"><i>5.28</i></div>
<div class="c p" style="left:2666.0px;top:1481.8px;width:56.0px;height:33.1px"><i>5.44</i></div>
<div class="c p" style="left:2725.0px;top:1481.8px;width:49.0px;height:33.1px"><i>5.61</i></div>
<div class="c p" style="left:2777.0px;top:1481.8px;width:55.0px;height:33.1px"><i>5.77</i></div>
<div class="c p" style="left:2835.0px;top:1481.8px;width:49.0px;height:33.1px"><i>5.94</i></div>
<div class="c l" style="left:231.0px;top:1517.9px;width:130.0px;height:33.1px"><i>39°C</i></div>
<div class="c p" style="left:364.0px;top:1517.9px;width:62.0px;height:33.1px"><i>-0.72</i></div>
<div class="c p" style="left:429.0px;top:1517.9px;width:68.0px;height:33.1px"><i>-0.54</i></div>
<div class="c p" style="left:500.0px;top:1517.9px;width:55.0px;height:33.1px"><i>-0.37</i></div>
<div class="c p" style="left:558.0px;top:1517.9px;width:68.0px;height:33.1px"><i>-0.2</i></div>
<div class="c p" style="left:629.0px;top:1517.9px;width:56.0px;height:33.1px"><i>-0.02</i></div>
<div class="c p" style="left:688.0px;top:1517.9px;width:66.0px;height:33.1px"><i>0.15</i></div>
<div class="c p" style="left:757.0px;top:1517.9px;width:52.0px;height:33.1px"><i>0.33</i></div>
<div class="c b" style="left:812.0px;top:1517.9px;width:66.0px;height:33.1px"><i>0.5</i></div>
<div class="c b" style="left:881.0px;top:1517.9px;width:51.0px;height:33.1px"><i>0.68</i></div>
<div class="c g" style="left:935.0px;top:1517.9px;width:67.0px;height:33.1px"><i>0.85</i></div>
<div class="c g" style="left:1005.0px;top:1517.9px;width:50.0px;height:33.1px"><i>1.03</i></div>
<div class="c g" style="left:1058.0px;top:1517.9px;width:67.0px;height:33.1px"><i>1.2</i></div>
<div class="c y" style="left:1128.0px;top:1517.9px;width:51.0px;height:33.1px"><i>1.38</i></div>
<div class="c y" style="left:1182.0px;top:1517.9px;width:68.0px;height:33.1px"><i>1.55</i></div>
<div class="c p" style="left:1253.0px;top:1517.9px;width:50.0px;height:33.1px"><i>1.73</i></div>
<div class="c p" style="left:1306.0px;top:1517.9px;width:68.0px;height:33.1px"><i>1.9</i></div>
<div class="c p" style="left:1377.0px;top:1517.9px;width:50.0px;height:33.1px"><i>2.08</i></div>
<div class="c p" style="left:1430.0px;top:1517.9px;width:67.0px;height:33.1px"><i>2.25</i></div>
<div class="c p" style="left:1500.0px;top:1517.9px;width:50.0px;height:33.1px"><i>2.43</i></div>
<div class="c p" style="left:1553.0px;top:1517.9px;width:67.0px;height:33.1px"><i>2.6</i></div>
<div class="c p" style="left:1623.0px;top:1517.9px;width:52.0px;height:33.1px"><i>2.78</i></div>
<div class="c p" style="left:1678.0px;top:1517.9px;width:66.0px;height:33.1px"><i>2.95</i></div>
<div class="c p" style="left:1747.0px;top:1517.9px;width:51.0px;height:33.1px"><i>3.12</i></div>
<div class="c p" style="left:1801.0px;top:1517.9px;width:67.0px;height:33.1px"><i>3.3</i></div>
<div class="c p" style="left:1871.0px;top:1517.9px;width:51.0px;height:33.1px"><i>3.47</i></div>
<div class="c p" style="left:1925.0px;top:1517.9px;width:67.0px;height:33.1px"><i>3.65</i></div>
<div class="c p" style="left:1995.0px;top:1517.9px;width:51.0px;height:33.1px"><i>3.82</i></div>
<div class="c p" style="left:2049.0px;top:1517.9px;width:67.0px;height:33.1px"><i>4</i></div>
<div class="c p" style="left:2119.0px;top:1517.9px;width:50.0px;height:33.1px"><i>4.17</i></div>
<div class="c p" style="left:2172.0px;top:1517.9px;width:67.0px;height:33.1px"><i>4.35</i></div>
<div class="c p" style="left:2242.0px;top:1517.9px;width:51.0px;height:33.1px"><i>4.52</i></div>
<div class="c p" style="left:2296.0px;top:1517.9px;width:67.0px;height:33.1px"><i>4.7</i></div>
<div class="c p" style="left:2366.0px;top:1517.9px;width:51.0px;height:33.1px"><i>4.87</i></div>
<div class="c p" style="left:2420.0px;top:1517.9px;width:67.0px;height:33.1px"><i>5.05</i></div>
<div class="c p" style="left:2490.0px;top:1517.9px;width:50.0px;height:33.1px"><i>5.22</i></div>
<div class="c p" style="left:2543.0px;top:1517.9px;width:68.0px;height:33.1px"><i>5.4</i></div>
<div class="c p" style="left:2614.0px;top:1517.9px;width:49.0px;height:33.1px"><i>5.57</i></div>
<div class="c p" style="left:2666.0px;top:1517.9px;width:56.0px;height:33.1px"><i>5.75</i></div>
<div class="c p" style="left:2725.0px;top:1517.9px;width:49.0px;height:33.1px"><i>5.92</i></div>
<div class="c p" style="left:2777.0px;top:1517.9px;width:55.0px;height:33.1px"><i>6.1</i></div>
<div class="c p" style="left:2835.0px;top:1517.9px;width:49.0px;height:33.1px"><i>6.27</i></div>
<div class="c l" style="left:231.0px;top:1554.0px;width:130.0px;height:33.1px"><i>40°C</i></div>
<div class="c p" style="left:364.0px;top:1554.0px;width:62.0px;height:33.1px"><i>-0.75</i></div>
<div class="c p" style="left:429.0px;top:1554.0px;width:68.0px;height:33.1px"><i>-0.57</i></div>
<div class="c p" style="left:500.0px;top:1554.0px;width:55.0px;height:33.1px"><i>-0.39</i></div>
<div class="c p" style="left:558.0px;top:1554.0px;width:68.0px;height:33.1px"><i>-0.2</i></div>
<div class="c p" style="left:629.0px;top:1554.0px;width:56.0px;height:33.1px"><i>-0.02</i></div>
<div class="c p" style="left:688.0px;top:1554.0px;width:66.0px;height:33.1px"><i>0.17</i></div>
<div class="c p" style="left:757.0px;top:1554.0px;width:52.0px;height:33.1px"><i>0.35</i></div>
<div class="c b" style="left:812.0px;top:1554.0px;width:66.0px;height:33.1px"><i>0.54</i></div>
<div class="c b" style="left:881.0px;top:1554.0px;width:51.0px;height:33.1px"><i>0.72</i></div>
<div class="c g" style="left:935.0px;top:1554.0px;width:67.0px;height:33.1px"><i>0.91</i></div>
<div class="c g" style="left:1005.0px;top:1554.0px;width:50.0px;height:33.1px"><i>1.09</i></div>
<div class="c y" style="left:1058.0px;top:1554.0px;width:67.0px;height:33.1px"><i>1.27</i></div>
<div class="c y" style="left:1128.0px;top:1554.0px;width:51.0px;height:33.1px"><i>1.46</i></div>
<div class="c p" style="left:1182.0px;top:1554.0px;width:68.0px;height:33.1px"><i>1.64</i></div>
<div class="c p" style="left:1253.0px;top:1554.0px;width:50.0px;height:33.1px"><i>1.83</i></div>
<div class="c p" style="left:1306.0px;top:1554.0px;width:68.0px;height:33.1px"><i>2.01</i></div>
<div class="c p" style="left:1377.0px;top:1554.0px;width:50.0px;height:33.1px"><i>2.2</i></div>
<div class="c p" style="left:1430.0px;top:1554.0px;width:67.0px;height:33.1px"><i>2.38</i></div>
<div class="c p" style="left:1500.0px;top:1554.0px;width:50.0px;height:33.1px"><i>2.56</i></div>
<div class="c p" style="left:1553.0px;top:1554.0px;width:67.0px;height:33.1px"><i>2.75</i></div>
<div class="c p" style="left:1623.0px;top:1554.0px;width:52.0px;height:33.1px"><i>2.93</i></div>
<div class="c p" style="left:1678.0px;top:1554.0px;width:66.0px;height:33.1px"><i>3.12</i></div>
<div class="c p" style="left:1747.0px;top:1554.0px;width:51.0px;height:33.1px"><i>3.3</i></div>
<div class="c p" style="left:1801.0px;top:1554.0px;width:67.0px;height:33.1px"><i>3.49</i></div>
<div class="c p" style="left:1871.0px;top:1554.0px;width:51.0px;height:33.1px"><i>3.67</i></div>
<div class="c p" style="left:1925.0px;top:1554.0px;width:67.0px;height:33.1px"><i>3.85</i></div>
<div class="c p" style="left:1995.0px;top:1554.0px;width:51.0px;height:33.1px"><i>4.04</i></div>
<div class="c p" style="left:2049.0px;top:1554.0px;width:67.0px;height:33.1px"><i>4.22</i></div>
<div class="c p" style="left:2119.0px;top:1554.0px;width:50.0px;height:33.1px"><i>4.41</i></div>
<div class="c p" style="left:2172.0px;top:1554.0px;width:67.0px;height:33.1px"><i>4.59</i></div>
<div class="c p" style="left:2242.0px;top:1554.0px;width:51.0px;height:33.1px"><i>4.78</i></div>
<div class="c p" style="left:2296.0px;top:1554.0px;width:67.0px;height:33.1px"><i>4.96</i></div>
<div class="c p" style="left:2366.0px;top:1554.0px;width:51.0px;height:33.1px"><i>5.15</i></div>
<div class="c p" style="left:2420.0px;top:1554.0px;width:67.0px;height:33.1px"><i>5.33</i></div>
<div class="c p" style="left:2490.0px;top:1554.0px;width:50.0px;height:33.1px"><i>5.51</i></div>
<div class="c p" style="left:2543.0px;top:1554.0px;width:68.0px;height:33.1px"><i>5.7</i></div>
<div class="c p" style="left:2614.0px;top:1554.0px;width:49.0px;height:33.1px"><i>5.88</i></div>
<div class="c p" style="left:2666.0px;top:1554.0px;width:56.0px;height:33.1px"><i>6.07</i></div>
<div class="c p" style="left:2725.0px;top:1554.0px;width:49.0px;height:33.1px"><i>6.25</i></div>
<div class="c p" style="left:2777.0px;top:1554.0px;width:55.0px;height:33.1px"><i>6.44</i></div>
<div class="c p" style="left:2835.0px;top:1554.0px;width:49.0px;height:33.1px"><i>6.62</i></div>
<div class="c l" style="left:231.0px;top:1590.1px;width:130.0px;height:33.1px"><i>41°C</i></div>
<div class="c p" style="left:364.0px;top:1590.1px;width:62.0px;height:33.1px"><i>-0.79</i></div>
<div class="c p" style="left:429.0px;top:1590.1px;width:68.0px;height:33.1px"><i>-0.59</i></div>
<div class="c p" style="left:500.0px;top:1590.1px;width:55.0px;height:33.1px"><i>-0.4</i></div>
<div class="c p" style="left:558.0px;top:1590.1px;width:68.0px;height:33.1px"><i>-0.2</i></div>
<div class="c p" style="left:629.0px;top:1590.1px;width:56.0px;height:33.1px"><i>-0.01</i></div>
<div class="c p" style="left:688.0px;top:1590.1px;width:66.0px;height:33.1px"><i>0.19</i></div>
<div class="c p" style="left:757.0px;top:1590.1px;width:52.0px;height:33.1px"><i>0.38</i></div>
<div class="c b" style="left:812.0px;top:1590.1px;width:66.0px;height:33.1px"><i>0.57</i></div>
<div class="c b" style="left:881.0px;top:1590.1px;width:51.0px;height:33.1px"><i>0.77</i></div>
<div class="c g" style="left:935.0px;top:1590.1px;width:67.0px;height:33.1px"><i>0.96</i></div>
<div class="c g" style="left:1005.0px;top:1590.1px;width:50.0px;height:33.1px"><i>1.16</i></div>
<div class="c y" style="left:1058.0px;top:1590.1px;width:67.0px;height:33.1px"><i>1.35</i></div>
<div class="c y" style="left:1128.0px;top:1590.1px;width:51.0px;height:33.1px"><i>1.55</i></div>
<div class="c p" style="left:1182.0px;top:1590.1px;width:68.0px;height:33.1px"><i>1.74</i></div>
<div class="c p" style="left:1253.0px;top:1590.1px;width:50.0px;height:33.1px"><i>1.94</i></div>
<div class="c p" style="left:1306.0px;top:1590.1px;width:68.0px;height:33.1px"><i>2.13</i></div>
<div class="c p" style="left:1377.0px;top:1590.1px;width:50.0px;height:33.1px"><i>2.32</i></div>
<div class="c p" style="left:1430.0px;top:1590.1px;width:67.0px;height:33.1px"><i>2.52</i></div>
<div class="c p" style="left:1500.0px;top:1590.1px;width:50.0px;height:33.1px"><i>2.71</i></div>
<div class="c p" style="left:1553.0px;top:1590.1px;width:67.0px;height:33.1px"><i>2.91</i></div>
<div class="c p" style="left:1623.0px;top:1590.1px;width:52.0px;height:33.1px"><i>3.1</i></div>
<div class="c p" style="left:1678.0px;top:1590.1px;width:66.0px;height:33.1px"><i>3.3</i></div>
<div class="c p" style="left:1747.0px;top:1590.1px;width:51.0px;height:33.1px"><i>3.49</i></div>
<div class="c p" style="left:1801.0px;top:1590.1px;width:67.0px;height:33.1px"><i>3.69</i></div>
<div class="c p" style="left:1871.0px;top:1590.1px;width:51.0px;height:33.1px"><i>3.88</i></div>
<div class="c p" style="left:1925.0px;top:1590.1px;width:67.0px;height:33.1px"><i>4.07</i></div>
<div class="c p" style="left:1995.0px;top:1590.1px;width:51.0px;height:33.1px"><i>4.27</i></div>
<div class="c p" style="left:2049.0px;top:1590.1px;width:67.0px;height:33.1px"><i>4.46</i></div>
<div class="c p" style="left:2119.0px;top:1590.1px;width:50.0px;height:33.1px"><i>4.66</i></div>
<div class="c p" style="left:2172.0px;top:1590.1px;width:67.0px;height:33.1px"><i>4.85</i></div>
<div class="c p" style="left:2242.0px;top:1590.1px;width:51.0px;height:33.1px"><i>5.05</i></div>
<div class="c p" style="left:2296.0px;top:1590.1px;width:67.0px;height:33.1px"><i>5.24</i></div>
<div class="c p" style="left:2366.0px;top:1590.1px;width:51.0px;height:33.1px"><i>5.43</i></div>
<div class="c p" style="left:2420.0px;top:1590.1px;width:67.0px;height:33.1px"><i>5.63</i></div>
<div class="c p" style="left:2490.0px;top:1590.1px;width:50.0px;height:33.1px"><i>5.82</i></div>
<div class="c p" style="left:2543.0px;top:1590.1px;width:68.0px;height:33.1px"><i>6.02</i></div>
<div class="c p" style="left:2614.0px;top:1590.1px;width:49.0px;height:33.1px"><i>6.21</i></div>
<div class="c p" style="left:2666.0px;top:1590.1px;width:56.0px;height:33.1px"><i>6.41</i></div>
<div class="c p" style="left:2725.0px;top:1590.1px;width:49.0px;height:33.1px"><i>6.6</i></div>
<div class="c p" style="left:2777.0px;top:1590.1px;width:55.0px;height:33.1px"><i>6.8</i></div>
<div class="c p" style="left:2835.0px;top:1590.1px;width:49.0px;height:33.1px"><i>6.99</i></div>
<div class="c l" style="left:231.0px;top:1626.3px;width:130.0px;height:33.1px"><i>42°C</i></div>
<div class="c p" style="left:364.0px;top:1626.3px;width:62.0px;height:33.1px"><i>-0.83</i></div>
<div class="c p" style="left:429.0px;top:1626.3px;width:68.0px;height:33.1px"><i>-0.62</i></div>
<div class="c p" style="left:500.0px;top:1626.3px;width:55.0px;height:33.1px"><i>-0.42</i></div>
<div class="c p" style="left:558.0px;top:1626.3px;width:68.0px;height:33.1px"><i>-0.21</i></div>
<div class="c p" style="left:629.0px;top:1626.3px;width:56.0px;height:33.1px"><i>-0.01</i></div>
<div class="c p" style="left:688.0px;top:1626.3px;width:66.0px;height:33.1px"><i>0.2</i></div>
<div class="c b" style="left:757.0px;top:1626.3px;width:52.0px;height:33.1px"><i>0.4</i></div>
<div class="c b" style="left:812.0px;top:1626.3px;width:66.0px;height:33.1px"><i>0.61</i></div>
<div class="c g" style="left:881.0px;top:1626.3px;width:51.0px;height:33.1px"><i>0.81</i></div>
<div class="c g" style="left:935.0px;top:1626.3px;width:67.0px;height:33.1px"><i>1.02</i></div>
<div class="c y" style="left:1005.0px;top:1626.3px;width:50.0px;height:33.1px"><i>1.22</i></div>
<div class="c y" style="left:1058.0px;top:1626.3px;width:67.0px;height:33.1px"><i>1.43</i></div>
<div class="c p" style="left:1128.0px;top:1626.3px;width:51.0px;height:33.1px"><i>1.63</i></div>
<div class="c p" style="left:1182.0px;top:1626.3px;width:68.0px;height:33.1px"><i>1.84</i></div>
<div class="c p" style="left:1253.0px;top:1626.3px;width:50.0px;height:33.1px"><i>2.04</i></div>
<div class="c p" style="left:1306.0px;top:1626.3px;width:68.0px;height:33.1px"><i>2.25</i></div>
<div class="c p" style="left:1377.0px;top:1626.3px;width:50.0px;height:33.1px"><i>2.45</i></div>
<div class="c p" style="left:1430.0px;top:1626.3px;width:67.0px;height:33.1px"><i>2.66</i></div>
<div class="c p" style="left:1500.0px;top:1626.3px;width:50.0px;height:33.1px"><i>2.86</i></div>
<div class="c p" style="left:1553.0px;top:1626.3px;width:67.0px;height:33.1px"><i>3.07</i></div>
<div class="c p" style="left:1623.0px;top:1626.3px;width:52.0px;height:33.1px"><i>3.27</i></div>
<div class="c p" style="left:1678.0px;top:1626.3px;width:66.0px;height:33.1px"><i>3.48</i></div>
<div class="c p" style="left:1747.0px;top:1626.3px;width:51.0px;height:33.1px"><i>3.68</i></div>
<div class="c p" style="left:1801.0px;top:1626.3px;width:67.0px;height:33.1px"><i>3.89</i></div>
<div class="c p" style="left:1871.0px;top:1626.3px;width:51.0px;height:33.1px"><i>4.09</i></div>
<div class="c p" style="left:1925.0px;top:1626.3px;width:67.0px;height:33.1px"><i>4.3</i></div>
<div class="c p" style="left:1995.0px;top:1626.3px;width:51.0px;height:33.1px"><i>4.5</i></div>
<div class="c p" style="left:2049.0px;top:1626.3px;width:67.0px;height:33.1px"><i>4.71</i></div>
<div class="c p" style="left:2119.0px;top:1626.3px;width:50.0px;height:33.1px"><i>4.91</i></div>
<div class="c p" style="left:2172.0px;top:1626.3px;width:67.0px;height:33.1px"><i>5.12</i></div>
<div class="c p" style="left:2242.0px;top:1626.3px;width:51.0px;height:33.1px"><i>5.32</i></div>
<div class="c p" style="left:2296.0px;top:1626.3px;width:67.0px;height:33.1px"><i>5.53</i></div>
<div class="c p" style="left:2366.0px;top:1626.3px;width:51.0px;height:33.1px"><i>5.73</i></div>
<div class="c p" style="left:2420.0px;top:1626.3px;width:67.0px;height:33.1px"><i>5.94</i></div>
<div class="c p" style="left:2490.0px;top:1626.3px;width:50.0px;height:33.1px"><i>6.14</i></div>
<div class="c p" style="left:2543.0px;top:1626.3px;width:68.0px;height:33.1px"><i>6.35</i></div>
<div class="c p" style="left:2614.0px;top:1626.3px;width:49.0px;height:33.1px"><i>6.55</i></div>
<div class="c p" style="left:2666.0px;top:1626.3px;width:56.0px;height:33.1px"><i>6.76</i></div>
<div class="c p" style="left:2725.0px;top:1626.3px;width:49.0px;height:33.1px"><i>6.96</i></div>
<div class="c p" style="left:2777.0px;top:1626.3px;width:55.0px;height:33.1px"><i>7.17</i></div>
<div class="c p" style="left:2835.0px;top:1626.3px;width:49.0px;height:33.1px"><i>7.37</i></div>
<div class="c l" style="left:231.0px;top:1662.4px;width:130.0px;height:33.1px"><i>43°C</i></div>
<div class="c p" style="left:364.0px;top:1662.4px;width:62.0px;height:33.1px"><i>-0.86</i></div>
<div class="c p" style="left:429.0px;top:1662.4px;width:68.0px;height:33.1px"><i>-0.64</i></div>
<div class="c p" style="left:500.0px;top:1662.4px;width:55.0px;height:33.1px"><i>-0.43</i></div>
<div class="c p" style="left:558.0px;top:1662.4px;width:68.0px;height:33.1px"><i>-0.21</i></div>
<div class="c p" style="left:629.0px;top:1662.4px;width:56.0px;height:33.1px"><i>0.01</i></div>
<div class="c p" style="left:688.0px;top:1662.4px;width:66.0px;height:33.1px"><i>0.22</i></div>
<div class="c b" style="left:757.0px;top:1662.4px;width:52.0px;height:33.1px"><i>0.44</i></div>
<div class="c b" style="left:812.0px;top:1662.4px;width:66.0px;height:33.1px"><i>0.65</i></div>
<div class="c g" style="left:881.0px;top:1662.4px;width:51.0px;height:33.1px"><i>0.87</i></div>
<div class="c g" style="left:935.0px;top:1662.4px;width:67.0px;height:33.1px"><i>1.09</i></div>
<div class="c y" style="left:1005.0px;top:1662.4px;width:50.0px;height:33.1px"><i>1.3</i></div>
<div class="c y" style="left:1058.0px;top:1662.4px;width:67.0px;height:33.1px"><i>1.52</i></div>
<div class="c p" style="left:1128.0px;top:1662.4px;width:51.0px;height:33.1px"><i>1.73</i></div>
<div class="c p" style="left:1182.0px;top:1662.4px;width:68.0px;height:33.1px"><i>1.95</i></div>
<div class="c p" style="left:1253.0px;top:1662.4px;width:50.0px;height:33.1px"><i>2.17</i></div>
<div class="c p" style="left:1306.0px;top:1662.4px;width:68.0px;height:33.1px"><i>2.38</i></div>
<div class="c p" style="left:1377.0px;top:1662.4px;width:50.0px;height:33.1px"><i>2.6</i></div>
<div class="c p" style="left:1430.0px;top:1662.4px;width:67.0px;height:33.1px"><i>2.81</i></div>
<div class="c p" style="left:1500.0px;top:1662.4px;width:50.0px;height:33.1px"><i>3.03</i></div>
<div class="c p" style="left:1553.0px;top:1662.4px;width:67.0px;height:33.1px"><i>3.25</i></div>
<div class="c p" style="left:1623.0px;top:1662.4px;width:52.0px;height:33.1px"><i>3.46</i></div>
<div class="c p" style="left:1678.0px;top:1662.4px;width:66.0px;height:33.1px"><i>3.68</i></div>
<div class="c p" style="left:1747.0px;top:1662.4px;width:51.0px;height:33.1px"><i>3.89</i></div>
<div class="c p" style="left:1801.0px;top:1662.4px;width:67.0px;height:33.1px"><i>4.11</i></div>
<div class="c p" style="left:1871.0px;top:1662.4px;width:51.0px;height:33.1px"><i>4.33</i></div>
<div class="c p" style="left:1925.0px;top:1662.4px;width:67.0px;height:33.1px"><i>4.54</i></div>
<div class="c p" style="left:1995.0px;top:1662.4px;width:51.0px;height:33.1px"><i>4.76</i></div>
<div class="c p" style="left:2049.0px;top:1662.4px;width:67.0px;height:33.1px"><i>4.97</i></div>
<div class="c p" style="left:2119.0px;top:1662.4px;width:50.0px;height:33.1px"><i>5.19</i></div>
<div class="c p" style="left:2172.0px;top:1662.4px;width:67.0px;height:33.1px"><i>5.4</i></div>
<div class="c p" style="left:2242.0px;top:1662.4px;width:51.0px;height:33.1px"><i>5.62</i></div>
<div class="c p" style="left:2296.0px;top:1662.4px;width:67.0px;height:33.1px"><i>5.84</i></div>
<div class="c p" style="left:2366.0px;top:1662.4px;width:51.0px;height:33.1px"><i>6.05</i></div>
<div class="c p" style="left:2420.0px;top:1662.4px;width:67.0px;height:33.1px"><i>6.27</i></div>
<div class="c p" style="left:2490.0px;top:1662.4px;width:50.0px;height:33.1px"><i>6.48</i></div>
<div class="c p" style="left:2543.0px;top:1662.4px;width:68.0px;height:33.1px"><i>6.7</i></div>
<div class="c p" style="left:2614.0px;top:1662.4px;width:49.0px;height:33.1px"><i>6.92</i></div>
<div class="c p" style="left:2666.0px;top:1662.4px;width:56.0px;height:33.1px"><i>7.13</i></div>
<div class="c p" style="left:2725.0px;top:1662.4px;width:49.0px;height:33.1px"><i>7.35</i></div>
<div class="c p" style="left:2777.0px;top:1662.4px;width:55.0px;height:33.1px"><i>7.56</i></div>
<div class="c p" style="left:2835.0px;top:1662.4px;width:49.0px;height:33.1px"><i>7.78</i></div>
<div class="c l" style="left:231.0px;top:1698.5px;width:130.0px;height:33.1px"><i>44°C</i></div>
<div class="c p" style="left:364.0px;top:1698.5px;width:62.0px;height:33.1px"><i>-0.9</i></div>
<div class="c p" style="left:429.0px;top:1698.5px;width:68.0px;height:33.1px"><i>-0.67</i></div>
<div class="c p" style="left:500.0px;top:1698.5px;width:55.0px;height:33.1px"><i>-0.44</i></div>
<div class="c p" style="left:558.0px;top:1698.5px;width:68.0px;height:33.1px"><i>-0.22</i></div>
<div class="c p" style="left:629.0px;top:1698.5px;width:56.0px;height:33.1px"><i>0.01</i></div>
<div class="c p" style="left:688.0px;top:1698.5px;width:66.0px;height:33.1px"><i>0.24</i></div>
<div class="c b" style="left:757.0px;top:1698.5px;width:52.0px;height:33.1px"><i>0.47</i></div>
<div class="c b" style="left:812.0px;top:1698.5px;width:66.0px;height:33.1px"><i>0.69</i></div>
<div class="c g" style="left:881.0px;top:1698.5px;width:51.0px;height:33.1px"><i>0.92</i></div>
<div class="c g" style="left:935.0px;top:1698.5px;width:67.0px;height:33.1px"><i>1.15</i></div>
<div class="c y" style="left:1005.0px;top:1698.5px;width:50.0px;height:33.1px"><i>1.38</i></div>
<div class="c y" style="left:1058.0px;top:1698.5px;width:67.0px;height:33.1px"><i>1.6</i></div>
<div class="c p" style="left:1128.0px;top:1698.5px;width:51.0px;height:33.1px"><i>1.83</i></div>
<div class="c p" style="left:1182.0px;top:1698.5px;width:68.0px;height:33.1px"><i>2.06</i></div>
<div class="c p" style="left:1253.0px;top:1698.5px;width:50.0px;height:33.1px"><i>2.29</i></div>
<div class="c p" style="left:1306.0px;top:1698.5px;width:68.0px;height:33.1px"><i>2.51</i></div>
<div class="c p" style="left:1377.0px;top:1698.5px;width:50.0px;height:33.1px"><i>2.74</i></div>
<div class="c p" style="left:1430.0px;top:1698.5px;width:67.0px;height:33.1px"><i>2.97</i></div>
<div class="c p" style="left:1500.0px;top:1698.5px;width:50.0px;height:33.1px"><i>3.2</i></div>
<div class="c p" style="left:1553.0px;top:1698.5px;width:67.0px;height:33.1px"><i>3.42</i></div>
<div class="c p" style="left:1623.0px;top:1698.5px;width:52.0px;height:33.1px"><i>3.65</i></div>
<div class="c p" style="left:1678.0px;top:1698.5px;width:66.0px;height:33.1px"><i>3.88</i></div>
<div class="c p" style="left:1747.0px;top:1698.5px;width:51.0px;height:33.1px"><i>4.11</i></div>
<div class="c p" style="left:1801.0px;top:1698.5px;width:67.0px;height:33.1px"><i>4.33</i></div>
<div class="c p" style="left:1871.0px;top:1698.5px;width:51.0px;height:33.1px"><i>4.56</i></div>
<div class="c p" style="left:1925.0px;top:1698.5px;width:67.0px;height:33.1px"><i>4.79</i></div>
<div class="c p" style="left:1995.0px;top:1698.5px;width:51.0px;height:33.1px"><i>5.02</i></div>
<div class="c p" style="left:2049.0px;top:1698.5px;width:67.0px;height:33.1px"><i>5.24</i></div>
<div class="c p" style="left:2119.0px;top:1698.5px;width:50.0px;height:33.1px"><i>5.47</i></div>
<div class="c p" style="left:2172.0px;top:1698.5px;width:67.0px;height:33.1px"><i>5.7</i></div>
<div class="c p" style="left:2242.0px;top:1698.5px;width:51.0px;height:33.1px"><i>5.93</i></div>
<div class="c p" style="left:2296.0px;top:1698.5px;width:67.0px;height:33.1px"><i>6.15</i></div>
<div class="c p" style="left:2366.0px;top:1698.5px;width:51.0px;height:33.1px"><i>6.38</i></div>
<div class="c p" style="left:2420.0px;top:1698.5px;width:67.0px;height:33.1px"><i>6.61</i></div>
<div class="c p" style="left:2490.0px;top:1698.5px;width:50.0px;height:33.1px"><i>6.84</i></div>
<div class="c p" style="left:2543.0px;top:1698.5px;width:68.0px;height:33.1px"><i>7.06</i></div>
<div class="c p" style="left:2614.0px;top:1698.5px;width:49.0px;height:33.1px"><i>7.29</i></div>
<div class="c p" style="left:2666.0px;top:1698.5px;width:56.0px;height:33.1px"><i>7.52</i></div>
<div class="c p" style="left:2725.0px;top:1698.5px;width:49.0px;height:33.1px"><i>7.75</i></div>
<div class="c p" style="left:2777.0px;top:1698.5px;width:55.0px;height:33.1px"><i>7.97</i></div>
<div class="c p" style="left:2835.0px;top:1698.5px;width:49.0px;height:33.1px"><i>8.2</i></div>
<div class="c l" style="left:231.0px;top:1734.6px;width:130.0px;height:33.1px"><i>45°C</i></div>
<div class="c p" style="left:364.0px;top:1734.6px;width:62.0px;height:33.1px"><i>-0.94</i></div>
<div class="c p" style="left:429.0px;top:1734.6px;width:68.0px;height:33.1px"><i>-0.7</i></div>
<div class="c p" style="left:500.0px;top:1734.6px;width:55.0px;height:33.1px"><i>-0.46</i></div>
<div class="c p" style="left:558.0px;top:1734.6px;width:68.0px;height:33.1px"><i>-0.22</i></div>
<div class="c p" style="left:629.0px;top:1734.6px;width:56.0px;height:33.1px"><i>0.02</i></div>
<div class="c p" style="left:688.0px;top:1734.6px;width:66.0px;height:33.1px"><i>0.26</i></div>
<div class="c b" style="left:757.0px;top:1734.6px;width:52.0px;height:33.1px"><i>0.5</i></div>
<div class="c b" style="left:812.0px;top:1734.6px;width:66.0px;height:33.1px"><i>0.74</i></div>
<div class="c g" style="left:881.0px;top:1734.6px;width:51.0px;height:33.1px"><i>0.98</i></div>
<div class="c y" style="left:935.0px;top:1734.6px;width:67.0px;height:33.1px"><i>1.22</i></div>
<div class="c y" style="left:1005.0px;top:1734.6px;width:50.0px;height:33.1px"><i>1.46</i></div>
<div class="c p" style="left:1058.0px;top:1734.6px;width:67.0px;height:33.1px"><i>1.69</i></div>
<div class="c p" style="left:1128.0px;top:1734.6px;width:51.0px;height:33.1px"><i>1.93</i></div>
<div class="c p" style="left:1182.0px;top:1734.6px;width:68.0px;height:33.1px"><i>2.17</i></div>
<div class="c p" style="left:1253.0px;top:1734.6px;width:50.0px;height:33.1px"><i>2.41</i></div>
<div class="c p" style="left:1306.0px;top:1734.6px;width:68.0px;height:33.1px"><i>2.65</i></div>
<div class="c p" style="left:1377.0px;top:1734.6px;width:50.0px;height:33.1px"><i>2.89</i></div>
<div class="c p" style="left:1430.0px;top:1734.6px;width:67.0px;height:33.1px"><i>3.13</i></div>
<div class="c p" style="left:1500.0px;top:1734.6px;width:50.0px;height:33.1px"><i>3.37</i></div>
<div class="c p" style="left:1553.0px;top:1734.6px;width:67.0px;height:33.1px"><i>3.61</i></div>
<div class="c p" style="left:1623.0px;top:1734.6px;width:52.0px;height:33.1px"><i>3.85</i></div>
<div class="c p" style="left:1678.0px;top:1734.6px;width:66.0px;height:33.1px"><i>4.09</i></div>
<div class="c p" style="left:1747.0px;top:1734.6px;width:51.0px;height:33.1px"><i>4.33</i></div>
<div class="c p" style="left:1801.0px;top:1734.6px;width:67.0px;height:33.1px"><i>4.57</i></div>
<div class="c p" style="left:1871.0px;top:1734.6px;width:51.0px;height:33.1px"><i>4.81</i></div>
<div class="c p" style="left:1925.0px;top:1734.6px;width:67.0px;height:33.1px"><i>5.05</i></div>
<div class="c p" style="left:1995.0px;top:1734.6px;width:51.0px;height:33.1px"><i>5.29</i></div>
<div class="c p" style="left:2049.0px;top:1734.6px;width:67.0px;height:33.1px"><i>5.53</i></div>
<div class="c p" style="left:2119.0px;top:1734.6px;width:50.0px;height:33.1px"><i>5.77</i></div>
<div class="c p" style="left:2172.0px;top:1734.6px;width:67.0px;height:33.1px"><i>6.01</i></div>
<div class="c p" style="left:2242.0px;top:1734.6px;width:51.0px;height:33.1px"><i>6.25</i></div>
<div class="c p" style="left:2296.0px;top:1734.6px;width:67.0px;height:33.1px"><i>6.48</i></div>
<div class="c p" style="left:2366.0px;top:1734.6px;width:51.0px;height:33.1px"><i>6.72</i></div>
<div class="c p" style="left:2420.0px;top:1734.6px;width:67.0px;height:33.1px"><i>6.96</i></div>
<div class="c p" style="left:2490.0px;top:1734.6px;width:50.0px;height:33.1px"><i>7.2</i></div>
<div class="c p" style="left:2543.0px;top:1734.6px;width:68.0px;height:33.1px"><i>7.44</i></div>
<div class="c p" style="left:2614.0px;top:1734.6px;width:49.0px;height:33.1px"><i>7.68</i></div>
<div class="c p" style="left:2666.0px;top:1734.6px;width:56.0px;height:33.1px"><i>7.92</i></div>
<div class="c p" style="left:2725.0px;top:1734.6px;width:49.0px;height:33.1px"><i>8.16</i></div>
<div class="c p" style="left:2777.0px;top:1734.6px;width:55.0px;height:33.1px"><i>8.4</i></div>
<div class="c p" style="left:2835.0px;top:1734.6px;width:49.0px;height:33.1px"><i>8.64</i></div>
<div class="abs" style="left:2884.8px;top:432px;width:3px;height:1338px;background:#8c8c8c"></div>
<div class="abs" style="left:228px;top:1770.3px;width:2657px;height:4.2px;background:#a6a6a6"></div>
</div></div>
<svg class="abs" style="left:0;top:0" width="3000" height="1860" viewBox="0 0 3000 1860">
<g stroke="#ee1111" fill="none" stroke-linecap="round" stroke-linejoin="miter">
<polyline points="210,1009.5 1537.3,1009.5 1537.3,394" stroke-width="6" stroke-linecap="butt"/>
<polyline points="232,996 210,1009.5 232,1023" stroke-width="6" stroke-linejoin="round"/>
<polyline points="1524.5,414 1537.3,392.5 1550,414" stroke-width="6" stroke-linejoin="round"/>
</g></svg>
</body></html>
